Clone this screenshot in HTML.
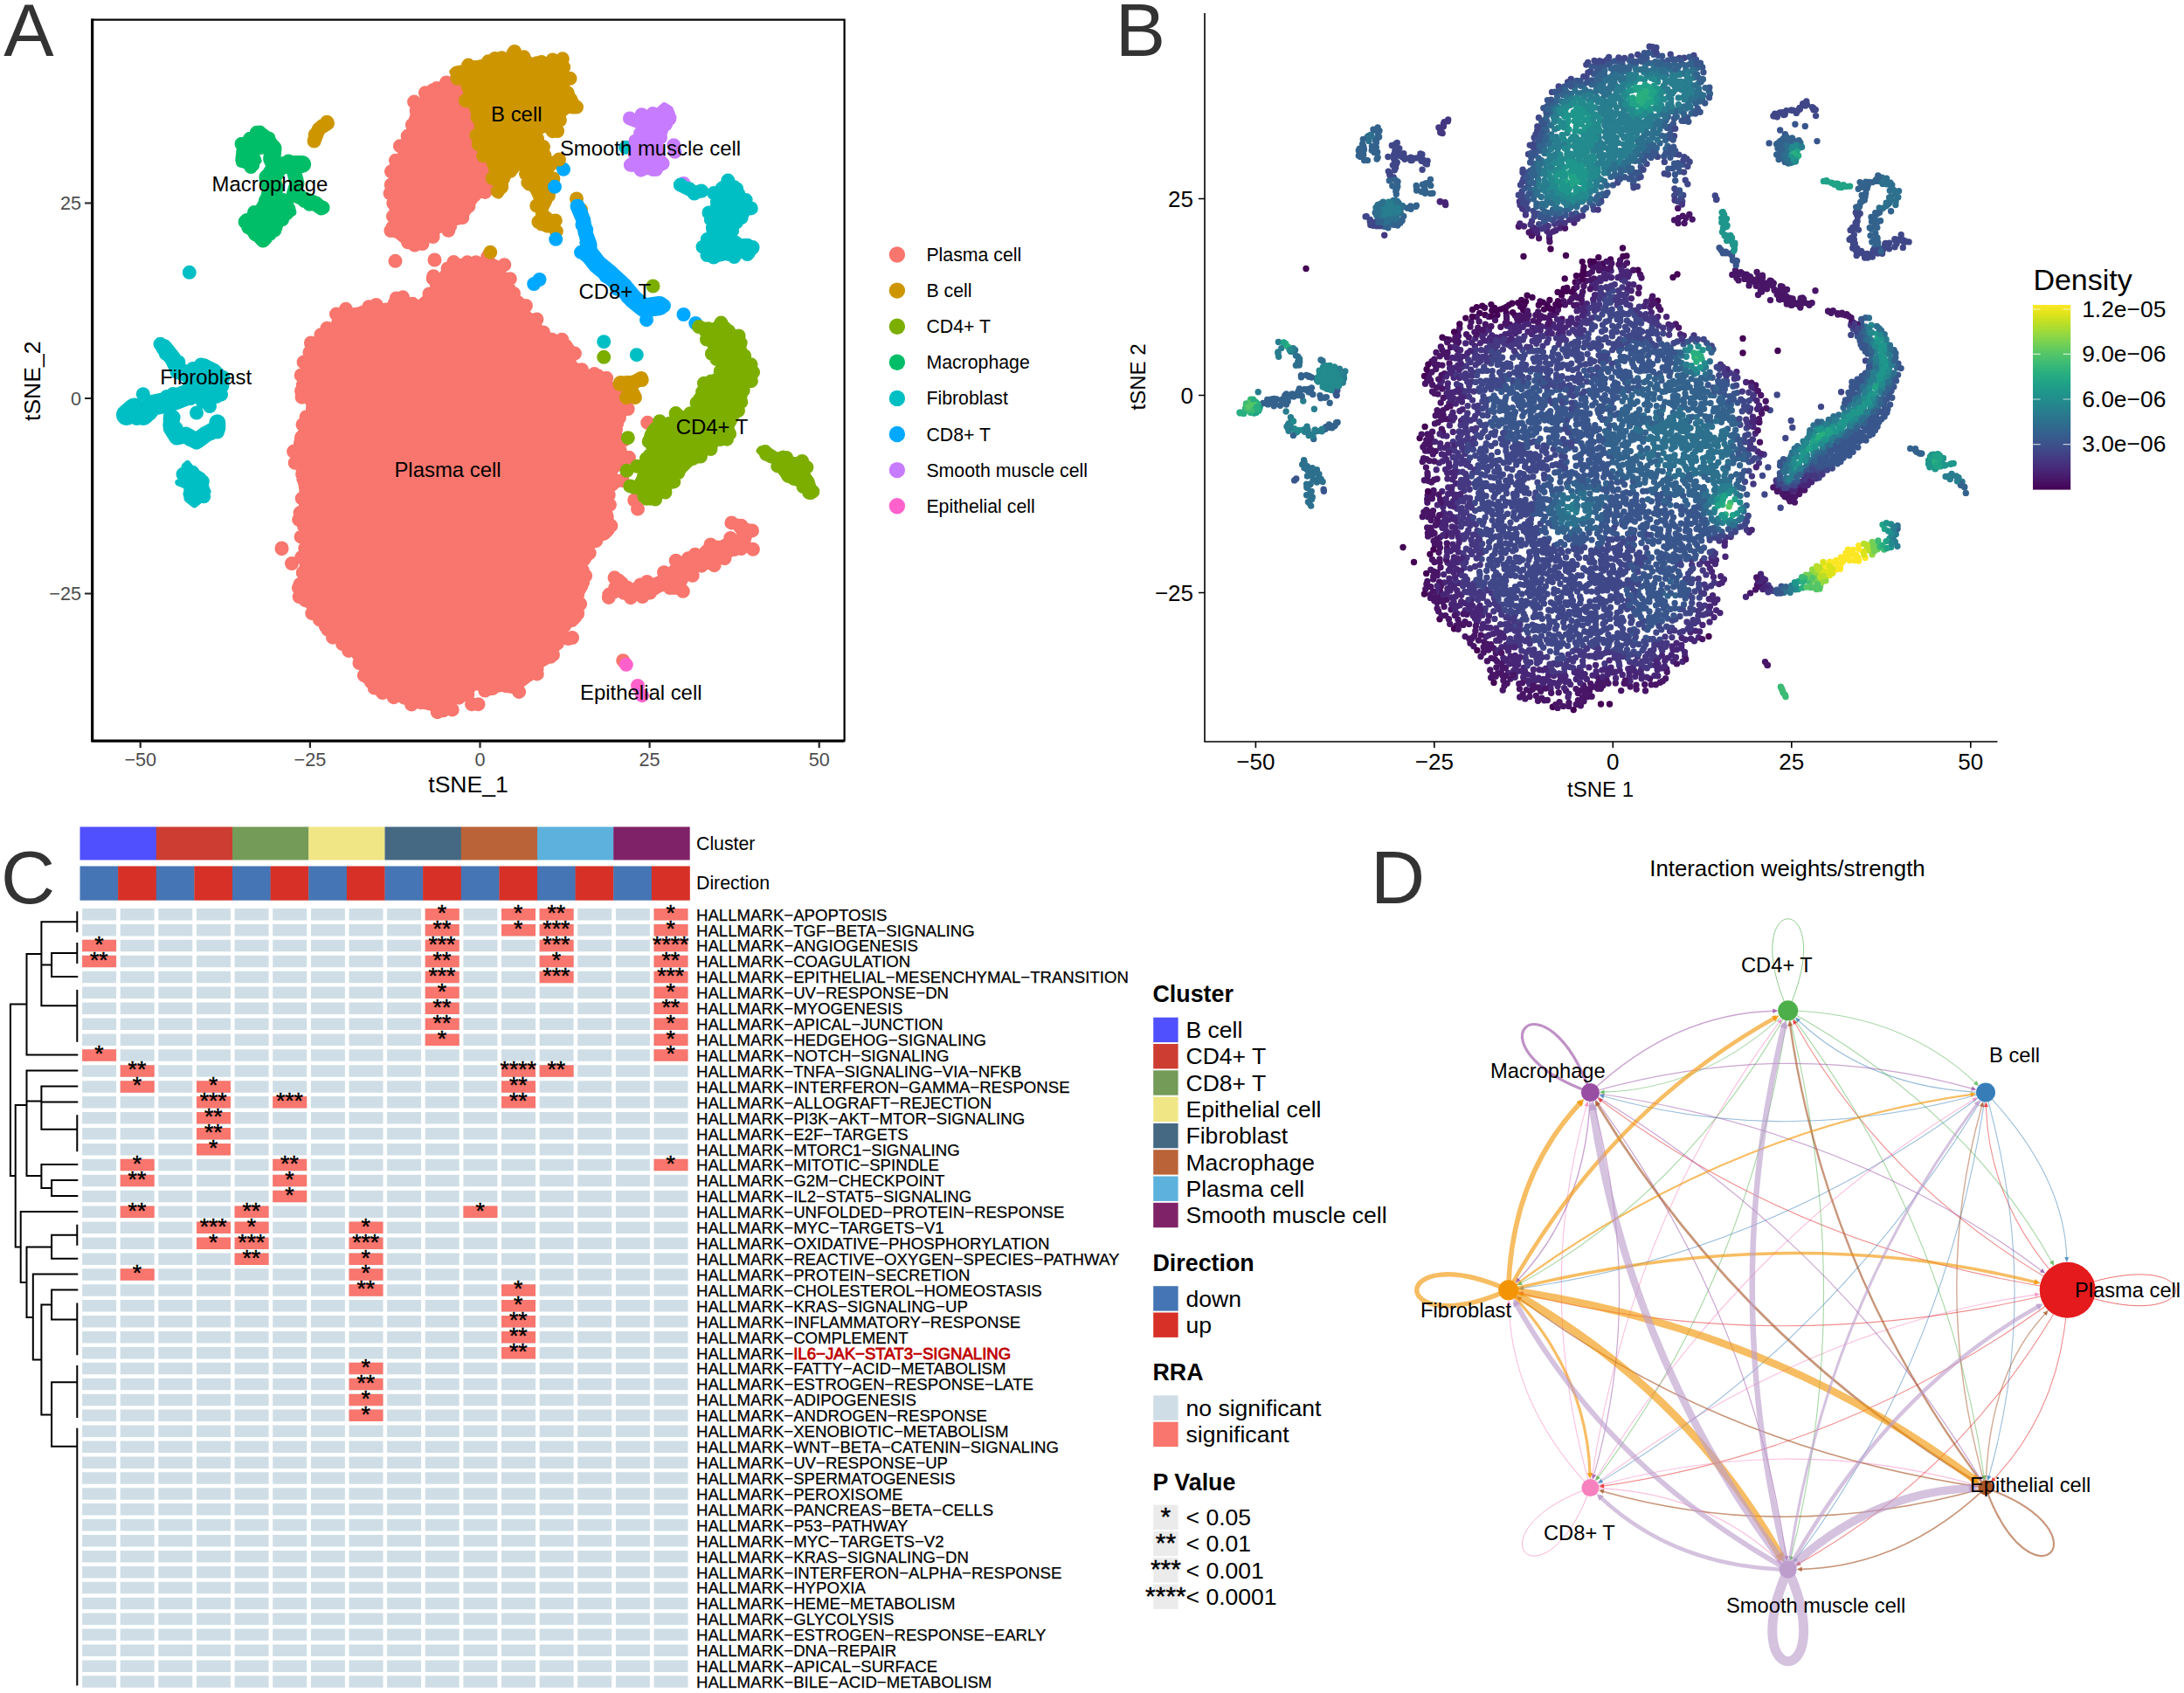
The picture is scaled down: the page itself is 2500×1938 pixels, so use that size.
<!DOCTYPE html><html><head><meta charset="utf-8"><title>Figure</title><style>html,body{margin:0;padding:0;background:#fff}svg{display:block}</style></head><body><svg width="2500" height="1938" viewBox="0 0 2500 1938"><rect width="2500" height="1938" fill="#fff"/><g id="pA">
<g stroke-linecap="round" stroke-linejoin="round">
<path d="M505.1 99.1L493.9 105.8L484.9 112.6L476.2 123.4L471.7 137L466.8 156.7L466.5 157.6L456.7 182.2L447.1 220.4L449.4 239L451.9 253.8L452 254.6L452 255.3L451.9 256L451.8 256.7L451.6 257.3L451.3 258L451 258.6L450.6 259.2L447.3 263.6L451.7 266.9L451.9 267L462.9 275.9L476.2 278.1L476.9 278.3L477.5 278.5L478.2 278.8L478.8 279.1L479.4 279.6L479.9 280.1L481.1 281.2L484 276.4L484.3 275.9L484.7 275.4L485.2 275L485.6 274.5L486.1 274.2L501.1 264.2L501.9 263.7L521.6 253.9L532.3 247.4L541.4 231.5L541.7 231.1L551.7 216.1L552.1 215.6L552.6 215L553.1 214.6L553.7 214.1L554.3 213.8L554.9 213.5L555.6 213.3L568 209.7L568 172.1L544.2 136.4L543.8 135.8L543.5 135.1L529.2 99.3L522.1 93.7L518.9 95.8L518.3 96.2L517.7 96.5L517 96.7L516.4 96.9Z" fill="#F8766D" stroke="#F8766D" stroke-width="8"/>
<path d="M499.9 101.1h0M495.6 103.2h0M486.8 106.3h0M474.1 116.6h0M476.6 126.4h0M471.9 142.9h0M466.6 155.8h0M468.9 156.5h0M457.9 167.2h0M453 183.7h0M452.5 192.7h0M447.9 196.3h0M447.7 211.5h0M446.5 221.3h0M450.3 232.7h0M450 247.7h0M449.5 260.2h0M447.4 264h0M453.1 264.5h0M467 277.3h0M474.7 280.5h0M483.5 279.1h0M495.6 271h0M495.4 267.8h0M513.3 263.8h0M515.2 258.7h0M523.8 249.8h0M529.3 249.1h0M536.4 236.2h0M543.1 223.7h0M555.3 219.9h0M560.9 210.9h0M572 212.6h0M565.5 196.6h0M568.4 188.7h0M563.9 176.2h0M565.6 170.8h0M558 157.1h0M547.9 150.9h0M549.1 140.5h0M541.2 126.7h0M533.6 115h0M531.5 110.1h0M526.4 99.3h0M522.7 90.1h0M510.9 94.4h0" fill="none" stroke="#F8766D" stroke-width="16"/>
<path d="M387.4 359.9L381.4 372.9L381.1 373.5L380.7 374L380.4 374.5L379.9 374.9L367.7 387.2L356.3 400.8L351.7 416.9L351.6 417.2L346.6 432.2L346.3 433.1L342.8 440L356.3 466.9L356.5 467.5L356.8 468.2L356.9 468.8L357 469.5L357 470.2L356.9 470.9L356.8 471.6L356.6 472.3L356.4 472.9L350.1 486.6L349.7 487.5L341.6 500.2L338.4 515.1L341.9 533.7L341.9 533.8L346.9 563.8L347 564.7L347 565.5L345.7 583L345.7 583.7L343.5 596.9L349.1 612.6L349.1 612.8L354.1 627.8L354.3 628.4L354.4 629.1L354.5 629.8L354.5 630.5L354.4 631.2L354.3 631.8L354 632.5L353.8 633.1L346.8 647.1L344.5 665.2L345.6 684.6L355.2 695.3L355.6 695.8L356 696.3L356.3 696.9L362.9 710.1L381.2 721.6L381.8 722L382.3 722.4L382.8 722.9L412.8 757.9L413.2 758.5L413.6 759L413.9 759.6L414.1 760.2L414.3 760.8L418.7 778.6L431.2 789L452.4 798.4L476.9 805.7L500.6 811.7L511.4 810.8L519.5 800.6L520.1 800.1L520.6 799.5L533.1 789.5L533.6 789.2L541.1 784.2L541.7 783.8L542.3 783.5L542.9 783.3L543.6 783.1L544.2 783L544.9 783L545.6 783L546.2 783.1L546.9 783.3L547.5 783.5L548.1 783.7L561.1 790.2L573.8 788.1L574.5 788L575.1 788L575.7 788L576.4 788.1L586.2 790.1L596 784.2L606.9 775.5L611.2 766.9L611.6 766.3L611.9 765.7L612.4 765.2L612.8 764.8L613.3 764.4L613.9 764L626.1 756.7L631.5 752.6L628.5 745.1L628.3 744.5L628.1 743.8L628 743.1L628 742.5L628 741.8L628.1 741.1L628.3 740.5L628.5 739.9L628.8 739.3L629.1 738.7L629.5 738.1L630 737.6L630.5 737.2L631 736.8L631.6 736.4L632.2 736.1L632.8 735.9L646.7 731.2L648.3 730L645.8 728.1L645.3 727.7L644.8 727.2L644.4 726.6L644 726.1L643.7 725.5L643.4 724.8L643.2 724.2L643.1 723.5L643 722.8L643 722.1L643.1 721.5L643.2 720.8L643.4 720.1L643.7 719.5L644 718.9L644.4 718.3L644.8 717.8L645.3 717.3L645.8 716.9L646.4 716.5L647 716.2L647.6 715.9L648.3 715.7L656.4 713.7L661.5 708.6L664.8 700.3L661.2 693.1L661 692.5L660.7 691.8L660.6 691.1L660.5 690.4L660.5 689.6L660.6 688.9L660.7 688.2L661 687.5L661.2 686.9L671.1 667.1L669.2 661.9L660.8 655.6L660.3 655.2L659.8 654.7L659.4 654.2L659 653.6L658.7 653L658.4 652.4L658.2 651.7L658.1 651.1L658 650.4L658 649.7L658.1 649L658.2 648.4L658.4 647.7L658.6 647.1L658.9 646.5L659.3 645.9L659.7 645.4L660.2 644.9L660.7 644.5L661.3 644.1L661.9 643.7L670.9 639.2L672.6 637.5L670.1 634.9L669.6 634.4L669.2 633.9L668.8 633.3L668.5 632.7L668.3 632L668.1 631.4L668 630.7L668 630L668 629.3L668.1 628.6L668.3 628L668.5 627.3L668.8 626.7L669.2 626.1L669.6 625.6L670.1 625L670.6 624.6L671.1 624.2L678.6 619.2L679.1 618.9L679.7 618.6L680.3 618.4L693.7 613.9L699 608.6L696.2 603.1L696 602.5L695.8 601.9L695.6 601.3L695.5 600.6L695.5 599.9L695.5 599.3L695.6 598.6L697.7 588.2L693.5 577.6L693.3 577L693.1 576.3L693 575.7L693 575L693 574.4L693.1 573.7L693.3 573.1L693.5 572.5L693.7 571.9L698.7 561.9L699.1 561.2L699.6 560.6L700.1 560L700.6 559.5L704.6 556.4L704.4 556.3L703.8 555.9L703.2 555.5L702.7 555.1L702.2 554.6L701.8 554.1L701.5 553.5L701.1 552.9L700.9 552.3L700.7 551.6L700.6 551L700.5 550.3L700.5 549.6L700.6 549L700.7 548.3L703.2 538.3L703.4 537.6L703.7 537L704 536.4L704.4 535.8L704.8 535.3L705.3 534.8L705.8 534.4L714.8 527.6L716.3 525.4L709.5 516.9L709.1 516.3L708.8 515.8L708.5 515.1L708.3 514.5L708.1 513.9L708 513.2L708 512.5L708 511.9L708.1 511.2L708.3 510.5L708.5 509.9L711.8 501.7L707.6 497.4L707.1 496.9L706.7 496.4L706.3 495.8L706 495.2L705.8 494.6L705.6 493.9L705.5 493.2L705.5 492.6L705.5 491.9L705.6 491.2L705.8 490.5L706 489.9L711 477.4L711.3 476.8L711.6 476.2L712 475.7L712.5 475.1L712.9 474.7L718.2 470.1L716 462.6L709.4 449.5L686.6 431.2L672.8 426.6L672.1 426.4L671.4 426L658.9 418.5L658.3 418.1L657.8 417.7L657.3 417.2L656.9 416.7L656.5 416.1L656.2 415.5L655.9 414.9L655.7 414.2L655.6 413.5L655.5 412.8L655.5 412.2L655.6 411.5L655.7 410.8L657.5 403.8L650.2 392.9L638.3 387L627.5 387L626.8 387L626.2 386.9L625.5 386.7L624.9 386.5L624.3 386.2L623.7 385.9L623.2 385.5L622.7 385.1L622.2 384.6L621.8 384.1L621.5 383.5L621.2 382.9L620.9 382.3L620.7 381.7L619.5 376.9L615.1 372.4L614.6 372L602.1 357L601.6 356.3L601.2 355.6L594.8 342.7L586.9 338.8L586.2 338.4L585.6 338L585.1 337.5L584.6 337L584.2 336.4L583.8 335.8L583.5 335.1L583.3 334.4L578.5 317.7L569.9 302.6L559.1 296.4L542.1 301.7L541.5 301.8L540.8 302L540.2 302L539.5 302L538.8 301.9L525.8 299.7L517.6 303L511.3 315.6L510.9 316.2L510.5 316.8L510 317.4L509.5 317.8L509 318.3L508.4 318.6L507.7 318.9L507.1 319.2L506.4 319.4L498.6 320.9L496.9 331.2L496.8 331.8L496.5 332.5L496.2 333.2L495.9 333.8L495.5 334.4L495 334.9L494.5 335.4L479.5 347.9L478.9 348.3L478.3 348.7L477.7 349L477 349.2L476.3 349.4L475.6 349.5L474.9 349.5L474.2 349.5L473.5 349.3L472.8 349.2L472.2 348.9L471.5 348.6L459.4 341.6L455.6 346.7L455.2 347.2L454.7 347.7L454.1 348.2L453.5 348.6L452.9 348.9L452.2 349.1L451.6 349.3L450.9 349.4L431 351.9L401.3 356.9Z" fill="#F8766D" stroke="#F8766D" stroke-width="8"/>
<path d="M385 359.6h0M385.5 374.2h0M374.5 375.7h0M367.4 383.2h0M355.9 392.4h0M354.4 403.5h0M347.6 414.6h0M351.2 428.8h0M344.7 429.5h0M345 447.5h0M345.6 454.7h0M358 467.7h0M357.6 471.3h0M350.5 477.3h0M346.5 486.1h0M345.1 500.3h0M342.9 516.7h0M336.1 516.8h0M337.7 529.8h0M346.1 543.1h0M347.2 548.3h0M350 565.2h0M345.7 570.6h0M343.5 587.1h0M342.2 594.9h0M348.1 602.6h0M344.6 614.4h0M349.3 627.7h0M353.4 634.2h0M345.1 638.1h0M346.7 655.4h0M343.4 668.8h0M341.9 672.9h0M342.6 683.1h0M349.6 687.2h0M357.2 702.1h0M366 709.4h0M372.9 717.2h0M375.2 720.6h0M381 729.7h0M392.1 737h0M399.2 744.9h0M410.3 749h0M411.5 759h0M416.8 773.1h0M425.1 780.9h0M428.7 787.6h0M437.9 793h0M450.7 798.2h0M462.9 798.7h0M471.1 806.4h0M471 805h0M481.9 804.2h0M500.7 815.2h0M507.3 813.3h0M517.7 812.4h0M525.4 798.7h0M535.3 795.1h0M537 787.3h0M545.3 782.6h0M555.3 790.6h0M563.7 788h0M579.8 785.3h0M594.1 791.9h0M593.5 780.8h0M605.2 772.4h0M614.8 771.4h0M614.6 766.1h0M630.2 751.8h0M632.9 749.7h0M632.9 741.6h0M637.8 736.7h0M650.5 731.1h0M644 726.5h0M646.3 716.1h0M655.3 708.8h0M661.1 702.5h0M664.2 691.3h0M661.1 680.9h0M665.1 671.2h0M670.2 659.1h0M666.8 652.9h0M659.4 645.8h0M668.2 640.7h0M674.7 633h0M673.4 625.8h0M676.6 616.1h0M682.2 619.2h0M693 608.4h0M699.4 601.8h0M694.8 591.5h0M692.8 581.8h0M697.9 577.8h0M696.7 566.7h0M704.2 551.7h0M701.2 547.3h0M703.8 533.7h0M707.7 529.9h0M711.8 522.6h0M709.8 515.4h0M713.6 504.1h0M705 491.6h0M706.2 484.7h0M708.9 478.3h0M718.7 468.1h0M710.3 457h0M712.8 451.9h0M700.7 444.9h0M694.2 432.8h0M684.1 430h0M680.3 428.1h0M666 423.2h0M652.5 418.8h0M657.9 404.6h0M648.8 398.1h0M643.2 388.7h0M631.9 388.7h0M623 383.6h0M622 380.4h0M614.4 365.5h0M606 365.8h0M601.9 350h0M595.1 348.1h0M588 336h0M582.1 329.3h0M583.8 319.2h0M577.3 303.2h0M572.3 306.1h0M558.2 293.8h0M544.8 300.2h0M542.5 305.3h0M534.9 300.3h0M519.3 300.1h0M512.5 307.5h0M510.3 315.7h0M495.7 318.9h0M499.7 325.5h0M491.4 336.4h0M481.3 351h0M472.2 347.8h0M461.1 340.3h0M453.7 341.5h0M451.6 347.3h0M430.6 349h0M422.3 351.2h0M415.6 357.4h0M407.5 360h0M395.9 353.8h0" fill="none" stroke="#F8766D" stroke-width="16"/>
<path d="M695.5 682.1L695.6 682L696.2 681.6L696.9 681.2L706.9 676.2L707.5 676L708.2 675.7L708.9 675.6L709.6 675.5L710.4 675.5L711.1 675.6L711.8 675.7L712.5 676L713.1 676.2L722.8 681.1L730.1 683.8L745 678.5L757.4 673.5L758 673.3L758.6 673.1L759.3 673L759.9 673L760.6 673L761.2 673.1L761.8 673.2L762.5 673.4L771.3 676.8L778 676.8L781.1 669.7L781.2 669.4L786.2 659.4L786.6 658.8L786.9 658.2L787.4 657.7L787.8 657.3L788.3 656.9L788.9 656.5L801.4 649L802.1 648.6L802.8 648.4L817.3 643.5L846.9 628.7L847.5 628.5L848.1 628.3L848.7 628.1L849.4 628L850 628L859.6 628L860.1 627.5L857.6 624.9L857.1 624.4L856.7 623.9L856.3 623.3L856 622.6L855.8 621.9L855.6 621.3L855.5 620.6L855.5 619.9L855.6 619.2L855.7 618.5L855.9 617.8L858.4 610.3L858.6 609.6L858.9 609L859.3 608.4L861.5 605.4L859.5 604L850.8 601.8L850.2 601.6L849.6 601.4L849.1 601.1L848.5 600.8L848 600.4L844.8 597.7L841.3 600.5L841.6 602.2L848.1 610.8L848.5 611.4L848.8 612L849.1 612.6L849.3 613.2L849.4 613.9L849.5 614.5L849.5 615.2L849.4 615.9L849.3 616.6L849.1 617.2L848.9 617.8L848.6 618.4L848.2 619L847.8 619.5L847.4 620L846.9 620.5L846.3 620.9L845.7 621.2L845.1 621.5L844.5 621.7L843.8 621.9L843.1 622L842.5 622L841.8 622L841.1 621.9L831 619.8L818.1 626.3L817.2 626.6L803.8 631.1L794.9 639.9L794.4 640.4L793.8 640.9L793.2 641.2L792.5 641.5L791.9 641.7L791.2 641.9L777.9 644.1L754.4 663L753.9 663.3L753.3 663.6L752.8 663.9L752.2 664.1L738.3 668.8L729.2 675.6L728.6 676L728 676.3L727.4 676.6L726.8 676.8L726.1 676.9L725.4 677L724.7 677L724.1 676.9L723.4 676.8L722.7 676.6L722.1 676.4L721.5 676.1L720.9 675.7L720.4 675.3L719.9 674.8L719.5 674.3L719.1 673.7L718.7 673.1L714.6 664.8L710.6 662.2L703.1 662.8L705.4 665.5L705.8 666.1L706.1 666.6L706.4 667.2L706.7 667.8L706.8 668.5L706.9 669.1L707 669.8L707 670.5L706.9 671.1L706.8 671.8L706.6 672.4L706.3 673L706 673.6L705.6 674.2L705.2 674.7L704.7 675.2L704.2 675.6L695.5 682.1Z" fill="#F8766D" stroke="#F8766D" stroke-width="8"/>
<path d="M696.8 683.9h0M704.2 673h0M714.3 678.8h0M722 684.2h0M735.4 683.1h0M744 678.6h0M749.4 673.3h0M767 673.1h0M781.8 676.8h0M777.4 669.2h0M781.6 659.9h0M792.7 658.8h0M803.1 647.7h0M811.4 644.1h0M817.6 647.2h0M829.5 639.2h0M840.5 629.1h0M848.3 628.1h0M861.9 628.8h0M851.9 623.4h0M861 607.4h0M858.5 607.4h0M848.5 601.7h0M837.4 598.4h0M849.7 615.6h0M845.8 623.6h0M836.2 616h0M821.6 626.6h0M813.4 623.4h0M808.8 631.2h0M795.7 634.7h0M787.7 639.3h0M773.7 641.7h0M774.8 650.7h0M760 655.2h0M759.4 663.6h0M740.7 666h0M733 669.4h0M728.6 674h0M717.9 672.5h0M708.1 664.5h0M703.5 661.3h0M702.8 677.6h0M697.3 680.6h0" fill="none" stroke="#F8766D" stroke-width="16"/>
<path d="M452.5 298.8h0M497.5 297.5h0M496.2 316.2h0M322.5 628.2h0M540 806.2h0M741.2 483.8h0M720 523.8h0M712.5 550h0M730 582.5h0M726.2 572.5h0M713.2 756.2h0M547.5 806.2h0M322.5 627.5h0M334 645h0M670 637.5h0M655 730h0" fill="none" stroke="#F8766D" stroke-width="16"/>
<path d="M561.2 288.8h0" fill="none" stroke="#CD9600" stroke-width="16"/>
<path d="M518.4 82.3L528.7 92.6L529.1 93L529.5 93.5L529.8 94L530.1 94.6L530.3 95.1L536.6 112.6L544.1 132.5L544.3 133.3L549.2 153.1L555.4 172.7L562.8 192.5L562.9 192.9L569.2 212.9L569.4 213.8L571.1 223.6L576.1 216.9L578.2 208.3L578.4 207.6L578.7 206.9L583.7 196.9L584.1 196.2L584.6 195.5L590.9 188L591.3 187.5L591.9 187L592.4 186.6L593 186.3L593.7 186L594.3 185.8L595 185.6L595.7 185.5L596.4 185.5L597.1 185.5L597.8 185.7L598.4 185.8L599.1 186.1L599.7 186.4L600.3 186.8L600.8 187.2L601.3 187.7L601.8 188.2L602.2 188.8L602.5 189.4L602.8 190L606.6 200L606.7 200.6L606.9 201.3L607 201.9L607 202.5L607 212.9L610.8 218.6L611.3 219.4L616.3 229.4L616.6 230.3L621.6 245.3L621.8 245.9L621.9 246.6L622 247.3L622 248L621.9 248.7L621.8 249.3L621.5 250L621.3 250.6L617.5 258.2L618 260.1L621.2 260.6L621.4 260.6L631.5 262.7L636.5 260.2L637.2 257.1L633 252.9L626.1 248.3L625.6 247.9L625.1 247.5L624.6 247L624.2 246.4L623.9 245.9L623.6 245.3L623.3 244.6L623.2 244L623 243.3L623 242.6L623 242L623.1 241.3L623.3 240.6L623.5 240L623.7 239.4L628.1 230.6L629.2 217.5L628 200.5L628 199.8L628 199.2L628.2 198.5L628.3 197.9L628.6 197.3L628.8 196.7L629.2 196.1L633.7 189.4L633.3 189.5L632.6 189.5L632 189.5L631.3 189.4L630.6 189.2L630 189L629.4 188.8L624.4 186.3L623.8 185.9L623.2 185.5L622.6 185L622.2 184.5L621.7 184L621.4 183.4L621.1 182.7L620.8 182.1L620.6 181.4L615.6 156.4L615.5 155.7L615.5 155L615.5 154.4L615.6 153.7L615.8 153L616 152.4L616.3 151.8L616.6 151.2L617 150.6L617.5 150.1L618 149.7L618.5 149.3L619.1 148.9L619.7 148.6L620.3 148.4L621 148.2L621.6 148.1L622.3 148L623 148L623.7 148.1L630.1 149.2L636.2 148.4L641.1 141.9L643.2 133.3L643.4 132.6L643.7 132L644 131.4L644.4 130.8L644.8 130.3L645.3 129.8L645.8 129.4L654.6 122.8L658.5 115.9L656.6 111.5L650.1 104.9L649.6 104.4L649.2 103.9L648.8 103.3L648.5 102.7L648.3 102L648.1 101.4L648 100.7L648 100L648 90.7L645.9 80.2L640.2 71.7L635.4 69.3L628.7 73.4L628.1 73.8L627.5 74L626.9 74.2L626.3 74.4L625.6 74.5L624.9 74.5L624.3 74.5L623.6 74.4L623 74.2L610.5 70.5L609.9 70.3L609.4 70L589.2 59.9L583.9 61.2L577.8 68.3L577.3 68.8L576.8 69.3L576.2 69.7L575.6 70L575 70.3L574.3 70.5L573.6 70.7L572.9 70.7L551.2 71.9L534.4 76.7L534.2 76.8L520.8 80.1Z" fill="#CD9600" stroke="#CD9600" stroke-width="8"/>
<path d="M523.2 83.5h0M523.5 89.8h0M536.5 99.2h0M532.8 115.2h0M534.4 115.2h0M546.5 134.3h0M550.8 147.1h0M545.3 154.9h0M547.7 165.2h0M553.3 170h0M553.1 178.3h0M566 187.9h0M563.6 203.9h0M572 213.9h0M569.7 219h0M574.2 214h0M575.8 204.5h0M587.1 192.1h0M584.3 195.8h0M600.2 189.9h0M602 199.1h0M604.3 208.9h0M605.9 210.6h0M618.3 228.2h0M614.3 235.5h0M625.3 249.4h0M616.4 254h0M626.4 258.5h0M636.8 264.7h0M635.8 252.4h0M627.4 252h0M620.7 244.8h0M624.1 227.5h0M628 223.8h0M633.4 204.5h0M624.9 201.1h0M634.1 186.2h0M627.5 188.3h0M623.4 178h0M622 168.1h0M615.1 158.9h0M616.7 147.2h0M632.6 150.2h0M638.1 150h0M640.9 137.5h0M655.3 122.6h0M660 122.6h0M649.8 106.3h0M647.2 108.6h0M652.5 89.8h0M645.2 76.8h0M643.9 67.3h0M632.6 68.5h0M619.8 71h0M614.5 72.3h0M599.7 65.3h0M589 59h0M587.5 60.9h0M574.4 66.3h0M566.6 66.9h0M558.9 70.3h0M544.2 77.1h0M536.1 74.6h0M527.9 83.3h0" fill="none" stroke="#CD9600" stroke-width="16"/>
<path d="M645 193.8h0M635 213.8h0" fill="none" stroke="#00A9FF" stroke-width="16"/>
<path d="M640 182.5h0M660 227.5h0M665 240h0" fill="none" stroke="#CD9600" stroke-width="16"/>
<path d="M375 141.2L365 147.5L360 160" fill="none" stroke="#CD9600" stroke-width="16"/>
<path d="M374.3 139.7h0M369 144.2h0M360.7 154.2h0M359.6 161.6h0" fill="none" stroke="#CD9600" stroke-width="16"/>
<path d="M710 438L722 440L734 433" fill="none" stroke="#CD9600" stroke-width="16"/>
<path d="M709.5 439.9h0M718.4 437.7h0M724.1 437.6h0M734.7 435h0" fill="none" stroke="#CD9600" stroke-width="16"/>
<path d="M720 442L727 455" fill="none" stroke="#CD9600" stroke-width="16"/>
<path d="M717.9 442.6h0M722.9 448.5h0M725.2 453.9h0" fill="none" stroke="#CD9600" stroke-width="16"/>
<path d="M717 455h0" fill="none" stroke="#CD9600" stroke-width="16"/>
<path d="M273.3 183L274.3 187.3L280.6 189.2L291.2 188.4L295.7 184L293 177.3L292.9 176.9L292.8 176.5L292.7 176.2L292.7 175.8L292.7 175.4L292.8 175L292.9 174.6L293 174.3L293.2 173.9L293.4 173.6L293.6 173.3L293.9 173L299.4 167.5L299.6 167.2L299.9 167L300.1 166.9L306.9 162.8L305.8 157.5L298.8 149.1L293.2 150.2L283.2 160.2L274.8 170.2Z" fill="#00BE67" stroke="#00BE67" stroke-width="8"/>
<path d="M278.9 182.7h0M287.2 191.1h0M289.2 188.9h0M292.2 168.8h0M298.3 169h0M307.6 158.4h0M297.2 151.4h0M293.8 151.8h0M286 158.8h0M276.6 164.7h0M278.6 173.7h0" fill="none" stroke="#00BE67" stroke-width="16"/>
<path d="M300 156.2L312.5 170L311.2 182.5L317.5 190L337.5 188L346.2 188" fill="none" stroke="#00BE67" stroke-width="20"/>
<path d="M300.6 158.6h0M301.1 165h0M307 168.6h0M312.5 175.8h0M309.5 181.6h0M316.9 187.7h0M324.5 189h0M330.2 184.4h0M339.6 187.9h0M343.9 190.4h0" fill="none" stroke="#00BE67" stroke-width="16"/>
<path d="M315 195L308.8 205L312.5 215L310 227.5" fill="none" stroke="#00BE67" stroke-width="24"/>
<path d="M318.6 194.5h0M307.1 200.6h0M304.4 202.3h0M311.1 208.4h0M310.6 220.7h0M304 229.3h0" fill="none" stroke="#00BE67" stroke-width="16"/>
<path d="M300.2 230.8L293.4 242.1L293.2 242.4L293 242.7L292.7 243L292.4 243.2L292.1 243.4L282.1 249.4L283.6 255.5L300 271.8L304.7 267.2L304.9 266.9L305.2 266.7L305.6 266.5L305.9 266.3L306.2 266.2L319.2 261.9L321.1 254L321.2 253.7L321.4 253.3L321.5 253L321.7 252.7L322 252.4L322.2 252.1L322.5 251.9L322.8 251.7L335.4 243.2L334 237.3L316.9 224.5Z" fill="#00BE67" stroke="#00BE67" stroke-width="8"/>
<path d="M302.8 234.6h0M291 243.1h0M290.7 245.3h0M291.9 259.6h0M292.4 268.4h0M304.1 272.6h0M309 267.9h0M314.3 263.6h0M323 251.3h0M327.8 244.7h0M328.5 235h0M323.4 228.7h0M315.7 231.1h0M309.9 227.3h0" fill="none" stroke="#00BE67" stroke-width="16"/>
<path d="M336.2 195L340 210L336.2 222.5L347.5 227.5L360 232.5L368 238" fill="none" stroke="#00BE67" stroke-width="17"/>
<path d="M338 192.7h0M338.2 202.7h0M338.9 211h0M338.6 216.1h0M338.6 220.1h0M345.6 226.1h0M348.6 230h0M354.4 233.8h0M362.6 233.1h0M369.6 237.7h0" fill="none" stroke="#00BE67" stroke-width="16"/>
<path d="M282.5 252.5L290 262.5L301.2 275" fill="none" stroke="#00BE67" stroke-width="17"/>
<path d="M280.6 254h0M284.2 260.3h0M290 264.9h0M299.3 270.1h0M302.2 273.9h0" fill="none" stroke="#00BE67" stroke-width="16"/>
<path d="M216.8 311.8h0M691.2 391.2h0M728.8 406.2h0M716.2 168.8h0" fill="none" stroke="#00BFC4" stroke-width="16"/>
<path d="M187.5 397.5L197.5 410L205 425L220 430" fill="none" stroke="#00BFC4" stroke-width="19"/>
<path d="M183.5 393.8h0M189.8 404.8h0M197 410.3h0M204.4 414.5h0M202.6 425.9h0M208.5 423.5h0M218.8 426.9h0" fill="none" stroke="#00BFC4" stroke-width="16"/>
<path d="M222.8 418.3L216.6 430.7L218.8 448.4L227.2 458.8L239.4 460.8L252 454.5L258.3 441.9L256.3 429.4L247.6 420.8L234.7 414.3Z" fill="#00BFC4" stroke="#00BFC4" stroke-width="8"/>
<path d="M220.8 422h0M215.9 432.4h0M216.4 444h0M218.2 445.4h0M231.9 459.8h0M235.3 455.1h0M248 453.9h0M253.1 451.5h0M254.2 441.7h0M255.6 432.1h0M245.5 426.5h0M242.4 423.2h0M230 417.5h0" fill="none" stroke="#00BFC4" stroke-width="16"/>
<path d="M145 475L153.8 467.5L163.8 475L175 463.8L187.5 461.2L200 457.5L212.5 452.5L230 447.5" fill="none" stroke="#00BFC4" stroke-width="24"/>
<path d="M145.1 476.8h0M154.8 465.9h0M154 467h0M156.6 479.1h0M171.6 473.6h0M166.8 470h0M183.1 462.3h0M190.4 460.7h0M190.9 454h0M198.1 450.9h0M206.4 457.3h0M218.1 456.1h0M225.5 446.5h0M230.7 446.7h0" fill="none" stroke="#00BFC4" stroke-width="16"/>
<path d="M163.8 451.2h0" fill="none" stroke="#00BFC4" stroke-width="16"/>
<path d="M196.2 477.5L196.2 490L202.5 500L212.5 498L225 505L235 497.5L248.8 490L248.8 483.8" fill="none" stroke="#00BFC4" stroke-width="19"/>
<path d="M198.6 477.7h0M194.4 486.2h0M201.4 490h0M204.7 494.8h0M206.4 496.7h0M217.4 503.2h0M224 501.9h0M231.4 501.1h0M232.3 501.2h0M242 495.8h0M248.9 494.5h0M248.5 486.5h0" fill="none" stroke="#00BFC4" stroke-width="16"/>
<path d="M225 472.5h0M240 465h0" fill="none" stroke="#00BFC4" stroke-width="16"/>
<path d="M204.3 552.4L214 556.3L214.3 556.5L214.7 556.7L215 556.9L215.3 557.1L215.6 557.4L215.8 557.8L216 558.1L216.2 558.5L216.3 558.8L216.4 559.2L216.5 559.6L216.5 560L216.5 560.4L216.4 560.8L214.4 570.9L222.5 577.4L232.1 569.7L237.6 562.4L234.2 557.2L234 556.9L233.8 556.5L233.7 556.2L233.6 555.8L231.4 545L220.4 538.4L220.1 538.2L219.8 538L219.5 537.7L219.3 537.4L214.6 531.1L211.5 534.2L211.5 547.5L211.5 547.9L211.4 548.3L211.3 548.6L211.2 549L211.1 549.3L210.9 549.7L210.7 550L210.4 550.2L210.1 550.5L209.8 550.7L209.5 551L209.2 551.1L208.8 551.3L208.5 551.4Z" fill="#00BFC4" stroke="#00BFC4" stroke-width="8"/>
<path d="M215.9 553.8h0M218.3 560.4h0M217.4 565.3h0M223 569h0M233.3 568.3h0M231.6 558h0M231.9 551.1h0M220.9 543.3h0M220.6 540.8h0M209.5 542.8h0M216 546.7h0" fill="none" stroke="#00BFC4" stroke-width="16"/>
<path d="M771.2 166.2h0M772.5 173.8h0M782.5 210h0" fill="none" stroke="#C77CFF" stroke-width="16"/>
<path d="M721.5 137.6L721.5 139.8L731.5 143.8L731.8 144L732.2 144.1L732.5 144.4L732.8 144.6L733.1 144.9L733.3 145.2L733.5 145.6L733.7 145.9L733.8 146.3L733.9 146.7L734 147.1L734 147.5L734 147.9L733.9 148.3L733.8 148.7L733.7 149L733.5 149.4L733.3 149.7L729 156.2L729 170L729 170.5L728.9 171L726.4 181L726.3 181.4L726.1 181.8L725.9 182.1L720.9 190L722.4 192.4L735.3 193.5L735.7 193.6L736.1 193.7L736.5 193.8L747.1 198L757.7 191.7L761.2 188.9L758.9 184.3L758.8 184L758.7 183.6L758.6 183.3L756.1 170.9L753.6 161L753.5 160.6L753.5 160.2L753.5 159.7L753.6 159.3L753.6 158.9L753.8 158.5L753.9 158.2L754.2 157.8L754.4 157.5L754.7 157.2L760.4 151.4L758.7 146.3L758.6 145.9L758.5 145.5L758.5 145.1L758.5 144.7L758.6 144.3L758.6 143.9L758.8 143.6L758.9 143.2L759.1 142.9L759.3 142.5L759.6 142.2L759.9 142L760.2 141.7L760.5 141.5L760.9 141.3L761.2 141.2L767.4 139.1L770.5 134.5L766.8 125.2L760.4 121.2L752.6 128L752.3 128.2L752 128.4L751.7 128.6L751.4 128.8L751 128.9L750.7 128.9L736.1 131.4Z" fill="#C77CFF" stroke="#C77CFF" stroke-width="8"/>
<path d="M720.9 135.4h0M737.7 146.8h0M733.1 152.6h0M727.3 161.4h0M729.1 169.1h0M726.7 176.3h0M721.8 188.8h0M733.6 194.7h0M737.1 193.2h0M750.9 194.1h0M758.6 187.1h0M753.1 182.4h0M751.2 171.9h0M756 157.5h0M755.2 156.8h0M757.7 146.9h0M762.1 142.3h0M766.3 136.2h0M760.9 126.3h0M760.4 126.8h0M747.2 130.1h0M738 135.6h0M734.6 131.2h0" fill="none" stroke="#C77CFF" stroke-width="16"/>
<path d="M780 212.5L795 220L803.8 218.8" fill="none" stroke="#00BFC4" stroke-width="15"/>
<path d="M778.8 211.6h0M789.2 216.3h0M794.8 221.5h0M802.7 218.6h0" fill="none" stroke="#00BFC4" stroke-width="16"/>
<path d="M826.6 211.1L819.3 220.3L818.2 230.7L818 231.7L814.4 246.2L813.2 258.1L812 273.1L811.9 273.8L811.7 274.4L811.5 275.1L807.7 284.7L810.8 290.9L817.1 297.2L828.3 294.5L829.1 294.3L829.8 294.3L830.6 294.3L842.9 295.3L850.8 289.4L851.3 289L851.9 288.7L852.5 288.5L853.1 288.3L853.7 288.1L854.3 288L863.6 287.1L864.8 285.4L860.6 280.6L853.3 277L842.5 277L841.8 277L841.1 276.9L840.5 276.7L839.8 276.5L839.2 276.2L838.6 275.8L838.1 275.4L837.6 274.9L837.1 274.4L836.7 273.9L836.3 273.3L836 272.7L835.8 272L835.6 271.4L835.5 270.7L835.5 270L835.5 260L835.5 259.3L835.6 258.6L835.8 258L836 257.3L836.3 256.7L836.7 256.1L837.1 255.6L837.6 255L838.1 254.6L838.6 254.2L846.1 249.2L846.9 248.7L854.5 244.9L857.3 237.8L854 231.2L846.9 221.7L846.6 221.2L846.3 220.7L846 220.1L842.3 210.7L835 208.6Z" fill="#00BFC4" stroke="#00BFC4" stroke-width="8"/>
<path d="M826.5 215.6h0M817.1 221.1h0M820.9 231.6h0M811.4 243.4h0M813.8 251.2h0M815.8 260.8h0M809.7 274h0M804.5 282.7h0M809.4 292h0M816.9 294.6h0M836 291.4h0M840.4 294h0M855.5 291h0M857.1 289.3h0M861.6 283.1h0M855.5 280.7h0M842.1 277.7h0M832.7 271.6h0M838.2 264.2h0M842.8 254.7h0M848.7 249.2h0M859.8 238.4h0M853.7 229h0M845.5 222.4h0M843.2 216.2h0M833.3 206.6h0" fill="none" stroke="#00BFC4" stroke-width="16"/>
<path d="M661.2 236.2L667.5 251.2L670 266.2L675 280L675 291.2" fill="none" stroke="#00A9FF" stroke-width="17"/>
<path d="M660.8 236h0M664.7 242.3h0M667.8 252.1h0M666.5 257.4h0M671.2 262.8h0M671.4 273.2h0M671.2 277.4h0M673 285.8h0M677.6 291.4h0" fill="none" stroke="#00A9FF" stroke-width="16"/>
<path d="M675 291.2L683.8 302.5L697.5 313.8L712.5 327.5L725 342.5L737.5 352.5L755 350" fill="none" stroke="#00A9FF" stroke-width="22"/>
<path d="M670.6 292.1h0M679.8 299.2h0M683.8 303.9h0M692.7 307.1h0M693.5 316.2h0M696.7 317.9h0M703.8 323.5h0M706.1 330.7h0M713.4 325.7h0M717 334.8h0M718.7 340.4h0M728.4 348.1h0M733.2 347.8h0M738 354.6h0M752.9 351.3h0M751.9 353.3h0" fill="none" stroke="#00A9FF" stroke-width="16"/>
<path d="M636.2 273.8h0M617.5 320h0M611.2 325h0M782.5 360h0M796.2 370h0M740 366.2h0M665 288.8h0M760 350h0" fill="none" stroke="#00A9FF" stroke-width="16"/>
<path d="M747.5 327.5h0M691.2 408.8h0M718.8 501.2h0M717.5 538.8h0" fill="none" stroke="#7CAE00" stroke-width="16"/>
<path d="M722.7 558.6L722.9 558.6L723.5 558.9L732.2 563.9L732.8 564.3L733.3 564.7L733.8 565.2L734.3 565.7L734.7 566.3L735 566.9L737.6 572L744.2 574.6L755.2 567.3L764.5 555.6L765.1 555.1L790.1 530.1L790.7 529.5L791.4 529L803.4 521.8L817.8 509.8L829.6 498L838.9 484L846.1 469.6L850.7 458.1L853.1 443.8L853.3 443.1L853.5 442.3L859.8 427.3L859.8 427.3L858.3 419.5L853.5 407.6L853.4 407.2L848.7 393.3L842.2 384.6L831.1 373.5L822.8 370.2L815.6 373.8L815 374L814.4 374.2L813.8 374.4L813.1 374.5L812.5 374.5L811.8 374.5L811.2 374.4L810.5 374.2L809.9 374L802.1 370.9L805.7 375.9L806.1 376.6L806.4 377.2L806.7 377.9L806.9 378.6L809.1 389.6L815.6 398.3L816 398.9L823.5 411.4L823.8 412L824.1 412.6L824.3 413.3L824.4 414L824.5 414.7L824.5 415.3L824.4 416L824.3 416.7L821.8 426.7L821.6 427.4L821.3 428L821 428.6L820.6 429.2L820.2 429.7L819.7 430.2L819.2 430.6L809.2 438.1L808.6 438.5L808.1 438.8L807.4 439.1L807.4 439.1L806.3 440.6L804.1 447.2L803.9 447.8L803.6 448.4L803.3 449L802.9 449.5L802.4 449.9L797.6 454.8L799.4 463.6L799.5 464.3L799.5 465L799.5 465.7L799.4 466.4L799.2 467.1L798.9 467.8L798.6 468.4L798.3 469L797.8 469.5L797.3 470.1L796.8 470.5L796.2 470.9L795.6 471.3L785.6 476.3L785 476.5L784.4 476.7L783.7 476.9L783.1 477L782.4 477L781.7 477L781 476.8L780.4 476.7L779.8 476.4L779.2 476.2L778.6 475.8L778 475.4L777.6 474.9L775.3 472.7L768 481.9L767.5 482.4L767 482.9L766.4 483.3L765.8 483.7L765.1 484L752.6 489L751.7 489.3L744.8 491L741.6 497.4L740.3 502.9L744.9 507.6L745.4 508L745.8 508.6L746.1 509.1L746.4 509.7L746.7 510.4L746.8 511L747 511.7L747 512.3L747 513L746.9 513.7L746.8 514.3L746.6 515L746.3 515.6L746 516.1L745.6 516.7L738.1 526.7L737.4 527.4L732.6 532.3L734.4 541.1L734.5 541.8L734.5 542.5L734.5 543.2L734.4 543.9L734.2 544.5L734 545.2L733.7 545.8L733.3 546.4L728.3 553.9L727.8 554.5L727.3 555.1L726.7 555.6Z" fill="#7CAE00" stroke="#7CAE00" stroke-width="8"/>
<path d="M721.3 556.4h0M737.4 568.3h0M740.2 570.8h0M750.1 571.6h0M761.4 563.6h0M763.5 554.8h0M771.3 551.4h0M776.4 541h0M782.9 530.5h0M793.3 524.9h0M801.9 522.5h0M813.5 514h0M824.5 503h0M832 502.7h0M835.1 496.4h0M833 491.2h0M842.1 470.5h0M845 470.1h0M848.3 460.2h0M850.7 446.9h0M859.9 436.2h0M862.1 426.1h0M859.6 417.3h0M852.2 407.5h0M847.7 392.6h0M845.6 384.4h0M834 378.9h0M829.6 375.5h0M825.4 369.6h0M810.8 376.3h0M800 374.1h0M807 378.2h0M809 388.6h0M814.9 405h0M820.3 411h0M825.9 415.2h0M824.7 424.9h0M813.9 436.6h0M806 438.7h0M804.1 448.7h0M797.5 461.2h0M798.3 472.4h0M790.1 473.2h0M777.7 476.6h0M773.6 473.1h0M766.3 484.8h0M755.1 482.2h0M749.9 491.2h0M742.7 505.3h0M746.8 510.5h0M743.9 521h0M740 524.9h0M729.3 533.8h0M736.5 546.4h0M725.6 557.8h0" fill="none" stroke="#7CAE00" stroke-width="16"/>
<path d="M869.6 516L874.9 520.5L884.6 526.6L885 526.9L885.3 527.1L885.6 527.4L885.8 527.8L890.8 535.2L897.9 544.6L906.8 551.3L916 553.6L916.3 553.7L916.7 553.9L917 554L917.3 554.2L917.6 554.5L917.9 554.7L918.1 555L918.3 555.3L926.9 568.1L929.7 567.7L932 562.3L928.8 551.7L922.9 542.1L922.6 541.7L922.5 541.3L922.4 540.9L922.3 540.5L921.2 532.1L915.9 527.6L904.6 526.5L904.2 526.4L903.8 526.3L903.5 526.2L903.1 526L902.8 525.8L902.5 525.6L902.2 525.3L896.4 519.6L891.3 521.3L890.9 521.4L890.5 521.5L890.1 521.5L889.7 521.5L889.3 521.4L889 521.4L888.6 521.2L888.2 521.1L887.9 520.9L878.6 515.1L871.4 514.2Z" fill="#7CAE00" stroke="#7CAE00" stroke-width="8"/>
<path d="M875.9 517.1h0M880.7 521.3h0M890.2 533.4h0M894 532.6h0M902.3 544.9h0M912.1 547.3h0M919.5 557h0M926.2 563.9h0M930.3 562.7h0M924.5 551.4h0M919.2 547.6h0M923.4 534.9h0M918.1 527.9h0M900.1 523.9h0M896.7 524.5h0M882.5 522.4h0M877.1 519.9h0" fill="none" stroke="#7CAE00" stroke-width="16"/>
<path d="M716.8 760.8h0M730 785h0M735 796.2h0" fill="none" stroke="#FF61CC" stroke-width="16"/>
</g>
<rect x="105.3" y="22.6" width="861.3" height="825.2" fill="none" stroke="#000" stroke-width="2.2"/>
<path d="M105.8 21.5V849.6M104.4 848.2H966.6" stroke="#000" stroke-width="2.9" fill="none"/>
<path d="M160.7 849v7M354.9 849v7M549.5 849v7M743.6 849v7M937.7 849v7M104 232.5h-7M104 456h-7M104 679.5h-7" stroke="#222" stroke-width="2.2" fill="none"/>
<g font-family='"Liberation Sans", sans-serif' font-size="21.6" fill="#4D4D4D">
<text x="160.7" y="876.5" text-anchor="middle">−50</text>
<text x="354.9" y="876.5" text-anchor="middle">−25</text>
<text x="549.5" y="876.5" text-anchor="middle">0</text>
<text x="743.6" y="876.5" text-anchor="middle">25</text>
<text x="937.7" y="876.5" text-anchor="middle">50</text>
<text x="93" y="240.0" text-anchor="end">25</text>
<text x="93" y="463.5" text-anchor="end">0</text>
<text x="93" y="687.0" text-anchor="end">−25</text>
</g>
<g font-family='"Liberation Sans", sans-serif' font-size="26.5" fill="#000">
<text x="536" y="907" text-anchor="middle">tSNE_1</text>
<text transform="translate(45.8 436.3) rotate(-90)" text-anchor="middle">tSNE_2</text>
</g>
<g font-family='"Liberation Sans", sans-serif' font-size="23.9" fill="#000" text-anchor="middle">
<text x="591.3" y="138.8">B cell</text>
<text x="744.5" y="177.5">Smooth muscle cell</text>
<text x="309" y="218.8">Macrophage</text>
<text x="703.8" y="342">CD8+ T</text>
<text x="235.6" y="439.6">Fibroblast</text>
<text x="815" y="497">CD4+ T</text>
<text x="512.5" y="545.5">Plasma cell</text>
<text x="733.8" y="801.3">Epithelial cell</text>
</g>
<g font-family='"Liberation Sans", sans-serif' font-size="21.3" fill="#000">
<circle cx="1026.9" cy="291.5" r="9.2" fill="#F8766D"/>
<text x="1060.4" y="299">Plasma cell</text>
<circle cx="1026.9" cy="332.6" r="9.2" fill="#CD9600"/>
<text x="1060.4" y="340.1">B cell</text>
<circle cx="1026.9" cy="373.7" r="9.2" fill="#7CAE00"/>
<text x="1060.4" y="381.2">CD4+ T</text>
<circle cx="1026.9" cy="414.8" r="9.2" fill="#00BE67"/>
<text x="1060.4" y="422.3">Macrophage</text>
<circle cx="1026.9" cy="455.9" r="9.2" fill="#00BFC4"/>
<text x="1060.4" y="463.4">Fibroblast</text>
<circle cx="1026.9" cy="497" r="9.2" fill="#00A9FF"/>
<text x="1060.4" y="504.5">CD8+ T</text>
<circle cx="1026.9" cy="538.1" r="9.2" fill="#C77CFF"/>
<text x="1060.4" y="545.6">Smooth muscle cell</text>
<circle cx="1026.9" cy="579.2" r="9.2" fill="#FF61CC"/>
<text x="1060.4" y="586.7">Epithelial cell</text>
</g>
</g>
<g id="pB">
<g fill="none" stroke-linecap="round" stroke-width="7.4">
<path stroke="#440154" d="M1832.5 806h0M1780.8 348.6h0M1995 404h0M1821.2 303.6h0M1713.9 360.4h0"/>
<path stroke="#481567" d="M1702.8 737.5h0M1667.6 399.4h0M1631.5 439.2h0M1648.7 571.8h0M1757.9 360.7h0M2011.4 669.8h0M1855.7 790.6h0M2103.8 360h0M1644.5 617.3h0M1810.1 790.2h0M2050.2 349.2h0M1877.6 314.5h0M1738.4 259.2h0M1992.7 311.6h0M1633.9 665.4h0M2038.4 327.8h0M1640.8 663h0M1820.7 320.7h0M1879 318h0M1806.4 801.8h0M1681.3 386.1h0M1648.7 677.1h0M1706.7 737.7h0M1659.1 388.9h0"/>
<path stroke="#482677" d="M1801.9 255.1h0M1774.2 785h0M2014.1 661.2h0M1890.4 357.6h0M1865.1 769.9h0M1935.6 731.2h0M1925.1 730.3h0M1844.1 310.1h0M1673.2 446.5h0M1971.1 667.1h0M1909.2 753.1h0M1684.6 701h0M1998.7 437.5h0M1725 741.5h0M1924.7 742h0M1965.8 686.3h0M1795.8 371.9h0M2059.5 557.1h0M1787.2 778.2h0M1667.9 702.3h0M1764.7 373.8h0M1831.9 318.1h0M1660.2 649.9h0M2008.1 444.6h0M1725 373.1h0M1659.9 646h0"/>
<path stroke="#453781" d="M1714 395.5h0M1865.9 349.7h0M1857.1 328.9h0M1675.6 617h0M1870 355.7h0M1657.7 136.9h0M1676.9 519.6h0M1673.4 420.3h0M1691 607.4h0M1665.4 542.3h0M1674 570.8h0M1800.5 377.6h0M1707.5 679.1h0M1677.5 598.9h0M1796.3 251.6h0M1893.6 751.8h0M1856.2 337.4h0M1684.9 491.4h0M1825.6 740.5h0M1682.8 673.8h0M1676.1 649.9h0M1755.8 743.6h0M1744.9 384.9h0M1691.8 686.6h0M1685.4 685.1h0M1689.2 417.7h0M1648.8 149.5h0"/>
<path stroke="#404788" d="M1742.5 641h0M1836.2 670.3h0M1755.2 241.4h0M1720.5 608.3h0M1752 506.8h0M1738.9 712h0M1860.8 647h0M1738.9 638.8h0M1601 174.7h0M1791.8 672.7h0M1840.2 629.5h0M1768.9 256.8h0M1848.7 375h0M2120.7 284h0M1891.1 393.4h0M1725.3 419.8h0M1725.8 505.8h0M1778.3 691.3h0M1916.9 216h0M1721.2 556.9h0M1727.2 528.9h0M1839 704h0M1992.8 457.2h0M1801.7 444.1h0M1719.6 692.1h0M1690 550.9h0M1892.2 731.5h0M2086.7 538.2h0M1773.7 715.2h0M1963.3 224h0M1826 667.2h0M1867.2 64.6h0M1872.4 680.4h0M1767 676.4h0M1744.3 607.7h0M1846.7 394h0M1696.9 459.5h0M1691.4 468.1h0M1598 188.5h0M2124.9 257.3h0M1807.8 668.7h0M2122.3 268.8h0M1840.4 698.1h0M1832.5 689.9h0M1778.3 728h0M1883.7 388.1h0M1750.1 564.7h0M1828.7 674.6h0M1846.5 664h0M1701.3 436h0M1888.1 731.7h0M1826.4 686.9h0M1739.7 573.5h0M1767 433.5h0M1700.1 523.1h0M1749.8 619h0M1720.3 543.1h0M1707.9 527.5h0M1838.5 348.4h0M1960.5 631.1h0M2124.2 286.6h0M1826.8 662.8h0M1776.4 408.3h0M1734.2 516.9h0M1839.9 743.1h0"/>
<path stroke="#39568C" d="M1794.4 478.9h0M1800.8 624.3h0M1985.7 605.4h0M1845.9 522.7h0M1925.6 625h0M1867.2 389.7h0M2066.3 144.5h0M1857.2 616.4h0M1889.1 419.5h0M2097.5 526h0M1871.1 732.7h0M1983.5 298h0M1872.3 569.9h0M1751.7 195.4h0M1886.9 619.6h0M1735.1 485.4h0M1967 440.5h0M1902.6 64.3h0M1818.1 507.6h0M1744.1 463.7h0M1885.3 562.1h0M1846.4 211.9h0M1946.4 72.3h0M1832.6 73.1h0M1822.6 523.4h0M2136 504.1h0M1824.2 551.4h0M1840.3 458.4h0M1908.4 146.4h0M1892.3 706.6h0M1826.3 460.8h0M1832.4 227.2h0M1891.7 711.6h0M1875 203.7h0M1915.3 600.2h0M1879.8 713.9h0M2136.2 488.1h0M1838 479.9h0M1747.4 508.3h0"/>
<path stroke="#33638D" d="M1936.1 433.6h0M2038.4 181h0M1576.7 174.2h0M1940.9 447.5h0M1765.7 163.8h0M1577.7 155.4h0M1914.5 463.3h0M1863.6 508.2h0M1620.5 236.4h0M1798.9 562.3h0M2033.7 176.9h0M1879.9 445.6h0M1933.6 481.7h0M1925 466.2h0M1906.7 156h0M2146.7 243.8h0M1894.6 559.7h0M1467.4 460h0M1865.4 487.7h0M1929.7 429.1h0M2142 248.4h0M1894.9 546h0M2199.8 519.1h0M1767.2 167.5h0M2107.3 501.9h0M1570.2 172.1h0M1459.7 462.6h0M1817.1 572.4h0M1965.7 477.9h0M1917.7 190.8h0M1941.4 451.3h0M1903.4 678.6h0M2134.9 214.8h0M1978.3 471.2h0M1606.7 247.5h0M1777.6 239.9h0M2245.2 555.2h0M1621.6 218h0M1952 476.8h0M1584.3 259.2h0M1458.5 456.5h0M1561.3 171.8h0"/>
<path stroke="#2D708E" d="M1953.3 500.2h0M1923.1 528.3h0M1777.2 232.6h0M1952.7 562.2h0M2065.9 535.5h0M1952 542.4h0M1849 97.4h0M1974.4 517.3h0M1487.2 418h0M1875.3 165.7h0M1939.5 428.1h0M2044.5 531.9h0M1843.9 93.7h0M1798.6 107.4h0M1938.6 88.9h0M2169.6 229.8h0M1587.6 249.5h0M2140.1 395.2h0M1976.6 512.4h0M1848 93.1h0M1500.5 563.9h0M2139.4 364h0M1815 584.2h0M1970.6 498.3h0"/>
<path stroke="#287D8E" d="M1836.7 177.6h0M1839.6 191.6h0M1797.2 230.1h0M1513.2 493.7h0M1783 122.4h0M1867.2 154.7h0M1592.5 241.5h0M1833.6 187h0M1921.7 96.8h0M2232.3 548.6h0M1532.6 438h0M1493.7 493.1h0M1885.3 87.3h0M1829.7 203.1h0M1857.8 148.1h0M2135.9 444.4h0M1971.7 598.5h0M1475.1 493.2h0M1850.3 157.7h0M1966.2 563.2h0"/>
<path stroke="#238A8D" d="M1823.4 140.7h0M1527 433.1h0M2133.8 452.6h0M1897.6 93.7h0M1825.1 189.5h0M1526.5 429.3h0M2149.9 447h0M1808.8 164.5h0M1487 492.4h0M1807.3 168.8h0M2139.9 445.9h0M1822.4 131.3h0M1824.2 162.4h0"/>
<path stroke="#1F968B" d="M1802.7 185.4h0M1817.5 201.6h0M1814.2 126.6h0M1789.3 219h0M1972.9 253.5h0M1813.8 213h0M1972.2 242.8h0"/>
<path stroke="#20A387" d="M1475.5 397.9h0M2074.8 507.3h0M1891.9 111.5h0M2104.8 214.2h0"/>
<path stroke="#29AF7F" d="M1939.8 409.3h0M2216.8 528.7h0"/>
<path stroke="#3CBB75" d="M2038.4 786.3h0"/>
<path stroke="#73D055" d="M2072.3 657.7h0"/>
<path stroke="#440154" d="M1801.2 812.6h0M1727.4 349.1h0M1655.8 388.4h0M1693.7 358.4h0"/>
<path stroke="#481567" d="M1784.2 792.8h0M2038.9 337.5h0M1862.4 300.9h0M1810.3 343.1h0M1633.7 571.4h0M1642.5 623.8h0M1751.4 791.1h0M2009.7 441h0M1677 711.8h0M2023 761.1h0M2056 347.2h0M1659.1 415.9h0M1649.2 461h0M1679 703.2h0M2015.6 468.7h0M1898.6 350.9h0M1705.8 767h0M1764.8 799.3h0M1656 686.2h0M1714.4 770.6h0"/>
<path stroke="#482677" d="M1961.5 660.5h0M1683.6 688.7h0M2018 667.8h0M1651.8 498.5h0M1669.5 614.9h0M1709.3 725.4h0M1704.4 377.9h0M1664.1 432.3h0M1656.1 450.5h0M1718.5 385.4h0M1771.1 381.6h0M2020.6 663.6h0M1662.8 668.8h0M1652.5 575.7h0M1677.2 698.7h0M1744.3 764.5h0M1944.3 729.8h0M1672.5 653.2h0M1648.2 230.7h0M1925.9 757.4h0M1744.5 259h0M1673.5 460h0"/>
<path stroke="#453781" d="M1796.7 763.6h0M1677.6 542.5h0M1836.4 338.3h0M1947.4 696h0M2033.8 554.2h0M1677.7 490.1h0M1877.2 359.8h0M1666.9 529.1h0M1939.6 713.5h0M1761.4 389.4h0M1805.5 382.8h0M1976.1 430.4h0M1682.7 591.3h0M1733.4 390.1h0M1958.6 670.7h0M1959 638.7h0M1739.9 720.9h0M1936.3 640.4h0M1751.5 397.5h0"/>
<path stroke="#404788" d="M1731.7 409.3h0M1725.3 536h0M1933 662h0M1856.6 707.1h0M1608 180.3h0M1767.5 721.6h0M2029.5 676.5h0M1860.4 654.4h0M1707.1 510.5h0M1866.6 706.1h0M1820 423.7h0M1740.4 653.8h0M1742.5 421.5h0M1745.6 705.7h0M1766.4 403.1h0M1849.2 632.1h0M1852.4 359.2h0M1799.7 405h0M1860.5 374.2h0M1760.2 610.1h0M1762.3 733.8h0M1749.5 596.8h0M1857.4 381.3h0M2117.1 274.2h0M1824.8 643.8h0M2121.3 376.4h0M1595.6 176.9h0M1875.9 737.5h0M1792.4 653.2h0M2120.9 262.8h0M1815.4 653h0M1706.7 643.3h0M1964.9 227.9h0M1731.3 519.4h0M1813.8 722.7h0M1784.6 439.2h0M1819.6 655.2h0M2125.2 292.5h0M1878.6 370.1h0M1938.9 63.4h0M1851.8 729.9h0M1890.9 376.3h0M1730.8 523.1h0M1718.7 596.5h0M1847.2 340.3h0M2180.9 275.9h0M1828.9 694.8h0M1832.7 651.1h0M1625.9 175.9h0M1720.9 591.7h0M1796.3 703.8h0M1810.5 433.4h0M1770.7 525.8h0M1735.3 405.5h0M1738.3 223.3h0M1597.6 192.1h0M1944.7 673.3h0"/>
<path stroke="#39568C" d="M1804.5 479.9h0M1907 601h0M1975.5 288.2h0M1763.2 457.6h0M1997.5 515.5h0M1776.3 449.1h0M1907.3 693.6h0M1743 459.6h0M1744.7 472.1h0M1803.9 244.1h0M1893.6 587.7h0M1851.5 576h0M2143.4 496.7h0M1926.6 567.5h0M1797.1 546h0M2132.6 488.1h0M1875.1 677.2h0M1988.6 449.6h0M1908.7 672.9h0M1913.9 147.4h0M2105.4 509.7h0M1803.2 541.9h0M1872.7 391h0M1871.7 555.5h0M1918.9 578.8h0M1834.1 530.7h0M1730.6 489.1h0M1759 587.5h0M1752.2 490.9h0M1881.6 657.1h0M1788.1 507.3h0M1855.4 412.3h0M1898.3 652.1h0M1732.2 438.8h0M1856.2 398.8h0M1890.3 573.7h0M1895.5 661.6h0M1905.4 397.8h0M1882 607.3h0M2091.3 521.4h0M1793.9 506.8h0M1853.6 579.6h0M1781.9 487.1h0M1768.6 452.6h0M2159.9 472.3h0M1810.9 440.9h0M1771.4 114.6h0M1718.2 445.2h0M1947.3 630.4h0M1918.8 628.7h0M1882.3 670.1h0M2167.8 442.8h0M1891.7 416.7h0M1864.9 204.7h0M1716.7 470.3h0M1779.5 438.2h0"/>
<path stroke="#33638D" d="M1755.9 187.2h0M1776.5 594.9h0M1893.3 451h0M2143.3 420.5h0M2086.2 516.5h0M1896.3 464.8h0M1828.5 560.6h0M1928.5 466.1h0M1571 169.4h0M1919.3 403.6h0M2129.7 446.2h0M2052.5 552.2h0M1774.3 587.6h0M1886.5 571.6h0M1847 509.9h0M1865.7 478.5h0M1901.6 553.4h0M1816.6 557.8h0M1784.4 562.6h0M1615 239.3h0M1834.8 221.9h0M2090.6 515.1h0M1951.9 461.2h0M2135.7 221h0M1917.1 465.7h0M1861.7 194.2h0M2040.9 159.4h0M2039.4 166.4h0M1621.2 212.4h0M1941.2 551.2h0M1933.9 565.7h0M1877.2 497.4h0M1517.1 491.3h0M1883.9 544.1h0M2035.2 164h0"/>
<path stroke="#2D708E" d="M1963.6 517.1h0M1899.2 491.2h0M2076 487h0M1579.9 234.1h0M1907.1 85.8h0M1964 557.9h0M2045.1 185.8h0M1887.1 487.2h0M1499 576.1h0M1804 574.9h0M1794.8 570.5h0M1589.5 256h0M1930.7 124h0M1790 584.8h0M1800.7 592.7h0M1483.4 418.2h0M1931.6 492.6h0M1924.5 508.8h0M1590.9 251.9h0M1896.5 486.1h0M1599 230.2h0M2145.1 468.2h0M1787.3 115.9h0M1863 183h0M1575 237.6h0M1959.1 593.4h0M1961.9 553.1h0"/>
<path stroke="#287D8E" d="M2080.7 489.3h0M1477.4 477.6h0M2146.7 402.5h0M1867.8 143.5h0M2089.2 507.6h0M2170.3 611.4h0M1874.1 140.4h0M1920.7 101.6h0M2246.1 551.4h0M1928.2 100.9h0M1595.5 236h0M1841.3 137.4h0M2049 166.1h0M1599.6 242.2h0M1590.7 244.8h0M1921.3 111.9h0M1764.9 198.7h0M1962.3 568.1h0"/>
<path stroke="#238A8D" d="M1526.6 423.4h0M1519.2 445.3h0M1804.8 223.2h0M2160.5 398.9h0M1515.3 440.7h0M1507.3 432.6h0M1783.9 184.5h0M1522.5 445.7h0M1816.5 180.7h0M1794 152.2h0"/>
<path stroke="#1F968B" d="M2053 170.3h0M2115 483.4h0M2209.5 522.6h0M1985.7 280.7h0M2148.6 382h0M1971.6 250h0M1804.6 120.6h0M2137.1 457.6h0M2153.8 418h0M2211.2 520.8h0M2134 465.6h0M1819.2 141.4h0"/>
<path stroke="#20A387" d="M1796.4 209.7h0M1442.6 464.8h0M1438.1 472.3h0M1440.7 470.3h0M2220.7 529.8h0M1804.9 204.7h0M2088.6 499.9h0"/>
<path stroke="#29AF7F" d="M1887 114.5h0M1877.5 113.6h0M2055.8 177.5h0"/>
<path stroke="#3CBB75" d="M1426.5 461.9h0"/>
<path stroke="#55C667" d="M2072 667.9h0"/>
<path stroke="#73D055" d="M2149.2 628.8h0"/>
<path stroke="#95D840" d="M2082.1 664.2h0"/>
<path stroke="#B8DE29" d="M2139.5 629.8h0"/>
<path stroke="#DCE319" d="M2083.3 655.4h0M2088.2 654.4h0M2087.2 650.7h0"/>
<path stroke="#FDE725" d="M2109.4 643h0M2098.5 643.8h0"/>
<path stroke="#440154" d="M1632.7 656.4h0M1875 309.2h0M1761.3 349.2h0M1803.2 323h0M1724.2 358.3h0M1495 307.5h0M1773.9 343.5h0M1625.1 501.6h0M1771.1 348.8h0"/>
<path stroke="#481567" d="M2054.4 575.1h0M1781.5 358.1h0M1801.8 349.5h0M1646.2 483.5h0M2061 343.9h0M2006.9 320.1h0M1746 361.3h0M2045.6 331.5h0M1633.9 575.2h0M1829 782.3h0M2029.9 557.9h0M1778.5 360.4h0M1792.6 790.8h0M2036.2 339.3h0M2061.2 341.5h0M1933.8 245.5h0M2060.3 349.8h0M2016.9 667.6h0M1809.4 807.7h0M2021.2 459.2h0M1918.2 371h0M2113.9 359.8h0M1712.9 764h0M1772.7 364.5h0M2017.2 324.9h0M2026.1 321.3h0M2069.9 347.8h0"/>
<path stroke="#482677" d="M1700.9 375.9h0M1655.3 607.6h0M1652.6 586.9h0M2056 561.5h0M1867.4 341.6h0M1663.8 641.6h0M1775 788.4h0M1918.4 752.4h0M1653.9 592.7h0M1662.5 548.7h0M1755.1 776.6h0M2002.2 609.2h0M1696.9 704.3h0M1696.1 719.3h0M2016.7 671.2h0M1688.8 387.3h0M1764.1 786.7h0M1654.2 231.6h0M1960.2 642.3h0M1672.6 481.7h0M1704.6 727h0M1653.3 667h0"/>
<path stroke="#453781" d="M1753.5 253.2h0M1701.5 402.2h0M2082.7 544.5h0M1953.1 672.9h0M1758.7 393.2h0M1684.5 436.9h0M1674.2 540.2h0M1668.7 540.3h0M1841.6 331.4h0M2013.4 530.1h0M2006.2 455.9h0M1702.5 689h0M1711.3 400.4h0M1725.7 394.2h0M1668.9 518.6h0M1697.2 684.2h0M1679 638.5h0M1683.8 506.4h0M1809.5 749.4h0M1790.5 770.1h0M1683.4 481.2h0M1682.8 650.7h0M1740.1 234.7h0"/>
<path stroke="#404788" d="M1786 668.3h0M2124.9 257.9h0M1700.1 592.3h0M1831 731.7h0M1714.3 417.5h0M1797 678.4h0M2118 274h0M1688.6 507.6h0M1702.7 585.8h0M1706.1 546.1h0M1757.3 696.8h0M1755.2 619.6h0M1820.3 416.1h0M1757.7 716.8h0M1775.3 689.6h0M1873.6 635.1h0M1818.2 382.2h0M1842.7 357.9h0M1867.4 400.2h0M1755 680.3h0M1927.9 179.6h0M1805.1 725.6h0M1873.3 644.9h0M2080.7 536.9h0M1599.1 185.9h0M1712.9 641.8h0M1714.4 410.1h0M1750.3 587.3h0M1708.1 430.8h0M1812.7 87.8h0M1963.1 615.2h0M1774.7 633.8h0M1784.2 99h0M1744.3 576.2h0M1741.3 618.2h0M1716.7 555.9h0M1715.7 414h0M1862.6 733.1h0M2137.8 295.1h0M1751.6 519.2h0M1776.5 629h0M1721.3 680.1h0M2083.4 539.8h0M1836.5 697.2h0M1817.2 394.3h0M1763.4 599.5h0M1854.9 682.5h0M1774.4 640.4h0M1769.9 518.4h0M1710.8 497.9h0M1701.7 653.3h0M1759.6 408.6h0M1697.1 576.6h0M1705.5 557h0M1769.4 623.9h0M1860.3 748.1h0M1568.8 257.6h0M1812.2 739.1h0M1787.6 644.8h0M1696.5 439.9h0M1595.9 179.4h0M1746.6 417.7h0M1800.4 423.6h0M2079.3 540.4h0M1711.6 507.3h0M1850.8 665.2h0M1796.4 689.4h0M1807.5 386.1h0M1878.8 642.3h0M1885 187.6h0M1770.7 421.8h0M1595.2 203h0M1695.4 628.8h0M1835 732.4h0M1687.8 553.6h0"/>
<path stroke="#39568C" d="M1770.5 571.8h0M1765.2 467.2h0M1898.3 576.6h0M1880.7 601.1h0M1749.5 463.3h0M2097.8 529.8h0M1810.1 507.4h0M1844.4 421.4h0M1759.7 166h0M1917.3 696.3h0M1883.8 659.6h0M1869.6 610.9h0M1932.8 139.3h0M1752.2 475.7h0M1750.4 498.9h0M1816.5 533.8h0M1851.3 454.9h0M1831.3 607h0M1875.7 692.2h0M1942.4 624.1h0M1769.4 475.7h0M1725.2 477h0M1760.4 244.4h0M1897.5 412.2h0M1841 606.3h0M1869.5 444.3h0M1917.4 199.7h0M1797.6 476.1h0M1886.8 643h0M1832.6 77h0M1858 565h0M1844.6 461.1h0M1831.1 465.1h0M1850.5 611.7h0M1913.1 402h0M1933.8 607.7h0M1829.6 424.2h0M2037.4 541.6h0M1922.6 671.9h0M1732.2 502.4h0M1848.5 577.7h0M1834.2 480.4h0M1861 570.9h0M1831.2 511.9h0M1721.2 469.5h0M1774.6 556.4h0M1530 452.5h0M1905.5 576.8h0M1861.1 432.1h0M1852.5 473.3h0"/>
<path stroke="#33638D" d="M1906.4 448h0M1928.7 546.8h0M1777.6 566h0M2131.2 223.4h0M1860.2 454.6h0M1597.9 216h0M1781.4 241.7h0M1977.2 478.3h0M1516.5 455.3h0M2041.6 161.3h0M1948.7 113.4h0M1956.1 104.1h0M2038.9 172.4h0M1465.5 464.3h0M1859.5 77h0M2127.2 216.2h0M1858.2 496.8h0M1451.7 462.4h0M1886.2 445.4h0M1572 148.2h0M1958.6 482.8h0M1796.9 613.2h0M2135.5 363.7h0M1605.8 235.9h0M1527.3 487.8h0M1896.9 482.8h0M1876.4 501.5h0M1861 493.4h0M1489.6 431.1h0M1911.8 565.8h0M1895.7 542.7h0M1822.3 596.6h0M1868.8 476h0M2146.8 266.9h0"/>
<path stroke="#2D708E" d="M1975.2 541.1h0M1842.5 109.4h0M1922.9 469.4h0M2043.5 183.5h0M1907.1 505.2h0M1808.6 596.2h0M1845.2 89.5h0M1777.9 129.2h0M2137.3 439.4h0M1896.2 80.9h0M1784 575h0M2104.8 474.9h0M2049.9 163.7h0M1950.5 534.2h0M1598.8 248.8h0M1768 175.4h0M1854.2 191.2h0M1855.8 187.7h0M1920.3 81.1h0"/>
<path stroke="#287D8E" d="M2076.1 520h0M2050.1 528.1h0M1846.8 152.3h0M2157.9 440.4h0M1827 169.8h0M1472.1 471h0M1533 427.2h0M1538.5 433.1h0M1776.8 225.1h0M1585.6 240.3h0M2058.9 164.9h0M1872.5 85.5h0M1913.6 95.6h0M1839.2 148.2h0"/>
<path stroke="#238A8D" d="M1820.9 168.9h0M1904.8 104.2h0M1517.9 438.4h0M2160.8 415.7h0M1529.9 439.9h0M2164.6 599.9h0M1981.1 595.5h0M1783.6 146.2h0M2151 443.1h0M1858.7 116.4h0M1516.5 442.8h0M2133.4 456.1h0"/>
<path stroke="#1F968B" d="M2151.8 398.7h0M1883.8 124.5h0M1798.9 223.6h0M2118.1 480.8h0M2112.6 479.2h0M1973.4 251.2h0M1806.9 131h0M2122.6 476.3h0M1781 199.7h0"/>
<path stroke="#20A387" d="M1796.6 197.5h0M2148.4 439.2h0M1435.5 473.1h0"/>
<path stroke="#3CBB75" d="M1980.7 575.8h0M1943.5 409.3h0"/>
<path stroke="#FDE725" d="M2116.4 632.4h0M2106.8 646.7h0"/>
<path stroke="#440154" d="M1792.5 292.5h0M1814.7 313.8h0M1778.8 354.7h0"/>
<path stroke="#481567" d="M1646 451.1h0M2063.3 340.9h0M1811.8 347.7h0M2014.7 671.4h0M1656.6 408.9h0M2038.1 340.1h0M2042 334h0M1802.5 337.8h0M1724.6 365.7h0M2065.7 561.1h0M1649.3 671.2h0M1648.1 643.4h0M1650.9 400.6h0M1693.1 368h0M1789.5 808.4h0M1647.7 589.7h0M1858.7 303.9h0M1883.5 790.7h0M1647.7 666.3h0M1876.2 329.2h0M1999.8 318.8h0M1638.3 506h0M1649.3 396.9h0M1641.1 654.2h0M2003.6 678.9h0M2050.4 568h0M2037.2 341.2h0M1643.2 516.4h0M1678.6 382.7h0M2071.1 349.2h0M1783.4 354.5h0"/>
<path stroke="#482677" d="M1763.2 378.3h0M1716.3 733.3h0M1675.9 453.7h0M1788.5 257.3h0M1666.9 566.4h0M1659.5 666.5h0M1690.6 711.9h0M1785.4 372h0M1766.1 767.1h0M1864.6 325.6h0M1923.6 382.7h0M1826.6 761.4h0M1693.7 379.6h0M1688.3 396.1h0M2012.1 516.9h0M1740.4 768.1h0M2021.3 672.4h0M1644.5 677.3h0M1761 775.9h0M1668.7 406.4h0M1685.7 693.4h0M2069.4 555.2h0M1773.8 377.2h0M1748.8 779.4h0M1860.3 315.5h0"/>
<path stroke="#453781" d="M1936.7 646.8h0M1906 728.9h0M1729.1 390.7h0M1883.9 364.8h0M1713.4 693.3h0M1803.4 380h0M1950.6 679.5h0M1884.9 756.5h0M1831.8 751.4h0M1679.6 512.6h0M1770.9 392h0M1784.8 254.6h0"/>
<path stroke="#404788" d="M1743.1 527.1h0M1756.3 625.9h0M1723.9 559.5h0M1771.3 537.3h0M1712.1 614.3h0M1805 646.4h0M1732.1 682.2h0M2155.5 285.9h0M1614.9 183.5h0M2149.5 290h0M1798.3 90.5h0M2058.1 126.5h0M1841.3 392.1h0M1766.5 441.5h0M1802.5 662.3h0M1784.8 689.2h0M1734.6 659.2h0M1737.2 581.2h0M1805.5 421.9h0M1731.7 435.5h0M1625.9 181.2h0M1863.3 631.7h0M2002.2 458.6h0M1730.9 653.5h0M1891.4 372.5h0M1712.7 655.7h0M1816.7 436.9h0M1792 403.7h0M1831.9 671.8h0M1976.5 436.3h0M1756.1 157.4h0M1923 642.4h0M1868.7 371.7h0M1716.9 621h0M1596.6 177.3h0M1723.5 574.4h0M1870.3 685.9h0M1799.6 432.5h0M1756 505.5h0M2043.8 501.5h0M1802.7 465.3h0M1847.6 669.1h0M1808.1 699.2h0M1770.1 425.1h0M1701.1 486.3h0M1793.7 407.4h0M1826.2 701.1h0M1784.2 726.1h0M1735.3 638.3h0M1900 732.3h0M1595.6 188.3h0M1761.8 655h0M1822.7 430.4h0M1796.7 440.9h0M2063.6 120.7h0M1846.7 627.6h0M1737 420.9h0M1748.5 717.2h0"/>
<path stroke="#39568C" d="M1760.3 576.4h0M1729.9 474.4h0M1917.1 690.5h0M1848 591.6h0M1940.3 621.1h0M1808.8 499.8h0M1719 484.6h0M2119.9 437.3h0M1741.9 445.6h0M1827.5 544.3h0M1829.6 438.4h0M1902.8 565.3h0M1728.1 495.4h0M1741.4 467.7h0M1884.1 730.1h0M1748.3 494.4h0M1861.7 576.8h0M1909 708.1h0M2161.6 449.3h0M1804.7 630.7h0M1876.4 697.6h0M1755.8 459.4h0M1849.1 572.6h0M1915.3 642.8h0M1928.7 634.3h0M1776.9 602h0M1947.7 618.9h0M1722.1 501.7h0M1888.1 659.7h0M1769.8 439.2h0M1861.6 563.7h0M2102.8 525.4h0M1860.9 425.4h0M1822 514h0M1837.2 452.4h0M1787.3 516.9h0M1915.5 592.1h0M1822.1 437.8h0M1844.3 569.4h0M1867 584h0M1806.2 544.6h0M1813.5 544.2h0M1930.7 666.4h0M1871.9 397.6h0M1816.1 492.4h0M1933.7 618.3h0M1811.7 612h0"/>
<path stroke="#33638D" d="M2135.2 435.8h0M1470.6 455h0M1860.7 506.5h0M2141.9 405.5h0M2135.1 225h0M1984.9 503.2h0M1450.7 457.4h0M1825.2 560.1h0M1881.6 451.8h0M1528.2 486.9h0M1929.9 443.5h0M1597.8 219.3h0M2042.8 674.7h0M1957.4 107.2h0M1458.2 464.7h0M1901.5 474.2h0M2135 224.9h0M1598.3 222.3h0M2136 481.5h0M1939.3 76.3h0M1795.4 239.7h0M1489.5 431.8h0M2127.4 238h0M1853.9 495.1h0M1847.4 500.5h0M1893.3 170.7h0M1846.8 518h0M1865.2 466.5h0M1952.7 433.8h0M1915.7 456.8h0M1882.7 173h0M1586.3 259.1h0M1819.9 231.7h0M1938.1 466.7h0M1884.8 436h0M1883.2 548.6h0M1982.9 478h0"/>
<path stroke="#2D708E" d="M1914.9 508.4h0M1924.1 127.3h0M1906.5 532.4h0M1924.6 483h0M1565 157.2h0M1966.3 544.5h0M1578.1 244.4h0M1863.7 186.7h0M1918.8 126h0M1577.9 246.2h0M2164.8 431.8h0M1600.5 241.7h0M1495.6 566.8h0M1576.9 235.9h0M1954.6 573.9h0M1916 532.4h0M1951.5 538h0M1596.4 231.8h0M2163.3 218.3h0M1504.4 541.4h0M1929.1 506h0M1927.5 520.3h0M2151.1 375.9h0M1888.8 490.1h0M1912.6 504.1h0M1948.7 499.4h0M1843.7 97.6h0M2135.4 374h0M1906.2 511h0M1955.3 568.3h0M2059.2 162.9h0M1937.5 503.7h0M1578 238.4h0M1848 194h0M1943.5 512.5h0"/>
<path stroke="#287D8E" d="M1766.9 195.1h0M1931.7 96.7h0M1986.4 597.5h0M1845.6 139.1h0M1855.8 118.7h0M1781.3 136.1h0M1916.1 104.6h0M1952.5 420.2h0M1881.8 82.7h0M1539.8 424.9h0M1835.5 169.1h0M1833.5 131h0M1591.7 240.7h0M1987.8 565.2h0M1583.8 237.2h0M1827.2 211.7h0M2071.3 526.2h0M2059.8 164.5h0M1779.9 176.9h0M1849.4 108.6h0"/>
<path stroke="#238A8D" d="M2075.4 515.8h0M1829.7 153.1h0M1825.6 198.3h0M1784.4 218.6h0M1527.1 443.9h0M2127.1 464h0M1787.6 227.6h0M1522.3 432.4h0M2142.1 372.3h0"/>
<path stroke="#1F968B" d="M1810.3 201.1h0M1801.2 128.5h0M1795.8 132.4h0M1818.8 134.1h0M1816.4 129.1h0M2095.5 498.7h0M1810.2 142.3h0M1975.2 269.1h0M1862.3 110.8h0"/>
<path stroke="#20A387" d="M2155 600.6h0M2074.9 503.5h0M2091.6 207.7h0M2096.5 209.2h0M2087.4 207.4h0M2213.1 533.9h0M1801.2 198.2h0"/>
<path stroke="#29AF7F" d="M2211.5 527.8h0"/>
<path stroke="#3CBB75" d="M2040.2 790.3h0"/>
<path stroke="#55C667" d="M1433.1 462.4h0"/>
<path stroke="#73D055" d="M2083.7 670.5h0"/>
<path stroke="#95D840" d="M2074.6 651.9h0"/>
<path stroke="#DCE319" d="M2091 659.3h0"/>
<path stroke="#FDE725" d="M2124.8 635.5h0"/>
<path stroke="#440154" d="M1696.7 350.3h0M2035 401.5h0M1699.9 360.5h0"/>
<path stroke="#481567" d="M2013.5 479.7h0M1641.1 619.3h0M2119 363.7h0M2022 327.5h0M1688.9 722.2h0M2004.8 438.3h0M2026.5 343.6h0M1698.2 740.8h0M2103.6 358.8h0M1807.3 322.3h0M1650.9 418.1h0M1760.5 802.2h0M1650.3 491.3h0M2046.3 345.3h0M1916.6 251.9h0M1704.2 362.4h0"/>
<path stroke="#482677" d="M1648.8 512.4h0M1667.9 676h0M1987.9 425.8h0M1924.8 738.4h0M1668.4 626.3h0M1954.6 645.3h0M1659.6 421.5h0M1648.8 440h0M1948.9 642.3h0M1766.6 777.4h0M1720.8 753.1h0M1663.5 427.4h0M2011 458.7h0M1660.2 671.2h0M1870.4 767.5h0M1763.5 778.8h0M1671.1 411.4h0M1969.7 659.8h0M1650.4 436.1h0M1654.2 512.6h0M1731.8 759.4h0M1654.6 601.8h0M1929.3 732.2h0M1863.5 316.8h0M1851.9 317.8h0M1682.8 696.6h0"/>
<path stroke="#453781" d="M2024.1 669.9h0M1685.1 430h0M1943.5 711.2h0M1766 396.2h0M1710.9 708.4h0M1981.2 614.6h0M1692.5 415h0M1852.8 332.7h0M1671.6 504h0M1684.7 634.3h0M1810.8 368.9h0M1826.6 752.6h0M1803.4 752.7h0M1728.3 708.1h0M2124.2 374.2h0M1663.3 505.6h0M1813.9 365.5h0M1677 527.8h0M1679.7 436.9h0M1890.7 754.2h0M1853.7 762.1h0"/>
<path stroke="#404788" d="M1837.5 351.7h0M1725.6 588.2h0M1755.1 694h0M1856.4 686.5h0M2149.7 284.6h0M1769.7 534h0M1605.4 179.7h0M2082.1 546.9h0M1739.1 515.4h0M1758.6 635.3h0M1815.5 731.5h0M1709.4 650.8h0M1742.2 219.2h0M2043.2 131.1h0M1790.9 531.5h0M1857.6 720h0M1723.7 659.2h0M1689.3 437.4h0M1805.9 412.2h0M1690.8 670.1h0M1754.7 655.9h0M1718.8 670.4h0M1828.1 628.1h0M1799.9 642.5h0M1796.4 732.1h0M1757.4 422.8h0M1711 633.7h0M1793.1 482.1h0M1708.2 424.8h0M1847.4 744.6h0M1805.7 432.3h0M2013.9 523.2h0M1812.6 650.5h0M2125.4 245.3h0M1794.5 739.3h0M1737.7 619.6h0M1712.7 527.4h0M1830.3 364.5h0M1725.7 524.1h0M1760.4 434.2h0M1871.2 374.3h0M1855.4 395.1h0M1731.5 512.3h0M2122.4 274.1h0M1777.8 659.6h0M1789.6 712.5h0M1787.3 528.9h0M1811.6 385.3h0M1777.7 402.9h0M1710.6 546.9h0M1968.2 422.3h0M1845.8 647.6h0M1715.2 574.7h0M1799.2 393.6h0M1732.4 565.5h0M1749.7 432.4h0M1708.2 595.6h0M1694.8 500.3h0M1708.2 636.5h0M2118.8 383.4h0M1760 552.2h0M1768.1 617.5h0"/>
<path stroke="#39568C" d="M1850.8 568.4h0M1823.1 542h0M1852.4 542.1h0M1895.1 174.8h0M1768 604.7h0M1843.4 588.1h0M2120.1 507.4h0M1776.9 478.7h0M1530 452.6h0M1737.9 499.7h0M1785 457.9h0M2039.2 671.3h0M1974.1 452.2h0M1837.1 541.6h0M1889 403.2h0M1922.8 697.3h0M1780.9 248.3h0M1962.1 604.5h0M1996.7 594.2h0M1865 426.6h0M1828.5 610.7h0M1844.3 577.8h0M1752.2 480.1h0M1999.2 578.6h0M1901.3 633.6h0M1879.8 696.5h0M1757.8 485.3h0M1860.6 437.7h0M1754.6 588.8h0M1881.4 424h0M2117.3 453.7h0M1851.2 589.5h0M1763.1 248.4h0M1833.6 456.3h0M2084.1 530.6h0M1995.1 559h0M2101.5 508.4h0M1883.9 640.8h0M1787.9 537.3h0M1749.5 211.7h0M1815.5 237.9h0M1762 447.1h0M1927 393.9h0M1755 444.7h0M1850.4 414.6h0M1764.8 245.5h0M1724.7 495.7h0M2165.8 455.3h0M1515.4 562.3h0M1894 680.8h0M1868.6 588.2h0M1714.1 444.3h0"/>
<path stroke="#33638D" d="M1472.4 463h0M1487.4 445h0M1765.7 238.1h0M2172.1 605.3h0M1575.5 148.2h0M1981.7 545.8h0M1867.3 538.5h0M1762.6 172.6h0M1909.3 78.7h0M1821.5 604.8h0M2145.8 274.1h0M2092.9 511.9h0M1932.1 556.4h0M2134.3 229h0M1857.3 509.3h0M1784.8 605.5h0M1480.4 451.4h0M1445.8 461.5h0M1911.6 537.2h0M1854.8 539h0M1925.1 562h0M2041 536.6h0M1961.4 470.9h0M1911 438.2h0M1917.9 681.6h0M1833.4 569.2h0M1920.2 453.4h0M1989.3 603.5h0M1902 155.3h0M1845.9 539.8h0M1970.8 473.4h0M1574.6 160.2h0M1885.8 533.2h0M2145.5 284.1h0M2134.6 213h0"/>
<path stroke="#2D708E" d="M1935.1 490h0M1773.8 165.6h0M2110.1 497.3h0M1497.2 555.2h0M1779.6 120h0M2134.9 380h0M2159 235.8h0M1977.6 536h0M2153.5 378.5h0M1958.8 503.1h0M1482.6 400.7h0M1973.3 501.8h0M2054.9 162.7h0M1760.5 195.1h0M1965.6 599.1h0M1594.2 251.5h0M2164.2 225.5h0M1783.8 581.9h0M2164 226h0M1969.6 502.2h0M2160.1 210.9h0M1586.5 255.7h0M1889.3 163.5h0M1514.1 551.5h0M1932 488.3h0M1487.7 414.1h0"/>
<path stroke="#287D8E" d="M1864.1 136.4h0M1800.2 577.9h0M1583.9 239.4h0M2153.6 449.4h0M2053.6 521.7h0M1861.3 171.1h0M1854.9 103.5h0M1836.3 192.4h0M1786.1 167h0M1843.8 164.8h0M1504.4 468.2h0M1595.8 242.9h0M1838.6 122.6h0M1794.3 580.5h0M2131 476.3h0M1833.4 116.8h0M1482.8 495.1h0M1886.7 140.1h0M1493.4 494.3h0M1589.2 234.9h0M1777.7 161.1h0"/>
<path stroke="#238A8D" d="M1778.5 208.3h0M1817.1 216.9h0M1817.3 187.8h0M1792.8 227.3h0M1831.4 137.8h0M2094.4 503.2h0M2051.3 183h0M1515.2 433.1h0M2149.3 407.4h0M1508.9 437h0M2150.6 420.7h0M1519.4 427.7h0M1803.8 169.6h0M1801.4 160.3h0M1509.3 435.4h0"/>
<path stroke="#1F968B" d="M2215.3 536.4h0M1803 150.3h0M1790.8 133.3h0M1793.3 211.3h0M1893.1 98.5h0M1982.5 272.2h0M2153.6 406.6h0M2151.6 426.6h0M1896.2 119.9h0M1865.3 120.3h0M2218 519.8h0"/>
<path stroke="#20A387" d="M2090.7 206.6h0M2098.3 210.1h0M2085.1 502.1h0M1799.8 208h0M1877.2 120.8h0M1469.8 392.5h0M1801.7 212.8h0M1886 99h0"/>
<path stroke="#29AF7F" d="M1882.9 110.3h0M2058.6 178.3h0M1431.4 472.3h0"/>
<path stroke="#73D055" d="M2146.5 623.2h0"/>
<path stroke="#481567" d="M1668.8 379.9h0M1651.2 685.3h0M2034.1 336.9h0M1681.8 731.2h0M1654.9 613.3h0M1700.3 371.2h0M1642 450.3h0M1690.2 362.7h0M1637.3 604.2h0M1836.6 307.1h0M1712.1 774.3h0M1638.6 552h0M2027.5 322.1h0M1677.1 728.6h0M1684 368.5h0M2006.5 321.4h0M1895.4 783.8h0M1734.3 361h0M1900.7 354.6h0M1638.2 595.6h0M1717.9 374.2h0M2011.1 311.4h0M1747.4 789.6h0M1654.7 704.6h0"/>
<path stroke="#482677" d="M1662.4 409.4h0M1964.6 698.6h0M1664.1 689.1h0M2017.7 674.5h0M1816.4 347.8h0M1845.2 769.8h0M2009.3 482.5h0M1664.5 638h0M1692.1 696.2h0M1663 472.3h0M1733.9 378h0M1919.5 743.6h0M1703.2 710.8h0M1827.8 773.9h0M1668 597.2h0M1651.3 527.9h0M1855.3 306.4h0M1655.4 525.7h0M2043.6 562.8h0M1962.1 706.6h0M1897.2 767.1h0M1729.2 751.2h0M1662.9 565.1h0M1974.3 620.5h0M1783.1 785.4h0M1720.5 725.4h0M1867.3 332.8h0"/>
<path stroke="#453781" d="M1926.3 722.8h0M1817.2 358.7h0M1671.6 441.8h0M1739.4 230.7h0M1695.2 412.8h0M1829.3 338h0M1931 711.9h0M1751.9 758.2h0M1891.5 368.3h0M1759.5 759.2h0M1679.4 663.5h0M1738.3 727.2h0M1669.4 501h0M1678.3 628.1h0M1842.1 746.6h0M1852.2 339.8h0M1776.4 766.4h0M1675.8 561.8h0M1704.1 390.7h0M1975.7 615.1h0M1678.3 419h0M1688.4 493.6h0"/>
<path stroke="#404788" d="M1929.5 662.8h0M1725.9 555.8h0M1936.7 690.3h0M1784.8 648.7h0M1857.8 725.8h0M1715.3 669h0M1740.5 603.2h0M2123.3 278.8h0M1824.7 413.6h0M1797 648.9h0M1863.5 650.1h0M1693.5 448h0M1704.8 436.3h0M1628.6 182.4h0M1742.2 552.8h0M1875.9 714.8h0M1858.7 669.3h0M1846.5 332.8h0M1820 736.6h0M1926.7 223.4h0M1857.5 657.1h0M1723.8 550.3h0M1862.4 743.7h0M1685.6 541.8h0M1807.6 247.3h0M1740.5 590.7h0M1771.1 656.8h0M1764.4 727.9h0M1789 705.9h0M1745.3 564h0M1755.2 410.4h0M1710.7 660h0M1878.1 202.5h0M1742.6 224.3h0M2075.8 123.8h0M1743 400.7h0M1776.5 105.4h0M1843.4 662.3h0M1710.8 411.5h0M1765.3 708.2h0M1835.3 388.6h0M1823.4 724.2h0M1749.8 641.1h0M1714.4 582.7h0M1838.9 664.2h0M1760 666.6h0M1826.4 711h0M1822.5 665.4h0M2125.9 287.4h0M1897.4 179.4h0M1752 599.3h0M1824.5 694.5h0M1699.3 666.9h0M1754.9 545.8h0M1780.1 732.1h0M1626 179.5h0M1793.9 692.4h0M1916.5 155.8h0M1854.8 363.1h0M1808.6 727.1h0M1830.6 664.5h0M1828.6 678h0"/>
<path stroke="#39568C" d="M1795.7 489.9h0M1736.7 494.7h0M1933.3 625.3h0M1725.9 467.5h0M1780.2 480.4h0M1858.2 574.6h0M1757.1 581.3h0M1902.5 668.9h0M1822 618.1h0M1813.7 463.8h0M1901 571.1h0M1761.2 483h0M1828 452.1h0M1841.4 411h0M2130.6 369.7h0M1815 460.5h0M1813.6 424.2h0M1767 148.4h0M1949.9 82.7h0M1771.9 554.4h0M1828.7 82.2h0M1898.6 63.9h0M1804.6 451.3h0M1856.9 71.6h0M1907.5 402.6h0M1743.3 493.3h0M2172.9 416.3h0M1865.8 431.2h0M2128.8 439.2h0M1755.2 469.7h0M1765.1 560.9h0M1891.4 677.7h0M1923.4 629.7h0M1809 495.4h0M2043.4 153.6h0M1888 700h0M1819.6 473.5h0M1841.4 491.9h0M1817.9 498.1h0M1946.2 590.5h0M1887.3 396.8h0M1896.1 581.8h0M1929.3 676.3h0M1910.8 603h0M1918.2 610.9h0M1897.5 679.5h0M1822.7 463.9h0M1812.8 516.8h0M1909.6 657.6h0M1768 137.4h0M1920.7 186.7h0M1894.1 399h0M1783.8 104.5h0M1773.6 481.5h0M1832.4 441.6h0M1745.6 215.6h0M1852.2 560.3h0M1842.1 521.9h0M1910.7 571.5h0M1757.6 177.4h0M1914.1 660.2h0"/>
<path stroke="#33638D" d="M1890.4 545.3h0M2169.3 431h0M1847.5 513.8h0M1868.8 557.3h0M1942.6 566.2h0M1949.1 445.2h0M2198.7 519.2h0M1988.2 499.3h0M2149.5 467.8h0M1839.8 503.8h0M1926.8 457.4h0M1574.2 243.4h0M1805.5 551.7h0M1511 452.8h0M1972.8 468.9h0M1951 573.1h0M1872.9 447.3h0M1906.5 160.6h0M2142.5 253.7h0M1929 450.1h0M1524.7 489.7h0M1885.7 460.6h0M1862.7 522.6h0M2039.1 165.1h0M1896.3 169.6h0M2038.8 675.6h0M1926.3 421.7h0M1751.8 216.8h0M1936.2 129.9h0M1915.3 472.5h0M2149 273.1h0M1931.5 437.9h0M1497.9 448.7h0M2036.1 169.2h0"/>
<path stroke="#2D708E" d="M1889.4 500.1h0M1495.8 558h0M1956.1 577h0M1566.9 158.6h0M1781.5 579h0M1924.8 415.4h0M1820.6 227.4h0M1877.1 79.6h0M2149.8 204h0M1812.9 564.3h0M1936.7 543.6h0M1891.5 153.4h0M1575.4 239.9h0M1510.3 547.2h0M1806.6 107h0M1916.8 475.5h0M1972 551.8h0M1855.8 91.9h0M2149.6 205.1h0M1915.7 500.6h0M1502.4 542h0M1498.9 541.4h0"/>
<path stroke="#287D8E" d="M1846.3 171.8h0M1860.2 132.3h0M1852.7 163.6h0M2139.9 383.5h0M1824 173.5h0M2229.9 545.1h0M1796.5 234.1h0M1934.7 90.6h0M1484.3 494.8h0M1496.3 493.2h0M1866.4 176.2h0M1832.7 205.4h0M1844.5 187.8h0M1865.9 171.8h0M1498.1 498.6h0M1769.3 200.1h0M1844.2 118.3h0M2101 499.8h0M1868.5 138.8h0M1594.6 244.3h0M1836.9 116.4h0"/>
<path stroke="#238A8D" d="M1789.7 223.8h0M1519.5 428.8h0M1890.1 89.3h0M1863 125.2h0M1930.3 408.3h0M2052.3 533.4h0M1962.9 583h0M1889.4 130.2h0M1871.4 93.4h0M1513.8 433.6h0M1902.4 101.5h0M1527.3 441.4h0M1800.4 156.7h0"/>
<path stroke="#1F968B" d="M1971.1 243.1h0M1796.1 216.5h0M2088.9 491.9h0"/>
<path stroke="#20A387" d="M1879.9 123.1h0M2058.5 674.5h0M2080.2 507.9h0"/>
<path stroke="#29AF7F" d="M1882.1 115.2h0M1432.3 471.6h0M1440.3 463.7h0"/>
<path stroke="#3CBB75" d="M2156.8 629.1h0M1434.9 458.7h0"/>
<path stroke="#73D055" d="M2077.1 664.6h0"/>
<path stroke="#DCE319" d="M2094.4 658.6h0"/>
<path stroke="#FDE725" d="M2113 633.3h0M2127.6 624.7h0"/>
<path stroke="#440154" d="M1746.6 345.2h0M1897.5 344.2h0M1777.3 809.3h0M1707.8 355.5h0"/>
<path stroke="#481567" d="M1760.6 369.2h0M2119.4 369.4h0M1628.3 591.5h0M1653.6 427.7h0M1804.2 806.4h0M2010.7 321.9h0M1628.9 511.8h0M1627.3 497.1h0M1788 365.1h0M1634 541.4h0M1687.7 727.6h0M1639.1 608.1h0M1986.5 309.5h0M1843.3 305.9h0M1990.1 320.9h0M1849.3 782h0"/>
<path stroke="#482677" d="M1962.8 690h0M1770.8 264.4h0M1750.8 783.1h0M1669.8 457.1h0M1840.7 316.2h0M1788.8 380.5h0M1669.2 667.5h0M1940.8 722.1h0M1974.2 624.5h0M1738.4 372.9h0M1813.8 352.1h0M1837.5 764.6h0M1665 448.8h0M1674.1 468.6h0M1872.9 770h0M1928.7 751.3h0M1651.8 580.4h0M1856.4 309.9h0M1688.5 708h0M1753.7 264.1h0"/>
<path stroke="#453781" d="M1739.5 396.8h0M1652.4 144.7h0M1687.3 501.9h0M2118.7 372.3h0M1779.6 256.3h0M1949.2 653h0M1683.6 423.1h0M1667 429.1h0M2007.5 452h0M1688.2 404.3h0M1687.1 674.2h0M1707.5 408h0M1883.7 751.9h0M1672.7 549.5h0M1692.2 613.2h0M1677.5 427.7h0M1819.2 751h0M1808.8 371.9h0M1733.3 401.6h0"/>
<path stroke="#404788" d="M1805.7 711.6h0M1750.6 632h0M1843.5 346.3h0M1717.7 625h0M1781.4 736.4h0M1745.8 692.9h0M1873.2 365.5h0M1798.6 674.5h0M1999.2 490.1h0M1762.2 415.2h0M1715.3 403.4h0M1710.9 530.5h0M1755.9 649.3h0M1777.2 666.3h0M1735.4 684.3h0M1718 502.3h0M1794.4 433.4h0M1800.3 745.5h0M1737.8 556.8h0M1817.1 405.2h0M1728.9 545.8h0M1803.1 391.4h0M1747.8 666.1h0M1742.8 696h0M2063.7 118.8h0M1861.8 736.5h0M1876.7 377.5h0M1713.8 646.2h0M1725.5 649.8h0M1771.3 626.6h0M1927.9 66.2h0M1744.8 669.5h0M1810.6 410.2h0M1816.5 670.3h0M1798.8 659.8h0M1811.5 715.9h0M1753.8 661.2h0M1829.7 399.5h0M1596.3 194.8h0M1793.8 442.5h0M1888.1 53.2h0M1746.1 572.3h0M1716.5 426.3h0M1835.7 692.8h0M1741.8 586.4h0M1693.2 549h0M1933.9 681.4h0M1822.1 376.9h0M1706.2 668.2h0M1837.8 413.6h0M2051 126.3h0M1796.4 668.2h0M1725.8 656.2h0M1843.2 342.8h0M1837.4 377.6h0M2139.1 293.2h0M1806.7 391.9h0M1821 81.7h0M1865.9 734.8h0M1804.8 635.2h0M1785.7 739.9h0"/>
<path stroke="#39568C" d="M1831.8 625.1h0M1822.5 517.3h0M1831.2 614.9h0M1811.5 537.5h0M1892.4 425.5h0M1761.6 438.6h0M1910.2 607.2h0M1803.3 523.6h0M1961 399.7h0M1781.9 492.6h0M2156.6 460h0M2080.6 529.3h0M1710.9 478.7h0M2107 514.5h0M1790.7 544.1h0M2130.4 495.5h0M1804.8 92.5h0M1877.7 65h0M1871.3 597h0M1923.8 676.9h0M1882 615.8h0M1775.2 549.3h0M1790.7 623.4h0M1809.6 615h0M1948.7 76.9h0M1771.1 447.3h0M1999.7 566.1h0M1992.1 508.8h0M1779.8 540.9h0M1919.1 662.2h0M1890.2 715.8h0M1877.4 611.6h0M1876.5 412.8h0M1880 414.7h0M1778.7 496.8h0M1902 435.6h0M1747.5 225.9h0M1848.3 70h0M1804.2 486.3h0M1892.4 604.2h0M2050.6 555.7h0M1921.2 654.2h0M1712.2 456.4h0M1746.1 206.9h0M1790.5 99.2h0M1916.6 187.1h0M1759.8 476.2h0"/>
<path stroke="#33638D" d="M1637.4 205.5h0M1870.8 483.9h0M1866.1 197.1h0M1853.2 533.6h0M1555.3 172.4h0M1891.2 72.6h0M1862.9 530.7h0M1820.1 557.3h0M1474.2 459.5h0M1906.9 75.8h0M1897.3 555.8h0M1888.4 463.9h0M1917.1 447.1h0M1869.6 525.2h0M2042.7 551.2h0M1896.9 440.3h0M2045.6 554h0M1882.7 71.2h0M1841.8 495.9h0M1605 252.6h0M1593.8 212.8h0M1857.3 459.2h0M1577.2 251.7h0M1874.1 459.7h0M1772 243.8h0M1967 472.6h0M2135.7 208.3h0M1493 445.8h0M2149.7 277.6h0M1936.7 69.8h0M1864 437.9h0M1455.3 456.9h0M2039.4 171.7h0M1579 149.8h0M1776.8 577.8h0"/>
<path stroke="#2D708E" d="M1501.6 571.4h0M1956.8 510.6h0M2138.6 433.9h0M2141.1 473.9h0M2151.2 237.9h0M2042.2 678.2h0M1842 89h0M1512.1 549.7h0M2098.9 476.7h0M1886.7 81.2h0M1897.8 138h0M1495.6 554.1h0M2172.8 225.7h0M1917.3 511.2h0M1578.2 239.3h0M1935.3 425.6h0M1956.4 535.9h0M1804.8 595.6h0M1583.6 254.4h0M2153.6 239.2h0M1777.4 125.3h0M1598.3 232.2h0M1897.2 501.7h0M1883.2 76.8h0M1940.6 541.9h0M2148.4 373.4h0M1929.8 79.7h0M1757 217.5h0M1941.4 527.3h0M1783.6 585.6h0M1507.5 540.7h0M1913.1 483.8h0"/>
<path stroke="#287D8E" d="M1842.5 168.2h0M2146.5 459.3h0M1847.8 184.9h0M1462.9 403h0M1865.7 132.3h0M1852.5 186h0M1819.4 114.8h0M1832.2 127.5h0M1876.6 144.5h0M1933.5 100.1h0M1855.3 114.8h0M1891.9 140.7h0M1836.9 140.1h0M2050.8 545.4h0M1942.7 426.6h0M1848.3 147.4h0M2069.1 501.6h0M1533.4 422.2h0M1820.2 220.3h0M1830.1 178.3h0M2234.1 542.5h0M1870.5 146.9h0M1931.3 87.4h0M1858.8 126.2h0M1538.2 429.9h0M1935.7 107.9h0M1850.4 104.5h0"/>
<path stroke="#238A8D" d="M1813.4 163.4h0M1829.2 196.4h0M2123.5 466.7h0M1520.9 441h0M2057.7 522.8h0M1510.4 431.3h0M1944 396.4h0M2150.3 417.1h0M2141.2 441.3h0M1900.9 104.4h0M1808.8 184.7h0M1510.2 430.9h0M1970 563.2h0M1481.4 491.2h0M2101.2 484.3h0"/>
<path stroke="#1F968B" d="M2056.3 533.1h0M1897.2 101.8h0M1981.5 275.9h0M1970.8 254.7h0M2149.7 394.4h0M1976.6 275.6h0M1968.9 570.3h0M1809.6 208.5h0M2215.2 536.7h0"/>
<path stroke="#20A387" d="M2113.2 213.5h0M2146.6 443.5h0M2211.1 524.7h0M2067.9 516.3h0M1792.2 206.6h0"/>
<path stroke="#29AF7F" d="M1438.9 461.8h0M1873.2 114.5h0"/>
<path stroke="#3CBB75" d="M1433.6 468.4h0M1432.4 469h0M1434 459h0M1431.6 457.1h0"/>
<path stroke="#55C667" d="M2082.9 674h0M2076.4 672.4h0"/>
<path stroke="#FDE725" d="M2094.5 652.5h0M2094.5 643.3h0"/>
<path stroke="#440154" d="M1664.6 379.9h0M1717.4 354.1h0M1787.6 338.1h0M1744 293.5h0M1710.7 352.5h0"/>
<path stroke="#481567" d="M1890.2 783.8h0M2059 348.9h0M1769.2 788.1h0M2048.9 342.4h0M1906.6 776.8h0M2007.8 321.1h0M1639.5 448.2h0M2045.3 348.1h0M2035.6 334.4h0M1739.5 788.6h0M1768 363.4h0M2009.6 675h0M1652.1 475.1h0M1862.8 782.3h0M1780.8 806.7h0M2009.8 324.1h0M1633.7 435.9h0M1640.3 519.9h0M1652.3 455.4h0M1873 784.3h0"/>
<path stroke="#482677" d="M1809.4 768.3h0M1777.8 265.1h0M2006.5 477.2h0M1862.9 331.3h0M1898 760.2h0M1657.3 438.9h0M1734.8 770.5h0M1998.5 683.2h0M1669.6 631.9h0M1664.8 510.2h0M1666.2 410h0M1854.2 767.6h0M1879.1 776.8h0M1862.7 310.9h0M1642.6 505.6h0M1665.7 538.8h0"/>
<path stroke="#453781" d="M1674.7 666.5h0M1913.9 729.6h0M1734.4 393.4h0M1910.6 383.2h0M2003.6 509.4h0M1758.2 748.8h0M1803.5 743.9h0M1675.6 515.6h0M1809 381.8h0M1808.3 764.4h0M1711.2 690.7h0M1824.2 346.4h0M1680.5 528.1h0M1889.3 745.3h0M1792.4 389.5h0M1896 368.3h0M1688.7 624.1h0M1682.2 575.9h0M1699.5 700h0M1994.3 448.1h0M1681.8 441.5h0M1819.1 367.5h0M1671.7 596.3h0M1721.8 393.2h0M1856.6 320h0"/>
<path stroke="#404788" d="M1712.9 625.2h0M1698.6 534.6h0M1822 371.4h0M1738.7 693.9h0M1718.8 638.9h0M1959.2 395.9h0M1798.7 416.3h0M1755.4 609.7h0M2141.8 293.3h0M1599.2 174.7h0M1934.1 185.3h0M1714.6 534.8h0M1720.2 569.9h0M1845.7 373.1h0M1789.5 502.6h0M2154.6 290.3h0M1726.9 611.1h0M1754 623.2h0M1696.8 611.2h0M2001.2 497.4h0M1703.6 441.8h0M1858 730.3h0M1699.5 582.3h0M1747.6 610.3h0M1710.8 540h0M2060 123.5h0M1893.8 734.6h0M1755.5 605.8h0M1752.4 594.5h0M1697.1 424.5h0M1828.3 430.3h0M1895.9 54.5h0M1803.9 625.8h0M1857.2 600.5h0M1735.7 520.5h0M1788.6 698.5h0M1772.4 736.1h0M1811.1 708.5h0M2074 541.4h0M1784.8 736.5h0M1832.5 667.7h0M1719.6 409.3h0M1796.3 723.4h0M1833 645.6h0M1787.5 750.4h0M1765.5 535.8h0M1722.2 602.6h0M1843.1 686.8h0M1746.7 589h0M1764.6 687.3h0M1935 696.4h0M1730.9 537.5h0M1759.8 651.8h0M1834 360h0M1757.4 519.9h0M1693.9 582.6h0M1770.3 732.2h0M2078.3 125.6h0M1991.9 486.3h0M1813.5 448.3h0M1715.7 605.9h0M1706.8 416h0M1695.2 513.9h0M1903.7 381.8h0M1735.9 610.7h0M1571.9 258.2h0M1692.3 536.4h0M1851.1 365.4h0"/>
<path stroke="#39568C" d="M2140.8 480.2h0M1824.2 454.6h0M1764.9 158.4h0M1880.7 562.2h0M1922.5 218h0M1728.9 484.9h0M1930.3 603.3h0M1768.2 481h0M1815.5 616.3h0M1813 484.2h0M1979.9 466.1h0M1756.7 172.8h0M1876.6 593.1h0M1853.3 430h0M1922.5 613.7h0M1911 430.2h0M1795 446.7h0M1872.5 689.6h0M1726.4 482.2h0M1834.2 502.5h0M1828.9 469.3h0M1827.3 492.8h0M1878.2 190.9h0M1890.9 682.1h0M1902.3 711.1h0M1853.2 70.9h0M2130.9 375.7h0M1939.4 581.2h0M1851.7 443.7h0M1819.1 519.1h0M1909.7 611.4h0M1838 534.1h0M1914 407.5h0M1786.9 103.3h0M1897.2 685.8h0M2037.8 529.4h0M1722.4 430.5h0M1529.1 450.8h0M1996.7 539.1h0M1904.8 625.6h0M2165 447.6h0M1876.9 424.9h0M1910.2 650.7h0M1762.9 582.6h0M1788 480.4h0M1982.6 292.7h0M1887.1 678.7h0M1879 621.5h0M1903 70.8h0M1836.6 439.3h0M1828.2 513.7h0M1909.1 568.5h0M2037.7 149h0M1783.6 540.4h0"/>
<path stroke="#33638D" d="M1859.9 518h0M1565.4 183.6h0M1843.6 474.2h0M1977.7 490.9h0M1905.8 460.2h0M1872.2 497.1h0M2134.4 386.3h0M1926.6 549.6h0M1866.5 526.9h0M2151.4 284.5h0M1819.8 565h0M1954.6 448.7h0M1531.1 483.4h0M1987.6 543h0M1793.1 605.1h0M1774.1 130.1h0M1922 558.8h0M1849.5 546.8h0M1918 416.1h0M1574.8 160.1h0M1962.2 467.6h0M1866.1 75.1h0M1980.4 481.1h0M1887.7 479.2h0M1868 452.4h0M1981.9 518.3h0M1852.3 503.3h0M1630.7 215h0M1961.9 452.6h0M1932.8 469h0M1881.4 536.1h0M2118.1 461h0"/>
<path stroke="#2D708E" d="M2143.4 398.4h0M1566.3 155.7h0M1928.8 481.8h0M1845 100.9h0M1896 472.2h0M1897.5 152.5h0M1878.8 167.7h0M1933.3 477.8h0M1891.7 157.2h0M1917.2 545.2h0M1799.9 234.9h0M2042.1 173h0M1603.3 243.8h0M1936.5 536h0M1959.2 515.6h0M1957.3 413.8h0M1810.9 106.2h0M2158.3 210.4h0M1929.8 421.1h0M1966.3 510.8h0M1862 82.1h0M1913.7 80.7h0M1910.1 542.7h0"/>
<path stroke="#287D8E" d="M1929.2 400.9h0M1779.7 227.1h0M2055.8 165.4h0M1496.1 488.2h0M1930.5 417.5h0M1910.3 105.3h0M1463 404.8h0M1537.2 438.1h0M1855.2 181.9h0M1781.3 156.7h0M1882.5 139.7h0M1463.7 408.2h0M1866.5 159h0M1916.3 92.9h0M1837.3 127.5h0M1930.5 92.5h0M1903 126.1h0M2049.2 678.3h0M1491.8 459h0M1927.4 110.5h0M2111.8 472.3h0M2096.8 481.4h0M1835 113h0M1831.1 168.3h0"/>
<path stroke="#238A8D" d="M1804.3 172.9h0M1808.7 119.2h0M2049.3 171.4h0M1528.5 424.4h0M2158.8 402.5h0M1816.5 162.2h0M1795.1 224.4h0M1527.5 441.3h0M1795.2 180.8h0M1514.1 442.8h0M1799.6 181h0M1507.4 435.1h0M2162.5 421.7h0M1780.9 212h0M1804.7 227.2h0M1900.8 114.6h0M1825.9 205.6h0M1826.4 202.1h0"/>
<path stroke="#1F968B" d="M2140.2 452.4h0M1976.5 250.5h0M1985.3 285.3h0M2224.2 524.7h0M1787.1 215.5h0M1802.4 138.7h0"/>
<path stroke="#20A387" d="M2081.7 504.7h0M1802.4 201.2h0M2073.3 512.5h0M2059.2 665.3h0M2157.3 605.6h0"/>
<path stroke="#29AF7F" d="M1470.2 394.2h0M1877.5 105h0M1880.6 105.9h0"/>
<path stroke="#3CBB75" d="M1431.3 458.7h0M2041.1 793h0"/>
<path stroke="#440154" d="M1798.9 334.1h0M1731.6 357.8h0M1707.5 362.1h0M1834.4 301.9h0M1812.9 305.8h0M1743.7 355h0"/>
<path stroke="#481567" d="M2061 348.7h0M1711.5 366.5h0M1754.4 789h0M1741.4 366.6h0M1634.2 591.6h0M1650.1 429.5h0M1648.9 476h0M1648.4 615.1h0M2035.2 335.3h0M2016.6 473.2h0M1656.4 627.8h0M1670.5 713.7h0M1888.6 776.9h0M1708.6 772.5h0M2010.3 327.3h0M1647 632.3h0M2027.4 321.6h0M2037.4 332.4h0M1712.3 747.8h0M2061.4 561.6h0M2012.5 337.5h0M2040.7 341.8h0M1648 640h0M1670.8 375.6h0M1651.5 494.4h0"/>
<path stroke="#482677" d="M1658.5 530h0M1707.8 384h0M1737.7 760.7h0M2015.5 657.3h0M1939.4 733.7h0M1782.5 365.6h0M1902.4 764.9h0M1664.7 477.9h0M1828.3 320.1h0M1670.9 656.9h0M1888.7 351.8h0M1648.9 230.9h0M1656.9 673.9h0M1659.8 427h0M2013 665h0M1739.8 255.9h0M1712.6 719.3h0M1804.6 371.5h0M1816.4 777.5h0M1667.9 639.1h0M1663.3 494.5h0M1802.2 769.4h0"/>
<path stroke="#453781" d="M2072.8 544.7h0M1980.3 427h0M2062.2 551.4h0M1999.5 606.5h0M1676.9 448h0M1892.9 743.4h0M1679.3 495.4h0M1675 633.4h0M1718.8 703.4h0M1693.2 635.5h0M1673.7 512.5h0M1684.1 617.9h0M1728.5 720h0M2035.9 557.4h0M2002.5 471h0M1749.8 730.6h0M1665.6 533.9h0M1750.4 744.3h0M1672.9 509.3h0M1885.4 764.7h0M1851.7 747.4h0M1774 760.3h0M1659.7 514.3h0M1861.5 336.6h0M1670.3 493.9h0M1939 384h0M1663 523.4h0M1728.7 731.1h0M1951.1 669.1h0"/>
<path stroke="#404788" d="M1806.2 404.6h0M1851.2 701.4h0M1841.5 336.3h0M1922.3 66.4h0M1828.9 632.3h0M1727.9 639.7h0M1923 705.5h0M1803.3 735.5h0M1854.2 388.2h0M1798.4 682.5h0M1859.4 693.5h0M1854.4 629.2h0M1864.3 728.8h0M1760.2 678.3h0M1747.1 688.2h0M2124.3 243.3h0M1696.3 572h0M1746.4 720.5h0M1848.7 684.6h0M1820.4 661.2h0M1760.8 525.5h0M1848.9 360.1h0M1838.1 368.3h0M1800.8 651.6h0M1865.4 384.1h0M1841.2 739.3h0M1743.3 410.5h0M1760.2 510.8h0M1825.1 69.5h0M1718.7 579.8h0M1737.2 544.9h0M1693.7 517h0M1771.3 633.9h0M1596.8 172.6h0M1841.7 65.4h0M1996.6 465.1h0M1834 686.8h0M1850.6 679.3h0M1932.6 656.6h0M1634.1 184.3h0M1841 726.5h0M2017.5 544.5h0M1774.7 424.7h0M1743.9 204.4h0M1837.5 711.7h0M1874.9 381.5h0M1688.6 584.6h0M1914.4 710.2h0M1752 651.7h0M1874.9 640.1h0M2037.3 128.9h0M1708.6 589h0"/>
<path stroke="#39568C" d="M1847.1 561.9h0M1873.6 423.8h0M1897 631.9h0M1743.3 500.8h0M1924.4 69.5h0M1830.5 526.5h0M1870.8 607.3h0M1710 464.9h0M1857.7 433.3h0M1838.2 609.1h0M1885.2 599.1h0M1870.3 624.2h0M1800.6 494.2h0M1870.5 720.4h0M2096 516.7h0M1909.2 69.1h0M1887.7 413.9h0M1909.1 574.7h0M2079.2 533.2h0M1902.8 691.7h0M1889.9 612.4h0M1873.3 589.8h0M1903 649.4h0M1904.7 179h0M1928.3 138.4h0M1824.1 493.8h0M2002.2 528.7h0M1710.7 460.8h0M1815.8 466.7h0M1980.4 290.2h0M1947.8 596.6h0M1915.9 634.6h0M1763.8 607.6h0M2121.1 517.3h0M1895.6 692.9h0M1887.5 670.1h0M1803 514.4h0M2126.4 493h0M1782.6 476.3h0M1975.8 289.7h0M1905.6 688.6h0M1930.1 599.7h0M1837.3 579.3h0M1812.5 240.4h0M1792.4 486.7h0M1821.5 509.6h0"/>
<path stroke="#33638D" d="M1637.4 221.5h0M1557.3 179.4h0M1908.9 167.1h0M1597.9 256.3h0M1592.2 205.1h0M2145.2 250.3h0M1511.8 455.8h0M1987.9 514.6h0M1945.7 568.4h0M1637.8 212.4h0M1502.8 451.5h0M1862.6 470.9h0M2038.9 164.4h0M1477.4 453.8h0M1872.2 73.9h0M1857.7 523.8h0M1861.5 511.5h0M2085.1 520h0M1873.4 552.3h0M1934 562.2h0M1981.4 463h0M2139.4 208.5h0M1775.5 118.9h0M1915.2 436.2h0M1865 541.6h0M1882.7 463.1h0M1555.3 178.3h0M1826.9 604.3h0M1449.9 462h0M1577.4 151.4h0M1803 98.2h0M1866.2 458.1h0M1871.6 184.2h0M1598.8 216.2h0M1842.6 479.8h0M1837.4 493.6h0M1575.3 168.7h0M1789.9 608.6h0M1621.4 235.2h0M1753.1 202.8h0"/>
<path stroke="#2D708E" d="M2073.1 529.2h0M1875.2 176.6h0M1885.1 483.6h0M1834.9 89.9h0M1771.1 228.9h0M1584.1 247.3h0M1946.6 535.1h0M1496.7 558.5h0M2076.9 523.5h0M1841.7 104.9h0M2151.5 207.5h0M1949.9 109.1h0M1775.6 143.5h0M1485.9 414.8h0M2165.8 211.8h0M2114.7 493.6h0M1950.5 487.9h0M1596.6 229.3h0M1765.1 233.1h0M1885.6 519h0M1768.2 171.1h0M1507.4 552.1h0M1918.6 486.5h0"/>
<path stroke="#287D8E" d="M1537.6 434.5h0M2045.3 175.8h0M2079.2 515.5h0M1587.8 235h0M2050.6 670.4h0M1510.6 493.4h0M1830.3 157.6h0M1831.6 163h0M2086.3 511.9h0M1889.6 133.5h0M1856.1 153.7h0M1909.7 111.3h0M1864.5 139.7h0M1826.2 113.9h0M1894.4 133.4h0M1868 165.7h0M1837.6 136.9h0M1813.4 228.3h0M1789.8 118.7h0"/>
<path stroke="#238A8D" d="M1864 97.9h0M1518.2 422.1h0M2049.1 169.2h0M1815.8 151.3h0M1821.6 127.9h0M1975.7 562.6h0M1522.3 427.1h0M1801.4 167.1h0M1773.8 208.6h0M2054.1 185h0M1519.5 437.6h0"/>
<path stroke="#1F968B" d="M1783.6 193.7h0M1897.1 108h0M2153.5 423.4h0M2064 522.2h0M2094.5 488.9h0M2225.8 533.1h0M1973.6 245.8h0M1811.8 124.4h0M1784.6 208.3h0M2126.1 473.3h0M2055.6 670.6h0M1787.6 194.1h0M2164.5 626.4h0M1983.7 280.2h0"/>
<path stroke="#20A387" d="M2212.3 532.1h0M1974.6 567.4h0"/>
<path stroke="#29AF7F" d="M2063.5 672.8h0M1941.9 414.1h0M2216.7 532.1h0M1886.9 111.1h0"/>
<path stroke="#3CBB75" d="M1436.8 462.8h0M2069.3 664.5h0"/>
<path stroke="#55C667" d="M1430.5 463.7h0"/>
<path stroke="#73D055" d="M2079.1 660.4h0M2067.2 658.1h0"/>
<path stroke="#FDE725" d="M2103.4 645.3h0M2122.8 641.6h0"/>
<path stroke="#440154" d="M1783.1 334.4h0M1812.3 309.9h0"/>
<path stroke="#481567" d="M1636.2 510.1h0M1725.2 782.2h0M1666 386.1h0M2015.7 452.5h0M2051.1 349.3h0M1822.3 311.1h0M1640.5 584.6h0M1920.7 238.4h0M2020.3 324h0M1635.5 586.2h0M1996.9 319.4h0M1737.4 367.8h0M1648.4 627h0M1719.9 765.2h0M1631.8 674.4h0M1890.7 348.7h0"/>
<path stroke="#482677" d="M2013.5 464.2h0M1935 723.8h0M1660 676.1h0M1805.1 355.9h0M1673.7 639.5h0M2014.1 662.1h0M1658.9 662.1h0M2038.9 560.5h0M1745.1 771.5h0M1681 692.7h0M2069.4 550.8h0M1913.4 749.7h0M1658.7 454.2h0M1734.9 764h0M1650.8 562.4h0M1670.6 432.5h0"/>
<path stroke="#453781" d="M1938.1 709.7h0M1666.4 524.1h0M1800.7 764.6h0M1947.4 678.8h0M1860.8 345h0M1793.6 756.2h0M1784.1 394.3h0M1682.4 629.9h0M1770.8 752.1h0M1710.3 684.8h0M1678.6 477.5h0M1852.2 755.2h0M2003.7 467.7h0M1860 322h0M1828.7 353.8h0M1953.1 702.7h0M2019.2 520.3h0"/>
<path stroke="#404788" d="M1800.4 687.8h0M1809.2 417.6h0M1823.4 706.8h0M1905.2 198.8h0M1972 612.7h0M1794.6 93.9h0M1614.7 180.2h0M1737.8 551.8h0M1777.7 252.4h0M1745.6 534.3h0M1750.6 526h0M1795.1 645.9h0M1859.8 359.2h0M2044.8 126.8h0M1792.3 707.8h0M1774.6 653.1h0M1703.7 582.2h0M1774.7 524.1h0M1788.7 438.8h0M1747 709.1h0M1748.4 678.3h0M1757.8 663.4h0M1809.5 686.3h0M1703.5 500.4h0M1808 627.1h0M1816 87.9h0M1842.6 668.2h0M1813 397.6h0M2051.8 489.5h0M1709.9 569.2h0M1826.4 732.7h0M1787.7 521.9h0M2132.2 289.9h0M1820.6 398.3h0M1743.1 194.3h0M1783.3 661.9h0M1719.7 508.5h0M1776.4 637.6h0M1688.2 575.7h0M1854.4 635.3h0M1779.6 398.6h0M1701.1 553.1h0M1739.9 541.4h0M2097.3 536h0M1788.8 462h0M2026.3 469.6h0M2121.2 271.2h0M1859.5 635.9h0M1834.2 636.6h0M1734.5 671.7h0M1714.4 588.8h0M2127.4 263.1h0M1808.8 690.4h0M2122.8 260.8h0M1869.1 696.6h0M1787 249.5h0M2125.8 284.2h0M1766.3 628.9h0M1715.5 659h0M1706.8 445.6h0M2056.3 129.4h0M1853.8 666.7h0M1802.8 720.8h0M1800.8 693h0M1874.7 62.5h0M1767.9 547.7h0"/>
<path stroke="#39568C" d="M1884.7 424.1h0M1530.8 446.9h0M1902.9 615h0M1908.5 417.5h0M1922.1 617.1h0M1911.8 153.1h0M1801.8 617.6h0M1756.7 435.8h0M1765.6 577.8h0M1917.9 617.1h0M1960.1 432.3h0M1934.8 629.6h0M2119 513h0M1872.2 586.4h0M1917.7 176.4h0M1824.3 506h0M1922.9 196.2h0M1916.5 135.7h0M1868.8 724.8h0M1932.7 675.7h0M1763 145.6h0M1903.2 420.8h0M2125.2 443.5h0M1882.3 60.7h0M2156.3 463.8h0M2113.5 520.1h0M1994.1 513.6h0M1838.1 223.4h0M1747 197.5h0M1826.3 555h0M1749.1 229.5h0M1885.3 177.7h0M1815.6 473.4h0M1907.9 627.5h0M1875.5 665.3h0M1772.3 454.2h0M1935.9 599.6h0M1832.1 427.6h0M1930.4 640h0M2122.4 510.7h0M1890.2 173.6h0M1941.1 635.6h0M1710 471.5h0M1864.7 589.7h0M2135.4 492.8h0M1886.6 673.9h0M1870.6 652.3h0M1907.3 701.3h0M1844.2 448.2h0M1832 80.4h0M1863.6 409.6h0M1921.3 191.8h0M1911.3 411.2h0"/>
<path stroke="#33638D" d="M1991.2 558h0M1858.5 194.8h0M2040.3 180.6h0M2036.1 165.7h0M1921.1 437.7h0M1843.2 508.2h0M1843.4 502.5h0M1863.5 481.3h0M1943.2 77.6h0M1802.2 606.6h0M1458.8 460.2h0M1957.9 452.3h0M2148.9 254.6h0M2122.9 493h0M2076.7 528h0M2146 259.4h0M1899.7 471.4h0M1917 566.4h0M1480.8 453.8h0M1938.2 127.3h0M1897.8 445.2h0M1456.7 460.1h0M2113.2 500.4h0M1905.7 573.4h0M1928.6 74.6h0M1518.4 454.6h0M2169.9 404.5h0M1839 499.1h0M1794 106.3h0M1573.1 174.4h0M1870.8 538.1h0M2038.1 162.5h0M1986.1 480.7h0M1828.9 576.2h0M1488.3 447.2h0M2132.8 438.5h0"/>
<path stroke="#2D708E" d="M1911.2 486.8h0M1883.8 149.8h0M1953.7 493.6h0M1934.8 122.2h0M1604.1 235.9h0M1944 95.8h0M1881.6 475.8h0M1827.4 101.7h0M1938.9 115.5h0M1845.9 86.1h0M1897.2 495.4h0M2149.8 207.3h0M1912.2 523.3h0M1498.3 541.1h0M1924.6 122.5h0M1797.9 237.5h0M1895 142.2h0M1901.9 139.4h0M1595.1 250.7h0M1771 174.2h0M1892.7 507.4h0M1995.6 581.1h0M1882.3 155.2h0M2043.7 179.3h0M1493.1 529.1h0M2162.7 232.2h0M1774.6 159.7h0M1805.5 570.6h0M2148.9 463.2h0M2062.5 539.8h0M2060.9 163.4h0"/>
<path stroke="#287D8E" d="M1864 168.4h0M1885.8 135.3h0M1869 150.3h0M1939 108.2h0M1782.9 175.1h0M1889.6 137.8h0M1850.5 129h0M1842.5 147.7h0M2048.4 534.6h0M1854.6 130.8h0M1830.2 172.6h0M1893.8 83h0M1591.9 241.5h0M2123.5 483.2h0M2058.7 538.6h0M2139.7 376.1h0M2144.5 462.5h0M1844.6 184.5h0M2083.5 486.5h0"/>
<path stroke="#238A8D" d="M2130.4 462.9h0M1821.4 204h0M1824.9 145.3h0M1531.6 429.8h0M1526.3 430.3h0M2052.4 539.6h0M2086.9 488h0M2068.6 521h0M1880.6 131.8h0M1784.5 222.7h0M2144.7 391.5h0M1794.8 164.2h0M1819.6 207.7h0M1826.7 158.4h0M1821.8 184.4h0M1785.6 191h0M1519 438.4h0M1816.5 169.4h0"/>
<path stroke="#1F968B" d="M1807.7 198.7h0M2162.9 616.4h0M2079.5 492.9h0M1879.1 126.6h0M2056.1 169.8h0M2155.9 399.2h0M1809.1 150.6h0M1802 132.2h0M1807.6 216.7h0M2149.8 430.8h0M1974.1 260.3h0"/>
<path stroke="#20A387" d="M1972.4 571.7h0M1441.9 467.4h0M2102 210.1h0M2210.7 524.1h0M1871.1 120.5h0M1889.9 107.2h0"/>
<path stroke="#29AF7F" d="M2080.2 500.2h0M1944.1 404.8h0M1437.2 460h0"/>
<path stroke="#55C667" d="M1979.2 579.9h0M1431.4 461.3h0"/>
<path stroke="#DCE319" d="M2097.8 656.1h0"/>
<path stroke="#FDE725" d="M2107.4 638h0M2127.6 642.1h0M2135.1 638.5h0"/>
<path stroke="#440154" d="M1706.9 348.6h0M1790.2 330.4h0M1915 317.5h0M1995 387.5h0M1862 292.9h0M1740.6 351.1h0"/>
<path stroke="#481567" d="M2016.9 318.1h0M1644 403.5h0M1823.9 306.2h0M1720.9 778.9h0M1799.2 341.7h0M1745.8 799.9h0M1649 649.5h0M1645.3 594.1h0M1805.8 340.8h0M1824.5 319h0M1948.7 731.6h0M1698.8 734.6h0M1645 689.8h0M2052.3 571h0M1988 318.2h0M1813 802.7h0M1637.5 684.4h0M1648.2 407.7h0M1854.6 297.9h0M2031.3 331.6h0M1822.1 797.2h0M1771.3 801.5h0M2002.7 323h0M2015.4 320.8h0"/>
<path stroke="#482677" d="M1724.8 755h0M1919.1 736.2h0M1759.8 374.9h0M1805.6 768.6h0M1657.4 576.2h0M1754.9 260.5h0M1666.3 462.1h0M1728.5 740.4h0M1692.9 703.5h0M1791.7 780.6h0M1791.9 774h0M1832.2 321.6h0M1665.7 604h0M1657 644h0M1660.1 610.2h0M1707.7 390.1h0M1658.8 461.8h0M1777.9 371.4h0"/>
<path stroke="#453781" d="M1694.6 677h0M1680.7 430h0M1673.7 658.8h0M1867.9 749h0M1816.1 369.8h0M1819.3 352.4h0M1795.3 749.1h0M1681.2 594.7h0M1886.3 748.5h0M1865.5 757.6h0M1680.8 607h0M1754 749.4h0M1739.6 739.1h0M1824 350.8h0M1681.5 454.1h0M1764.5 261.7h0M1860.3 341.3h0M1848.2 748.8h0M1674.3 495.2h0M1848.3 325.6h0M1681.7 447h0M1672 498.1h0"/>
<path stroke="#404788" d="M1709.7 669.7h0M2148.7 289h0M1770.1 511.8h0M1909.4 199.7h0M1840.5 623.8h0M1795.2 422h0M2119 272.5h0M1799.5 721.6h0M2175.9 274.1h0M1926.7 390.6h0M1756 164.8h0M1726.8 704.2h0M1862.1 385.1h0M1924 227.1h0M1734.6 605.6h0M2129.2 244.4h0M1825.6 373.4h0M1778.1 514.1h0M1599 178.3h0M1732 700.9h0M1819.1 706.8h0M1850.6 742h0M1811 451.1h0M1563.1 247.9h0M1835.3 70.6h0M1743.2 709h0M1627.9 176.7h0M1700.7 516h0M1865.9 721.6h0M1705.7 412h0M1905.3 185.4h0M1870.2 380.5h0M1870.7 676.8h0M1832.6 641.5h0M1828.6 725.8h0M2065.5 545.4h0M1768.9 646.4h0M1696.7 565.5h0M1590.9 200.6h0M1804.5 694.2h0M1755.4 721.6h0M1804.2 407.5h0M1749.5 176.4h0M1931.8 210.7h0M1694.2 525.2h0M1866.7 356.8h0M1761 683.3h0M1837.2 343.2h0M1778.7 679.1h0M1820.6 411.7h0M1754.3 715.3h0M1938.2 697.9h0M1742.1 509.7h0M1717.1 593.1h0M1879.5 647.2h0M2060.3 125.1h0M1723.7 621.9h0M1729 598.1h0M1737 675.9h0M1899.1 388.4h0"/>
<path stroke="#39568C" d="M1855.1 408.5h0M1770.9 121.7h0M1915.2 160.1h0M1774 572.4h0M1718.8 448.6h0M1989 461.1h0M1955.4 610h0M1873 402.9h0M2129.4 382.9h0M2128.2 505.2h0M1754.4 455.1h0M1952.3 604.8h0M2129.1 390h0M1898.9 638.7h0M1870.3 436.3h0M1859.5 554.8h0M1859.8 202.8h0M1785.8 492h0M1877.2 404h0M1851.1 447.9h0M2126.1 434.2h0M1751.6 186h0M1828.2 521.6h0M1909.6 420.8h0M1867.8 688.2h0M1855.1 590.1h0M1846.8 610h0M1805.6 445.5h0M2094 533.3h0M1906.4 705.3h0M2126.4 385.1h0M1916.7 620.7h0M1895.8 605.2h0M2144.1 488.4h0M1832.5 404.4h0M1781.4 446.3h0M1929.8 680.9h0M1759.3 465.9h0M1838.9 557.5h0M1889.8 180.4h0M1900.1 610.3h0M2096.5 512.9h0M1835.9 77.3h0M1804.2 533.3h0M1968.4 448.5h0M1868.3 574.5h0M1904.3 587.2h0M1818.8 527h0M1872.1 703.3h0M2138 404.9h0M1845 559.3h0M1887.9 684.7h0M1820.8 491h0M1851.6 439.4h0"/>
<path stroke="#33638D" d="M1989.7 482.7h0M1880.8 505.6h0M1934.2 443.3h0M1479 451h0M1912 665.6h0M1792.3 240.8h0M1770.9 138.9h0M2128.6 236.3h0M1893.4 551.6h0M1858 547.8h0M1981.4 498.8h0M1577.1 145.9h0M1900 163.9h0M1578.6 156.7h0M1826.4 95.8h0M2134.1 484.8h0M1920.9 458.8h0M2132 230h0M1775.6 243.7h0M2137.9 398.1h0M1751.8 207.1h0M1983 522.6h0M2126.8 450.7h0M1827.4 571.5h0M1942.3 441.4h0M2046.9 160.8h0M1770.2 133.6h0M1899.6 71.5h0M1876.8 184.5h0M1819.9 599.1h0M1911.5 446.4h0M1952.2 583.1h0M1927.6 460.8h0M1887.4 72.1h0M1521.4 485.9h0M1953.9 598.6h0M2040.3 171.8h0M1582.7 258.3h0M1891.9 563.6h0"/>
<path stroke="#2D708E" d="M1784.2 592h0M1972.8 536.2h0M1932.7 117.7h0M2167.7 218.2h0M2163.4 229.5h0M1508.2 548.5h0M1926.7 530.3h0M1939 82.8h0M1859.8 186.5h0M1962.2 501.1h0M1593.5 231h0M2162.6 226.3h0M1947.5 494.4h0M1952 510.5h0M1868.1 183.7h0M1492.6 526.8h0M1918 527.5h0M2163.4 395.3h0M2040.9 177h0M1575.8 246.4h0M1993.2 592.5h0M2050 522.4h0M1764.3 225.4h0M1587.1 250.3h0M2044.5 182.8h0M1926 84.3h0M2046.6 676h0M1577.6 234.8h0M2044.5 171.2h0"/>
<path stroke="#287D8E" d="M2051.1 185.5h0M2050.5 186.2h0M1957.4 527.7h0M1899.6 131.1h0M1600 242.4h0M1784.2 160.6h0M1927.9 113.8h0M1962.1 586.4h0M1904.5 98.3h0M1921.3 119.7h0M1843.6 133.1h0M1850.5 123.4h0M1849.3 164.1h0M1535 435h0M1912.8 113.6h0M1596.6 236.9h0M1475.8 485.5h0M1836.8 143.5h0M2134.6 449h0M1473 488.3h0M1914.1 107.2h0"/>
<path stroke="#238A8D" d="M1814.9 177h0M1527.2 420.2h0M2060.5 168.9h0M1815.9 158.7h0M1526.8 440.3h0M1809.7 220.9h0M1522.3 418.5h0M1868.4 130.2h0M1794.6 168.3h0M1819.9 189.9h0M1527.6 420h0"/>
<path stroke="#1F968B" d="M1980.8 269.5h0M1804.1 215.4h0M1795.2 138.8h0M2128.8 467.3h0M1814.2 148.3h0M1811 132.6h0M1979.4 564.4h0M2062.6 526.2h0M1816.4 145.7h0M1788.5 210.3h0M1976.3 259.4h0"/>
<path stroke="#20A387" d="M2091.5 497.1h0M1986.1 571.4h0"/>
<path stroke="#29AF7F" d="M1432.5 470.9h0M1425.6 467.5h0M1971.8 577.8h0"/>
<path stroke="#55C667" d="M2150 623.2h0"/>
<path stroke="#440154" d="M1804.4 315.8h0M1636.9 634.4h0M1685.6 354.4h0M1801.9 330.7h0"/>
<path stroke="#481567" d="M1639.3 570.8h0M1760.2 787h0M1668.9 709.3h0M1641.9 416.5h0M2044.6 339h0M1639.6 494.3h0M1866.2 786h0M2019.6 328.2h0M1773.5 272.4h0M1706.9 373.5h0M2061.7 348.1h0M1629.6 524.8h0M2126 371.3h0M1641 561.4h0M1762.5 364.9h0M1785.1 803.7h0M2048.8 341.2h0M1738.8 782.7h0M1709.6 741.9h0M1702.4 756.7h0M1841 782.2h0M1991.3 313.3h0M1637.1 680.8h0M1853.1 302.7h0"/>
<path stroke="#482677" d="M2012.5 665.4h0M1759.6 267.1h0M1734.6 381.8h0M1667.4 394.5h0M1672.8 455.1h0M1749 379.7h0M1670.5 448.8h0M1718.9 740.7h0M1795.8 794.2h0M1677.6 690.5h0M1664.4 421.2h0M1660.4 578.9h0M1785.6 261.1h0M1778.7 781.8h0M2009.3 496.3h0M1956.3 685.7h0M1734.3 750.5h0M1645.2 670.6h0"/>
<path stroke="#453781" d="M1686 598.5h0M1762.9 748.1h0M1666.1 664.3h0M1903.7 375.3h0M1649.9 150.7h0M1669.8 569.1h0M1729.7 396.8h0M1874.5 751.8h0M1682.2 560.2h0M1897.8 753.4h0M1726.4 714.1h0M1805.7 250.4h0M1672.3 530.5h0M1754.1 390.4h0M1678.2 614h0M1700.5 408.5h0M1673.1 430.1h0M1664.9 516h0"/>
<path stroke="#404788" d="M1937 684.3h0M1731 579.7h0M1700.8 464.9h0M1601.8 169.9h0M1736.9 561.7h0M1689.3 557.5h0M2023.9 534.9h0M1826.7 719.9h0M1718.1 585.2h0M1912.2 62.2h0M1891.6 53.7h0M1797.3 717.1h0M1863.6 388h0M1820.2 727.1h0M1748.9 724.3h0M1705.6 612.4h0M1603.3 176.4h0M1880.1 744.6h0M1834.5 629h0M1838.2 386.5h0M1754.8 528.4h0M1728.5 604.8h0M1757.4 729.6h0M1588.9 179.5h0M1804.6 715.7h0M2171 279h0M2042.9 558.8h0M1916.7 224h0M1895.6 379.2h0M1845.4 617.8h0M1801.8 504.4h0M2177 275.2h0M1716 541.9h0M1981.8 611.1h0M1766.3 717h0M1748.4 657.4h0M1893.5 57.8h0M1721.4 646.5h0M1741.3 561.2h0M1807.4 638.8h0M1828.3 706.6h0M1812.6 697.6h0M1821.7 634.8h0M1725 687.4h0M1754.8 665.1h0M1746.2 623h0M1937.5 663.2h0M1849.9 707.3h0M1725.8 692h0M2126.1 253.2h0M1717.1 612.9h0M1633.4 187.9h0M1863.5 687.5h0M1773 726.1h0M1700.8 576.8h0M1796.6 663.5h0M1791.6 535.7h0M1696.1 640.1h0M1791.8 663.6h0M1843.6 639.2h0M1715.1 682.4h0M2121.4 279.1h0M1782.9 412.9h0M1873.8 723h0M1740.1 426.2h0M1789.6 677.9h0M1714.3 517.4h0"/>
<path stroke="#39568C" d="M1885.2 711.1h0M1855.2 68.3h0M1970.9 608.6h0M1868.7 416.2h0M1926.2 188.3h0M1867.6 595.1h0M1820.3 543.8h0M1807.9 484.9h0M1940.5 597.5h0M1769.5 247.2h0M1852.3 418.9h0M1956.5 111.7h0M1867.9 681.8h0M1881.2 579.1h0M2122.9 451.1h0M1768.1 463.4h0M2130.9 435.3h0M1839.1 563.1h0M1905 644.9h0M1908.3 395h0M1869.3 550.8h0M1884 418.1h0M1866.4 579.6h0M1766.8 123.7h0M2140.2 492.2h0M1995.7 503.4h0M2123.2 439.4h0M1838.4 537.4h0M1856.7 596.8h0M1772.8 616.6h0M1799.4 471.4h0M1804.2 493.4h0M1786.2 434.6h0M1728.9 478.1h0M1837 615.8h0M1878.6 671.6h0M1761.1 162.9h0M1905.8 583.7h0M1868.1 619.9h0M1776.7 561.6h0M1909.8 193.1h0M1744.8 488.6h0M1758.6 572.5h0M1913.9 597.1h0M1900.1 681.6h0M1898.1 699.2h0M2067.4 539.6h0M1898.1 589.3h0M1834.2 597.4h0M1928.3 134.5h0M1793.1 528.7h0M1751.2 458.4h0M1998.5 525.7h0M1761.5 558h0M1859.2 408.6h0"/>
<path stroke="#33638D" d="M1947.7 581.9h0M1901.4 479.6h0M1982.3 469.7h0M1481.2 453.8h0M1911.3 75h0M1988 554.8h0M1561.2 170.1h0M1951.2 448.4h0M1852.7 500h0M1938.1 566.6h0M1913.7 440.5h0M2171.4 420.7h0M1849.6 490.1h0M1900.1 455.5h0M1480.4 498.4h0M1941.2 118.5h0M2142.2 411.8h0M1970.4 483.3h0M1490.3 453.5h0M1991.8 522.1h0M1977.1 463.4h0M1888.1 450.7h0M1889.9 560.6h0M2035 169.8h0M2152.5 252.8h0M1946.5 454.9h0M1951.2 455.5h0M2147.3 280.4h0M1947.1 93.8h0M1866.5 462.3h0M1581 255.5h0M1830 581.6h0M1865 484.3h0M2192.6 515.4h0M2248.4 557.1h0M1833.9 589.8h0"/>
<path stroke="#2D708E" d="M1769.2 234.9h0M1900.5 85.1h0M1581.4 249.2h0M1926.6 502h0M1940.7 538.6h0M1586 250.8h0M1966 505.5h0M2080.9 518.8h0M2116.2 464h0M1772 161.9h0M1936.5 530.4h0M1877.4 492.8h0M2161 234h0M1901.1 143h0M2085 483h0M1888 524.7h0M1892.9 145.9h0M1580.1 233.5h0M1921.6 538.9h0M1900.8 527h0M1761.3 185.6h0M1913.4 514h0M1507.4 540.1h0M1600.6 251.7h0M1496.3 533.7h0M2135.1 476.4h0M2127.3 483.9h0M1507.4 537.7h0M2172.1 601.8h0"/>
<path stroke="#287D8E" d="M1860.5 93.7h0M2117.4 469.5h0M1805.6 111h0M2161.3 430.2h0M1583.3 237.5h0M1840.5 161.6h0M1872.8 168.8h0M1775.5 170.4h0M1834.4 122.8h0M2047.7 182.1h0M1848.5 169.1h0M1971.8 556.2h0M1870.7 159.4h0M1909.8 119.6h0M1861.1 148.4h0M1858.3 172.5h0M1934.9 96.4h0M1804.8 582.9h0M1854.9 136.5h0M1864.5 148.3h0M2158.9 391.9h0M2060.1 164.8h0M2122 462.3h0M2141.2 469.1h0"/>
<path stroke="#238A8D" d="M1522.9 442.9h0M1797.5 120.6h0M1785.9 177h0M1828.9 192.5h0M2156.4 436.9h0M2053.2 525.6h0M1491.8 491.9h0M1780.4 186.4h0M1821.4 197.8h0M1808.2 113.8h0"/>
<path stroke="#1F968B" d="M1817.4 138.3h0M1791.7 200.9h0M1784.3 199.6h0M1865.7 116.6h0M1977.1 258.3h0"/>
<path stroke="#20A387" d="M2103.9 210.5h0M2056.1 181.5h0M2097.2 493.6h0M2218.3 523.1h0M2219.9 532.6h0"/>
<path stroke="#55C667" d="M1430.6 465.5h0M2072.8 672.6h0"/>
<path stroke="#73D055" d="M2069.5 660.8h0"/>
<path stroke="#95D840" d="M2141.1 623.9h0"/>
<path stroke="#FDE725" d="M2106.4 651.3h0"/>
<path stroke="#440154" d="M1843.6 297h0M1956 728.5h0M1793.6 329.4h0M1842.5 806h0M1685.4 362.4h0M1699.5 352.2h0"/>
<path stroke="#481567" d="M1744.9 364.8h0M2121.2 369h0M2003.4 316.6h0M2015.3 331.8h0M2065.8 346.5h0M1773.9 276.8h0M2061.3 345.3h0M1659.7 714.3h0M1783 810.4h0M1635.1 516h0M1711.3 754.6h0M2052.1 341.9h0M1639 413.6h0M1658.4 708.8h0M2020.5 757.6h0M1728.3 371.5h0M1838.9 299.5h0M1640.4 565.2h0M1907.6 765.6h0M1749.9 360.7h0M2030.3 324.2h0M1638.2 611.9h0M1636.3 527.6h0M1686.9 739.8h0"/>
<path stroke="#482677" d="M1644.2 537.7h0M1655.2 570.9h0M1758.6 262.8h0M1712.6 386.3h0M1672.4 416.4h0M1660.8 458.5h0M1661.9 613.9h0M1818.9 763.9h0M1697.5 714.5h0M1784.9 780.7h0M1795 798h0M1662.7 591.7h0M1849.6 776.2h0M1967.7 668.6h0M1651.1 597.9h0M1743.7 775.3h0M1668.2 643.8h0M1716.8 724.1h0M1910 371.4h0"/>
<path stroke="#453781" d="M1680.2 501h0M1812.7 378h0M1822.9 751h0M1652.4 142h0M1963.3 633.5h0M1848.2 752.7h0M1951.5 693.1h0M1736.3 738.1h0M1691.4 407.9h0M1751.1 736.8h0M1688.2 537.7h0M1688 409.9h0M1903.2 736.8h0M1901.5 741.6h0M2007.9 513.7h0M1667.9 582.2h0M1746.4 241.6h0M1935.2 719.2h0M1861.9 348.2h0M1700.1 696.7h0M1879.9 757.1h0M1720.4 400.1h0M1674.9 592.3h0M1680.5 669h0M1677.7 643.8h0M1838.7 328.7h0M1855.8 345.4h0"/>
<path stroke="#404788" d="M1850.5 379.7h0M1694.1 553.9h0M2179.7 277.4h0M1854.7 623.7h0M1704.6 626.4h0M2030.8 132.7h0M1784.5 532.9h0M2125.4 380h0M1598.9 185.8h0M1753.7 583.5h0M1613.5 181.4h0M1725.2 520.7h0M1881.8 741.4h0M1692 425.2h0M1862.9 753.2h0M1713.5 558.1h0M1763.1 401.6h0M1826.3 650h0M1854.9 367.5h0M2177.2 273.9h0M2178.3 283.4h0M1772.7 698.3h0M1742.5 691h0M1717.2 665.5h0M1796.4 402.8h0M1757.7 657.5h0M1703.3 647.2h0M1764.1 435.3h0M1896.9 382.3h0M1735.8 594.3h0M1781.7 747h0M1756.7 413.9h0M1825.9 396.5h0M1779.5 624.7h0M1699.7 492.5h0M1712.8 673.9h0M1791.1 645.8h0M1851.8 725h0M1793.4 418.1h0M1789.1 417.4h0M2169.3 274.8h0M1853 373h0M1723.3 632.7h0M1762.9 619.3h0M1794.7 399.3h0M1762.2 522.4h0M1814.2 392.2h0M1853.7 671h0M1750.4 674h0M1797 451.9h0"/>
<path stroke="#39568C" d="M1814.3 553.5h0M1868 201.4h0M1891.6 654.1h0M1896.8 566.4h0M2084.2 534.3h0M1902.8 704.1h0M1880.1 394h0M1840 220.4h0M1810.2 456.9h0M1765.9 478.1h0M1773.4 501.1h0M1758.4 495h0M1914.6 192.7h0M1879.6 420h0M1881.8 610.7h0M1858.8 585.8h0M1832.2 435.2h0M1821.3 503.9h0M1950.3 599h0M1931.1 594.8h0M1764.3 462.9h0M1742.2 484.3h0M1837.4 433.6h0M1798.9 98.9h0M2054.9 142.2h0M1835 535.8h0M2119.7 442.7h0M1936 589.8h0M1904.4 639h0M2033.8 675.3h0M2153.7 479.7h0M2112.5 458h0M1759 170h0M1944 579.8h0M1863.5 680.6h0M1942.5 73.1h0M2126.8 512.1h0M1928.3 615.7h0M2106.4 520.1h0M1848.1 596.8h0M1736.9 459.6h0M1734.6 505.2h0M1836.2 506.2h0M1752.9 180.6h0M1857.3 568.4h0M1830.5 504.1h0M1814.7 477.3h0M1823.6 423.1h0M2131.3 430.5h0M1892.9 177.7h0M1838.4 586.6h0M1873.5 70.6h0"/>
<path stroke="#33638D" d="M2139.2 423.5h0M1575.7 148.2h0M1907.6 444.7h0M1969.4 455.6h0M1577.1 180.2h0M2193.8 517.3h0M2129.9 231.3h0M1971.7 458.7h0M2141.3 401.5h0M1810.7 559.6h0M1817.6 550.2h0M1768.5 242.5h0M1614.7 235.9h0M1919.3 133.5h0M1810.2 555.6h0M1788.8 603.8h0M1855.1 199.6h0M1947.7 462.4h0M2044.3 671.6h0M2141.1 269.7h0M1628.5 211.3h0M2135.6 430.8h0M1595.3 257.2h0M1874.7 433h0M1889.7 529.2h0M1791.9 103.1h0M1845.6 529.1h0M1770.3 149.5h0M1838.6 553.2h0M1495.1 446.1h0M1575.4 162.9h0M1831.5 85.7h0M1560 165.8h0M2143.5 208.6h0M1869.1 532.6h0M1816.7 596.7h0M2160.8 445.1h0M1847.8 503.9h0M1921.4 444.7h0"/>
<path stroke="#2D708E" d="M1839.6 101.9h0M1847.7 188.7h0M1568.8 154.5h0M1954.1 505.2h0M1940.7 516.7h0M2169.5 222.4h0M2043.6 180h0M2165.5 403.2h0M1508.8 550.2h0M1942.1 505.9h0M1911.3 125h0M1830.7 102.9h0M1872.3 173.4h0M1836.7 207.5h0M1887.5 159.9h0M1757.1 221h0M1497.4 574.6h0M1838.3 105.6h0M1921.1 473.6h0M1895.5 489.7h0M1928.9 424.7h0M2173.6 218.8h0M1939.5 499.8h0M1966.9 529.2h0M1937.8 520.3h0M1483.4 407.1h0"/>
<path stroke="#287D8E" d="M1832.3 175.3h0M1949.6 422.2h0M1841.2 177.8h0M1857.3 177.2h0M1837.4 151h0M1827.6 110.9h0M1931.4 110.6h0M2239.2 544.9h0M1770.2 191.6h0M1587.7 247.4h0M2147.9 423.3h0M2053.7 543.1h0M2102.2 480.3h0M1474.3 490h0M1896.7 85.2h0"/>
<path stroke="#238A8D" d="M2147.7 453.9h0M1819 150.7h0M1774 202.2h0M1819 125h0M1529.4 429.3h0M1793.9 177.1h0M1802.7 113.7h0M1812 117.2h0M1524.1 439.4h0M1522.7 425.4h0M2146.7 396.5h0M1871.4 134.5h0M1784.5 138.2h0M1511.6 427.4h0M1525.1 439.6h0M2107.9 492.2h0M1941 423h0M1791.5 161.6h0M1817 172.9h0M1815 120.9h0M1831.2 149.5h0M1804.6 176.5h0M1867.3 95.3h0"/>
<path stroke="#1F968B" d="M2224.5 524.5h0M1973 248.5h0M1793.5 144h0M1804.2 145h0M1794.3 220h0M2054.4 666.8h0M2156.4 428.1h0M2158.3 412.7h0"/>
<path stroke="#20A387" d="M1983.5 589.6h0M2108 214.5h0M2069.5 513.1h0"/>
<path stroke="#29AF7F" d="M1975.2 589h0M1876.6 110.3h0"/>
<path stroke="#3CBB75" d="M1434.6 466.9h0"/>
<path stroke="#55C667" d="M2068.1 672.1h0"/>
<path stroke="#73D055" d="M2143.1 620.4h0M2144.4 626.2h0"/>
<path stroke="#95D840" d="M2078.4 654.9h0"/>
<path stroke="#FDE725" d="M2110.7 638.6h0"/>
<path stroke="#440154" d="M1775 285h0M1640.9 629.1h0"/>
<path stroke="#481567" d="M1660.5 397.6h0M1655.6 640.8h0M1891.6 339.2h0M1634.2 567.1h0M2013.9 483.4h0M1921 255.6h0M1833.4 779.2h0M1929.7 754.8h0M2064.6 342.4h0M2014 319.2h0M1763.7 791.3h0M1661 697.8h0M1641.7 549.3h0M1724.5 362.1h0M2108.5 358.3h0M1643.7 422.5h0M1630.9 509h0M1698.2 747h0M1720.2 790h0M1645.2 658.7h0M1646.7 434.1h0M1921.6 375.1h0M1844.8 301.5h0M1638.9 426h0M2037.2 343.1h0M1830.4 777h0"/>
<path stroke="#482677" d="M1672.8 681.2h0M1752.3 778.6h0M1948.9 715.4h0M1670.9 470.5h0M1864.8 313.6h0M1784 382.4h0M1664.1 579.7h0M1684.8 392h0M1661.9 557.8h0M1665.1 397.2h0M1663.8 628.7h0M1977.1 422.6h0M1766.7 782.2h0M1822.6 326.9h0M1773.8 780.2h0M1656.9 548.1h0M1701.9 718.2h0M1647.9 600.3h0M1959.5 654.4h0M1665.6 661h0M1654.5 233.6h0M2064.5 555.7h0"/>
<path stroke="#453781" d="M1738.6 388h0M1679.9 677.7h0M1945.2 692.3h0M1688.7 476.2h0M1762.4 385.6h0M1684.4 679.4h0M1724.4 721.5h0M1689.5 600.3h0M1691.9 472.4h0M1667.7 592.2h0M1969.5 417.3h0M1680 579.8h0M1811.7 756.7h0M1735.9 729.8h0M1765 752.5h0M1724.1 706.7h0M1771.9 767.9h0M1813 746.6h0M1694.2 646.6h0M1746.1 752.6h0M2022.4 674.2h0"/>
<path stroke="#404788" d="M1783.6 406.1h0M1784.8 640.9h0M1806 658.7h0M1855 715.8h0M1785.7 701.8h0M1758.7 604.5h0M1758.8 644.8h0M1715.8 538h0M1995.8 459.4h0M1748.6 239.2h0M1765.4 515.7h0M1688.7 521.6h0M2124.1 255.1h0M1697.4 475.4h0M2034.4 133.8h0M1732.6 678.7h0M1798.6 468h0M1882.6 718.7h0M1764.2 409.1h0M1803.2 435.7h0M1616.3 183.5h0M1757 569.3h0M2135.5 412.9h0M1819.3 668.1h0M1843.4 695.3h0M1707.2 521.5h0M1724.1 675.7h0M1874.8 668.6h0M1719.2 676.3h0M1715 596.2h0M1706.4 533.8h0M2185.1 276.9h0M1707.2 496.1h0M1743.4 652.2h0M1691.5 570.4h0M1801.9 667.1h0M1880.1 710.2h0M2157.3 281.2h0M1832 723.2h0M1739.7 408.5h0M1986.4 608.7h0M1792.8 649.4h0M2124.9 254.2h0M1829.6 392.1h0M1742.6 208.3h0M1740.7 549.2h0M2050.2 481.5h0M1711.5 407h0M1707.6 584.8h0M1852 391.2h0M1826.6 715.2h0M1724.6 564.8h0M1839.7 355.4h0M1564.2 247.7h0M1780.5 720h0M1781.6 433.4h0M1699.1 673.2h0M1714.3 677.8h0M1831.8 658.8h0M1994.2 470.7h0M1883.1 637.6h0M1850.9 636.3h0M1868.1 673.1h0M1749.4 536.7h0M1698.3 596.9h0M2050.2 126.1h0M1712 629.6h0"/>
<path stroke="#39568C" d="M1940.5 593h0M1905.9 597.8h0M1962.3 447.4h0M1912.1 398.1h0M2139.9 498.4h0M1868.4 663.6h0M1990.1 503.2h0M1811.8 497.5h0M1943.8 614.7h0M1856.4 551h0M1770.1 491.6h0M1708.7 487.3h0M1773.4 506.5h0M1925 579.9h0M1795.1 97.1h0M1786.3 453.5h0M1902.7 406.6h0M1827.1 547.6h0M1717.1 466.1h0M1844.6 546.2h0M1833.3 423h0M1936.3 585.8h0M1764.5 473.9h0M1897.3 612.2h0M1750.6 470.3h0M1888.8 594.4h0M1722.8 464h0M1822.1 91.9h0M2135.4 427.3h0M1923.5 622.4h0M1782.7 623.1h0M1929.3 584.1h0M2088.3 532.6h0M1767.9 582h0M1946.7 607.2h0M1779.5 508.4h0M1931.5 134.6h0M1885.8 633.1h0M1870 206.9h0M1875.6 442.3h0M1792.4 460.3h0M1847.7 446h0M1768.6 591.5h0M1846.4 453.2h0M1900.6 605.9h0M1785.4 446.1h0M1793.1 474.4h0M1763.3 588.3h0M1742.8 476.3h0M1820.6 450.8h0M1839.7 596.3h0M1850.4 586.1h0"/>
<path stroke="#33638D" d="M1881.9 437.6h0M1873.4 479.4h0M1850 529.6h0M1572.6 171.1h0M1869.4 479.9h0M1778.2 588h0M1758.8 236.4h0M1867.8 193h0M1772.8 584.5h0M1950.4 557.7h0M2146.1 250.8h0M1468.5 460.3h0M2146.6 207.2h0M2149.8 200.9h0M1497.5 445.5h0M1905.1 558.6h0M2192.5 513.6h0M1873.1 527h0M1950.2 588.2h0M1798.3 609.8h0M1911 461.3h0M2137.3 215.5h0M1559.6 165h0M1631.3 221.2h0M1957.1 426.2h0M1604.6 252.7h0M1560.8 167.8h0M2148.6 245.1h0M2248.8 557.7h0M1928.9 553h0M1832.7 572.8h0M1939.8 454.8h0M1839.6 484.7h0M1781 569.2h0M1941.4 572.6h0M1522.2 461.2h0M2037.8 161.4h0"/>
<path stroke="#2D708E" d="M1597.1 231.8h0M1940 97.9h0M1959.2 532.8h0M1500.7 579.1h0M1820.4 586.2h0M1766.3 186.1h0M2155.1 210.4h0M1979.5 550.7h0M2047.1 526.1h0M2052.7 161.7h0M2150.1 456.9h0M1922.8 500.7h0M1856.2 83.3h0M1910.3 497.1h0M1487.6 410.9h0M1789.7 570.6h0M1879.6 162.2h0M1818.8 581.7h0M1835.3 95h0M1902.8 493.6h0M1821.9 576.6h0M1894.7 512.4h0M1584.8 249.5h0M1903.1 469.1h0M1925.7 486.4h0M2144.6 416.5h0"/>
<path stroke="#287D8E" d="M1584.8 242.9h0M1839.2 133.8h0M1781.8 131.6h0M1466.8 398.6h0M1840.5 186h0M2141.7 389h0M1842.5 122.1h0M1480.4 398.8h0M2164.6 411h0M1864.3 86.9h0M1875.3 158.6h0M1846.6 111.1h0M2162.5 405.8h0M1592.8 233.4h0M1826.2 217.8h0M1478.4 480.7h0M1590.5 244.6h0"/>
<path stroke="#238A8D" d="M1825.7 131h0M1517.3 422.1h0M1524.1 421.3h0M1779.6 215.9h0M1509.4 436h0M1517 444.1h0M1532.3 428.7h0M2125.3 479.4h0M1820.1 179.9h0M1525.9 434.1h0M1481.6 490.8h0M1975.5 595.8h0M1868.8 125.9h0M1821 148h0"/>
<path stroke="#1F968B" d="M2154.7 432.9h0M1874.1 128h0M1791.8 191.1h0M1806.9 127.5h0M2110.1 487.3h0M2131.7 470.9h0M1949 400.7h0M2158.4 424.8h0M1804.5 125h0M2236.2 530.4h0M1796.8 189.5h0M1971.4 265.6h0"/>
<path stroke="#29AF7F" d="M1948.1 411.1h0"/>
<path stroke="#3CBB75" d="M1435.1 468.3h0M1435.8 462.4h0"/>
<path stroke="#95D840" d="M2143.1 634.8h0"/>
<path stroke="#B8DE29" d="M2137.2 627.4h0"/>
<path stroke="#440154" d="M1634.9 417.2h0M1811.2 299.6h0M1724.3 351.4h0M1767.5 354.1h0"/>
<path stroke="#481567" d="M1703.8 744.1h0M1937.2 251.1h0M2045.2 343.8h0M1666.9 716.1h0M2054.2 347.7h0M1692.5 733h0M1751 797.5h0M1690.3 382.9h0M1819 313.4h0M1839.8 308.8h0M1648.5 472.5h0M2017.6 317.6h0M1908.2 769.2h0M2000.8 319.4h0M1631.6 516.1h0M1647.7 622.1h0M2017.4 315.2h0M1647 566.2h0"/>
<path stroke="#482677" d="M1725.6 389.4h0M1648.1 496.7h0M1756.8 378.6h0M1898 763.7h0M1706 718.8h0M1670.1 620.9h0M1726.3 770.3h0M1661.4 541.1h0M2006.9 488.6h0M2017.9 662.1h0M1662.1 603h0M1754.3 375.5h0M1651 604.3h0M1714.5 744.5h0M1727.8 381.4h0M1844.4 317.7h0M1658.4 518h0M1809.1 354.4h0M1797.6 783.4h0M1811.6 360.9h0M1928.5 746.5h0M1647.3 529.9h0M1701.1 728.8h0M1661.3 561.3h0M1957.8 701.9h0M1662.9 481.1h0"/>
<path stroke="#453781" d="M1911.2 376.4h0M1786 759.5h0M1709.8 699.7h0M1922.9 724.1h0M1974.1 426.9h0M1675.3 479.2h0M1741.8 744.9h0M1792.7 761h0M1685 510h0M2086 542.9h0M1800.6 757h0M1673.2 581.7h0M1705.5 396.7h0M1772.4 388.1h0M2026.3 673.5h0M1877 760h0M1717.5 714.7h0M2003.2 513.5h0M1838.2 747h0M1723 714.7h0M1798.4 754.5h0M1690.1 679.4h0M1931.9 719.9h0M1704.7 691.7h0"/>
<path stroke="#404788" d="M1712.8 435.5h0M1728.8 684.3h0M1921.9 177.1h0M1808.6 683h0M1789.5 458.6h0M2143.3 294h0M1862.7 697.2h0M1864.6 616.9h0M1791.5 491h0M1693.6 654.7h0M1779.2 711.6h0M1831.9 413.2h0M1807.2 473.4h0M1719.1 417.3h0M1701.8 611.5h0M1840 646.8h0M1751.5 682.3h0M1695.8 542.9h0M1856 357.3h0M1731.7 576.4h0M1886.3 612.1h0M1850.9 672.9h0M1917.9 708.8h0M1721.4 435.7h0M1806.2 396.1h0M1707.6 616.8h0M1715.1 562.7h0M1700.1 512h0M1795.9 655h0M1787 659.6h0M1723.8 511.8h0M1764 737.8h0M1798.5 506.4h0M1863.2 664.1h0M1694.6 436.3h0M1747.1 559.1h0M1755.7 401.9h0M1872.5 370.2h0M2118.1 263.4h0M1711.6 493.9h0M1801.2 645.5h0M1726 643.6h0M1867 713.1h0M1771.4 620.1h0M1708.7 442h0M1772.8 719.1h0M1769.5 415.1h0M1702.7 534.8h0M1759.7 692.6h0M1793.8 395.8h0M1717.2 617.6h0M1832.8 230.7h0M2126.6 290.6h0M1828.2 737.8h0M1703.8 470.9h0M1935.3 653.5h0M1936.1 667.4h0M1767.4 690.9h0M1597.6 164.6h0M1825.7 362.7h0M2144.1 286.8h0M2134.6 295h0M1734.5 703.2h0M1710.8 601.4h0M1784 656.4h0M1839.9 404.7h0M2031.7 130.3h0"/>
<path stroke="#39568C" d="M1850.6 202.5h0M1719.2 480.9h0M1809.3 622.3h0M1953.7 392.6h0M1874.3 583.4h0M2172.6 429.1h0M1753.2 484h0M1835.1 416.3h0M1893.9 667.4h0M1876.4 197.4h0M1707.2 469.6h0M1811.6 479h0M2103.3 530.8h0M1916.7 650.6h0M1781.7 560h0M1824.7 443.1h0M1787.1 559.2h0M1947.5 613.3h0M1824.4 84.5h0M1834.7 514.2h0M1917.7 206.8h0M1844.4 553.1h0M1792 468.4h0M2038.3 679.1h0M1483.8 547.9h0M1838.5 602.9h0M1736 451.6h0M1940.7 130h0M1922.7 658.2h0M1515.1 560.2h0M1925.1 138.2h0M1752.9 463.7h0M1847.2 456.6h0M1867.7 412.7h0M1896.4 429.1h0M2150.9 482.9h0M1796.1 551h0M1779.2 501.6h0M1890.5 638.2h0M2160.8 468.2h0M1912.2 697.3h0M1928.3 628h0M1925.9 667.3h0"/>
<path stroke="#33638D" d="M1869.4 562.6h0M1621.5 214.2h0M1780.8 115.9h0M1753.8 221.7h0M1940 461.7h0M2148.7 271.9h0M1826.2 580.6h0M1937 477.3h0M1970.5 462.8h0M1883.4 495.3h0M1944.4 446.2h0M1573.4 149.1h0M1941.3 390.9h0M1517.7 488.7h0M1926.3 443.4h0M1821.9 96.8h0M2165.3 437.1h0M1833.3 576.7h0M1906.9 170.6h0M1839.4 212.2h0M1911.8 578.1h0M1828.9 592.4h0M1470.8 452.8h0M1866.8 504.1h0M1879.8 523h0M1958 461.4h0M2147.6 277h0M1577 252h0M1485.9 452.6h0M1844.2 78.2h0M1922 75.4h0M1561.6 183.6h0M2129.5 232.4h0M2139.4 428.2h0M1461.5 457h0M1897.9 538.6h0M1886.3 456.3h0M1857.9 79.7h0"/>
<path stroke="#2D708E" d="M1900 147.7h0M1925.8 512.7h0M1900.3 76.8h0M1947.3 508.3h0M1935.1 499h0M1758.9 212.3h0M1931.9 509.6h0M2051.3 518.3h0M1583.3 231.3h0M2151.8 238.6h0M1764.3 183.5h0M2047.8 185.7h0M2169.9 234.5h0M2054.2 513.5h0M1980.4 512.2h0M1590.7 251.5h0M1833.7 104.6h0M2060.4 163.7h0M1897.1 160h0M1995.9 585.2h0M1781.4 237.5h0M1904.1 130.8h0M1942.3 110.5h0M1820.1 105.1h0M1891.9 80.3h0M1976.4 520.3h0M1925.1 407.1h0"/>
<path stroke="#287D8E" d="M1477.3 402.3h0M1890 84.8h0M1590.5 242.4h0M1912.7 117.6h0M1873.6 152.4h0M2167.5 606.4h0M1920.8 93.4h0M1494.8 491.4h0M1783.5 128.6h0M1937.4 103.8h0M1768.5 213.8h0M1779.7 147.9h0M1501.3 497.1h0M1966.8 593.7h0M1852.7 110.6h0M2167.2 615.3h0M1852.9 150h0M1984.6 560.4h0M1794.8 588.8h0M1790.1 165.1h0M1771.6 212.4h0M1852.2 99.6h0M2171.9 625.3h0M1782.9 227.7h0M1904.7 88.8h0"/>
<path stroke="#238A8D" d="M1789.6 140.6h0M2162 425.6h0M2055.4 184.8h0M1789 123.6h0M1818.4 193.7h0M1790.5 145.9h0M1523.7 443.6h0M1522.5 421.7h0M2143.8 456.3h0M1809 160.4h0M1526.3 425.7h0M2050.2 182.6h0M1777 213.9h0"/>
<path stroke="#1F968B" d="M1804.4 218.9h0M1808.4 204.9h0M2219 520.5h0M2159.4 598.7h0M1807.4 191.3h0M1795.6 185.1h0"/>
<path stroke="#20A387" d="M2117.6 213.2h0M2110.2 211.7h0M2213 532.9h0M2053.9 171.9h0"/>
<path stroke="#29AF7F" d="M1471.7 393.4h0M1419 472.2h0"/>
<path stroke="#3CBB75" d="M2043.3 795.4h0"/>
<path stroke="#55C667" d="M2079.2 674.6h0"/>
<path stroke="#DCE319" d="M2092.6 655.3h0"/>
<path stroke="#440154" d="M1829.8 294.8h0M1857.9 293.5h0M1857.5 284h0M1748.1 338.2h0M1820.5 299.2h0M1690.9 744.4h0M1670.8 370.9h0"/>
<path stroke="#481567" d="M1669.6 391.5h0M2098.3 355.8h0M1685.2 730.4h0M1791.4 348.9h0M1921.3 249.8h0M2043 568.6h0M2006.4 322h0M1832.4 788.3h0M1683 736.2h0M1643.2 475.7h0M1642.5 484.9h0M1773.8 367.8h0M1657.8 480h0M2043.6 331.9h0M1775.7 793.3h0M2053.2 346.4h0M2092.8 356.3h0M1830.2 302.4h0M2007.5 320.8h0M1806.4 793.6h0M1828.6 305.7h0M2042.8 342.7h0M1723.4 764.3h0M1641.8 687.5h0M1644.6 443.8h0"/>
<path stroke="#482677" d="M1712.6 724.3h0M1907.6 362.6h0M2010.3 534.8h0M1897.7 362.6h0M1738.7 379h0M1776.3 381.8h0M1661.2 476.5h0M1671.7 565.6h0M1666.6 553.4h0M2004.8 442.5h0M1656.7 541.6h0M1885 775.3h0M2011.6 468.3h0M1648.6 507.6h0M1790.6 787.6h0M1866 779.8h0M1745.4 768h0M1663.5 455.8h0M1721.6 756.8h0M1664.7 545.6h0M1798.5 364.2h0M1770 777.6h0M1915.2 757h0M1657.2 509.3h0M1677.7 392.9h0M1690 699.5h0"/>
<path stroke="#453781" d="M1702.5 675.8h0M1872 757.2h0M1851.4 349.2h0M1889.3 761.4h0M2003 505.7h0M1686 426.5h0M1733.3 735.5h0M1812 761.6h0M1844.3 327.1h0M1695.5 400.7h0M2002.3 487.7h0M1672.3 602.9h0M1682.8 534.4h0M1684.3 581h0M1747.1 746.7h0M1671.6 554.1h0"/>
<path stroke="#404788" d="M1628.1 194.2h0M1753.9 612.8h0M2040.1 128.6h0M1843.8 682.8h0M1718.3 632.5h0M1860.8 639.1h0M1737.8 699.6h0M1716.4 437.2h0M1823 734.6h0M1888.1 388.9h0M1835.1 714.2h0M1627.1 184.2h0M1701.1 567.7h0M1863.4 625.1h0M1838.4 688.8h0M1834.3 676.1h0M1776.1 732.6h0M1896 395.6h0M1632.2 186.6h0M1851.7 209h0M1839.6 719.6h0M1851.1 736.2h0M1802.4 699.3h0M1695.8 486.4h0M1732.6 591.5h0M1698 453.7h0M1868.5 629.6h0M1686.4 514.8h0M1852.7 710.3h0M1759.7 149.5h0M1843.9 362.1h0M2067.8 116h0M1739.9 668.9h0M1763.4 667.1h0M1789.1 736.5h0M1937.8 650.8h0M1861 727.6h0M1881.9 734h0M1782.2 422.1h0M1796.1 727.3h0M2068.5 119.7h0M2158.7 278.5h0M1830.1 406.7h0M1745.1 406.3h0M1877.6 389.8h0M1744.1 542.8h0M1773.7 710.3h0M1750.7 401.9h0M1722.6 578.8h0M1858.2 710.7h0M1841.6 617.7h0M1807.5 704.3h0M1799 710.5h0M1796.1 700.5h0M1813.4 672.1h0M1739.1 527.6h0M1729.1 658.6h0M1790.7 718.2h0M1800.1 729h0M1775 416.7h0M1761.1 717.6h0M1692.7 564.5h0M1874.3 213.4h0M1572.2 254.8h0M1853.3 643.1h0M1607.9 182.3h0"/>
<path stroke="#39568C" d="M1874.1 650.8h0M1849.7 599.8h0M1827.6 447.5h0M1783.9 482.1h0M1757.5 451.2h0M1742.5 441.1h0M1754.5 497.9h0M1760.2 505.5h0M1933.9 65.2h0M1901.5 675.4h0M1812.2 619.3h0M1927.6 673h0M1938.9 617.1h0M1744.2 452.6h0M1812 549.9h0M1839.1 422.3h0M1770 128.7h0M1836.4 403.4h0M1848.2 475h0M1725 471.6h0M1906.3 656.1h0M1823.4 235.8h0M1830.9 536.6h0M1713.2 481.3h0M1808.6 549.3h0M1861.1 621.3h0M1885 602.4h0M1818 486.5h0M1970.1 286.2h0M1745.8 496.7h0M1885.8 720.8h0M1915.9 704.6h0M2163.6 463.1h0M1799.2 499.6h0M1918.8 666.5h0M1966.7 436.1h0M2037.6 532.9h0M1804 620.9h0M1944.6 628.1h0M1809.3 525.8h0"/>
<path stroke="#33638D" d="M1957.5 477.1h0M1909.3 133.8h0M1874.9 548.3h0M1917.7 79.1h0M1812.9 97.1h0M1868.8 545.9h0M1769.3 145.4h0M1949.8 578.3h0M1839.2 508.3h0M1598.6 207.3h0M1882.2 502.1h0M1469.4 460.8h0M1890.7 484.6h0M2140.6 415.1h0M1902.9 448.5h0M1907.2 565h0M2039.6 169.3h0M1894.4 434.1h0M1935.4 456.1h0M1590.3 206.7h0M1809.4 98.2h0M1856.6 474h0M1966.1 467.2h0M1917.1 439.2h0M2153.2 462.1h0M1977.8 532.7h0M1600 208h0"/>
<path stroke="#2D708E" d="M1892.6 149.7h0M1946.2 107.4h0M1920.8 505.5h0M1892.2 502h0M1567 161.5h0M2057.6 510.6h0M1904 518.6h0M1581.6 233.3h0M1501.2 544.1h0M2130.9 480.6h0M1906.2 495.4h0M1960.7 539h0M1931.7 499.3h0M1941.4 484.7h0M1582.1 248.9h0M1858.2 191.2h0M1956.8 497.6h0M1921.5 542.3h0M2155.7 238.1h0M1908.8 482.4h0M1911.3 526.8h0M1981.4 506.4h0M1960.4 524.1h0M1950.2 506.4h0M1582.6 232h0M1974.5 493h0M1569.7 155.2h0M1964.8 541.2h0M1595 229.5h0M2167.5 217.4h0M1961.6 545.5h0M2044.5 547.3h0"/>
<path stroke="#287D8E" d="M1505.2 492.7h0M1770.1 196.8h0M1873.8 148.8h0M1916.7 98h0M1595.1 237.1h0M1872.8 144.2h0M1778.4 134.1h0M1769.1 219.3h0M1932.2 105.4h0M1513.2 491.3h0M1906.5 94.8h0M1781.4 180.2h0M1799 582.6h0M1774.2 182h0M1596.2 232.5h0M1979.4 598.7h0M1967.9 560.2h0M1913.9 87.4h0M2233 546.1h0M1802.3 232.6h0"/>
<path stroke="#238A8D" d="M1527.4 432.4h0M1507.6 434.7h0M1525 432.4h0M1775 217.9h0M1815.3 224.7h0M2084.8 508.1h0M1882.5 91.1h0M1817.9 210.9h0M1820.5 158.4h0M2110.3 476.4h0M2053.7 530h0M1819.6 154.1h0M2076.4 494.5h0M2141 464.2h0M1521.2 425.7h0M1813 155h0M1795.5 116.9h0"/>
<path stroke="#1F968B" d="M2116.8 476.5h0M1788.6 202.8h0M2232.6 531.3h0M2156.3 409.1h0M2139.4 460.8h0M1988.6 587.7h0M1789.4 197h0M2105.3 488.7h0M2156 394.2h0M1798.7 186h0M2152.4 412.7h0"/>
<path stroke="#20A387" d="M2149 387.2h0M2057.1 172.7h0M1883.2 119.5h0M2103.9 211.1h0"/>
<path stroke="#29AF7F" d="M2215 529h0M2217.6 523.9h0"/>
<path stroke="#3CBB75" d="M2039.4 788.2h0M2066 662.2h0M2149.9 619h0"/>
<path stroke="#55C667" d="M1432.3 467.3h0M1432.4 465.7h0M1432.3 464.5h0"/>
<path stroke="#95D840" d="M2085.4 666.3h0"/>
<path stroke="#FDE725" d="M2101.3 652h0"/>
<path stroke="#440154" d="M1810.3 315.2h0M1664.5 719.8h0M1785 349.2h0M1741.6 343.5h0"/>
<path stroke="#481567" d="M1637.7 435.5h0M2116.2 362h0M2060.8 352h0M1755.4 367.1h0M2036.5 342.4h0M1982.8 314.5h0M1811.7 333.9h0M1736.4 364.3h0M1645.1 598.2h0M1890.7 342.5h0M1819.4 791.3h0M1812.5 784.4h0M1804 788.6h0M2020.6 325.6h0M2046.7 570h0M2040.7 565.7h0M1695 751.5h0M1660.1 464.9h0M2112.4 360.7h0M1814.5 788.2h0M1681.6 714.4h0M2002.1 326.9h0M1929.8 249.6h0M1903.4 779.6h0M2022.9 325.1h0M1645.1 469.8h0M1633 525.8h0M1796.8 345.2h0M1813.5 792.3h0M1656.7 391.7h0M2040 333h0"/>
<path stroke="#482677" d="M1780.7 375.1h0M1806.1 364.6h0M1913.9 372.9h0M1884.4 345.4h0M1808.9 781.8h0M1669.4 679.7h0M1896.1 757h0M1838 318.8h0M1825.6 337.7h0M1865.1 774.3h0M1762.1 766.8h0M1696.9 385.6h0M1655.4 430.9h0"/>
<path stroke="#453781" d="M1830.7 342.1h0M1678.9 550.6h0M1681 686.6h0M1674.7 613h0M1689.5 629.7h0M1682.5 570.3h0M1762.3 757h0M1972.3 420.2h0M1676.6 677.5h0M1766 384.7h0M1898.5 372.8h0M1801.8 249.4h0M1678.7 546.6h0M1827.8 747.6h0M1902.7 744.8h0M1675 573.9h0M1679.6 481.1h0M1686.2 612.3h0M1834.3 748.7h0M1813.4 750.6h0M1669.3 507.6h0"/>
<path stroke="#404788" d="M1753.5 577h0M1702.6 538.5h0M1732.5 644.5h0M1851.4 689.1h0M1886.5 385.8h0M1776.1 699.1h0M1782.8 417.7h0M2091.5 538h0M1702.9 475.6h0M1801.7 628.4h0M1757.9 564h0M1817.7 71.4h0M1846.4 651.5h0M1850.9 396.7h0M1842 736h0M1760.1 622.6h0M1864.2 668.7h0M1919.9 391h0M1775.4 439.9h0M1756.4 615.5h0M1783.2 754.5h0M1855 699.2h0M1690.6 429.5h0M1841.2 672.3h0M1743.4 557.5h0M1828.3 420.7h0M1788.1 430.7h0M1772.1 705.9h0M1852.4 659.4h0M2066.7 121h0M1764.2 648.6h0M1782.7 698.5h0M1781.5 428.9h0M1871 360.8h0M1781 641.7h0M1603.8 178.8h0M1761.4 134.7h0M1749.4 546.8h0M1698.8 419.9h0M1759.8 401.2h0M1802.1 672.1h0M1747.2 519.5h0M2147.5 286.5h0M2120.7 260.4h0M1751.9 539.1h0M1693.4 596.3h0M2084.5 465.6h0M1998.5 468.6h0M1765.8 529.7h0M1738.6 512.1h0M1795 630.9h0M1728.2 575.2h0M1901.8 720.7h0M1726 628.6h0M1845.2 380.5h0"/>
<path stroke="#39568C" d="M2124.1 505h0M1793.7 553.7h0M1923 221.4h0M1934 612.3h0M1924.8 588.7h0M1785.9 551.8h0M1872.6 197.8h0M1805.9 504.5h0M1840.8 425.5h0M2110.2 524h0M1843.3 71.5h0M1917.7 172.6h0M1951.7 595.2h0M1970.5 442.1h0M1911.6 145h0M1870.2 419.9h0M1747.4 503.4h0M2146.1 483h0M1791.6 445.8h0M1842.9 572.6h0M1880.3 402.7h0M1887.1 60.4h0M1731 497.5h0M1775.6 114.3h0M1918.5 68.1h0M1924.3 583.6h0M1891.9 622.2h0M1829.1 552.7h0M1905.7 411.2h0M1939.5 631.4h0M1862.2 675.4h0M2086.7 527.8h0M1792.8 615.2h0M1875.4 436.5h0M1724 490.3h0M2157.1 476.9h0M2080 161.6h0M1811.9 511.4h0M2041.6 525.7h0M1774.7 492.1h0M1782.2 466.8h0M1878 662.1h0M1900.2 427.5h0M1921.9 606.1h0M1913.6 652.7h0M1731.4 466.8h0M1763 502.1h0"/>
<path stroke="#33638D" d="M1901.3 432.1h0M1918.1 553.3h0M1771.9 124.7h0M1576.1 182.1h0M1884.1 479.8h0M1984.8 526.5h0M2157.7 450h0M1830.1 557.5h0M1849.1 77.3h0M1805.8 562.6h0M1882.8 552.3h0M1570.4 167.6h0M1949.2 562.4h0M1780.8 602.9h0M1785.4 565.9h0M1983.8 530h0M1954.5 480.9h0M1921.9 422.2h0M1946.1 467.3h0M1853.5 76.4h0M1873.4 522.7h0M1779.8 574.8h0M2148.4 282.6h0M1923.4 403.7h0M1774.4 581.2h0M1498.2 431.3h0M1486.1 448.1h0M1864.5 79.3h0M1986.3 484.8h0M2148.8 260.6h0M1892.6 166.2h0M1789.2 108.6h0M1864.5 535.8h0M1589 260.8h0M1633.8 209.8h0M1927.4 130.2h0M1560.7 177.3h0M1763 166.9h0"/>
<path stroke="#2D708E" d="M1949.4 524.6h0M1992.1 567.6h0M1947.5 541.9h0M1785.9 239.9h0M2159.5 233.6h0M1929.2 534.1h0M1935.6 113.4h0M1944.6 101.7h0M1945 112.2h0M1601.7 236.4h0M1956.2 518.1h0M1928.2 121.9h0M1803 103.9h0M1983.6 601h0M1903.1 484.4h0M1496.4 545h0M1955.3 487.3h0M1760.6 205.2h0M2094.9 508.9h0M1600.9 232.3h0M1883.3 163.1h0M1942.2 477.5h0M1877.9 519.8h0M2146.8 419.8h0M1799.2 598.8h0M1512.1 548.4h0M1976.2 549.8h0M1946.4 514.5h0M1962.4 508.8h0M2157.2 382.8h0M1960 519h0M1952.4 428.8h0M1812.6 594.3h0"/>
<path stroke="#287D8E" d="M1847.1 157.9h0M2147.6 414h0M1590.6 236.9h0M1765.2 217.1h0M2168 603h0M2243.4 551.1h0M1860.7 142.3h0M1867.5 90.8h0M2094.8 484.9h0M1848.4 113.7h0M2098 503h0M1864.4 144.9h0M1848.8 139.8h0M1849.4 174.1h0M1594.8 234.1h0M1811.3 230.8h0M1767.8 206.4h0M1505.8 494.1h0M1908.8 102.2h0M1829.2 116.5h0M1973.2 560h0M1980 556.3h0"/>
<path stroke="#238A8D" d="M1520.1 420.6h0M1804.2 157h0M1533.4 438.5h0M1807 180.9h0M2118.7 484.8h0M2158.1 433.8h0M1789.2 182.1h0M1826 123h0M1981.5 561.7h0M1873.7 90.6h0M1524 444.3h0M1829.5 146.1h0M1528.3 440.2h0"/>
<path stroke="#1F968B" d="M1780.7 205.6h0M1799.6 191.7h0M2143.8 450.7h0M2207.6 527h0M2220.3 521.4h0M2121.3 471.6h0M1792.9 216.8h0"/>
<path stroke="#20A387" d="M2216.4 533.3h0M1891 116.6h0M1874.1 102.8h0M1969.3 575h0M2210.4 523.4h0M1869 112h0M1886.4 121.4h0"/>
<path stroke="#29AF7F" d="M1879.1 117h0M1419.6 472.9h0M2063.8 665.7h0"/>
<path stroke="#3CBB75" d="M1427.9 470.1h0"/>
<path stroke="#55C667" d="M2080.5 668.9h0M2074.5 661.8h0"/>
<path stroke="#B8DE29" d="M2137.1 623.6h0M2083.2 649.5h0"/>
<path stroke="#FDE725" d="M2089.8 647.6h0"/>
<path stroke="#440154" d="M1744.8 348.9h0M1712.3 355.5h0M1754 340.4h0M1721.1 353h0M1788.1 334.7h0M1824.3 299.5h0M1677.8 364.1h0M1618.5 643.5h0"/>
<path stroke="#481567" d="M1995.4 313.7h0M2053.7 346.5h0M1634.2 544.7h0M1791.5 261.3h0M2021.8 467.2h0M1813 327.4h0M2016.8 325.6h0M1739.7 798h0M2012.2 492.7h0M1675 702.8h0M1860.4 778.9h0M1645.2 655.3h0M1834.9 784.8h0M1635.1 427.1h0"/>
<path stroke="#482677" d="M1897.8 773.8h0M1833.8 767.1h0M1743.3 374.3h0M1894.9 761.7h0M1665.3 697.8h0M1735.1 372.5h0M1878.7 766.5h0M1748.6 772.1h0M1656 679.2h0M1663.9 655.3h0M1661.7 691.8h0M1964.4 641.2h0M1686.2 704.7h0M1732.7 767.7h0M1836.5 313.1h0M1757.5 779h0M1666.2 683h0M1679.9 404.2h0"/>
<path stroke="#453781" d="M1738.5 392.7h0M1683.1 414.6h0M1945.5 645.9h0M1646.9 146h0M1821.9 364.1h0M1716 390.7h0M1956.2 698.8h0M1691.5 626h0M1785.9 389.7h0M1811.5 247.1h0M1687.1 448h0M1696.8 408.6h0M1961.7 636.4h0M1988.8 432.5h0M1911.5 722.6h0M1678.3 569.7h0M1690.8 619.7h0M2077.5 544.1h0"/>
<path stroke="#404788" d="M1805.1 401h0M1729.7 551.3h0M1841.7 367.1h0M1833.6 379.5h0M1854.9 652.5h0M1940 677h0M1751.2 166.1h0M1930.9 182h0M2126.4 248.3h0M1876.6 632.8h0M1708.5 437.1h0M1757 687.5h0M1746.2 662h0M1845.6 400.6h0M1854.2 743.8h0M1835.6 721h0M1836 735.8h0M1843 702.6h0M1780.2 520.6h0M1926.2 697.3h0M2138.5 294.3h0M1835.5 653.1h0M1748.4 581.6h0M2137.4 290.4h0M1762.8 425.6h0M1820.8 702.3h0M1845.4 655h0M1749.1 615.1h0M1735.5 574.7h0M1748.3 646.9h0M1729.7 692.3h0M1824.3 632.5h0M1762.7 695.6h0M1733.2 569.5h0M1729 420h0M1845.5 384.8h0M1579.8 258.7h0M1759.5 639.2h0M1711.7 680.9h0M1769.3 409.3h0M1616.4 181.4h0M1834.6 408.2h0M1816 676.8h0M1729.1 699.1h0M1754.9 534h0M1839.8 675.7h0M1751.3 690.8h0M1861.9 393h0M1815.3 638.5h0M1733.9 624.9h0M1835.4 354.5h0M1839.6 68.1h0M1817.1 723.8h0M1774.4 745.6h0M1716.2 641.5h0M1805 739.2h0M1765.8 624.3h0M1807.4 428.6h0M2019.9 566h0M1821.8 719.7h0M1696.7 557.8h0M1728.6 416.6h0M1747.3 604h0"/>
<path stroke="#39568C" d="M1759 429.8h0M1729.8 444.6h0M2140.6 486h0M1984.6 457.2h0M1907 591.6h0M1733.3 456.2h0M1758.7 442.8h0M1836.8 467.9h0M1751.9 425.3h0M1855.6 445h0M1923.3 637.9h0M2133.3 499.8h0M1706.7 483.3h0M1902.5 686.9h0M1847 467.3h0M1867.1 404.6h0M1956.8 614.6h0M1798.5 95.3h0M1880.1 573.3h0M1972.7 436.7h0M1929.2 685.1h0M1915.9 403.8h0M1869.7 70.2h0M1840.3 73.8h0M2093.2 528.1h0M1877.1 682h0M1813.3 532.5h0M1803.1 613.1h0M1774.6 470.8h0M2116.8 521.4h0M1765.3 152.2h0M2147.7 478h0M1901.1 654.2h0M1841.3 542.6h0M1872.6 573.6h0M1805.8 497.7h0M2102.8 521h0M1830.4 491.3h0M1837.6 593h0M1760 157.4h0M1908.4 588.6h0M1912.3 678.9h0M2111.8 513h0M2148.2 472.9h0M1737 442.9h0M1879.9 685.1h0M2107.1 505.7h0M1911.6 616.2h0M1929.5 607.8h0M1859.8 602.5h0M2106.3 524.6h0"/>
<path stroke="#33638D" d="M1805.2 603.3h0M1857.8 482.5h0M1902.8 74.5h0M2110.1 466.6h0M2038.2 180.8h0M2129.1 208.6h0M1832.7 594.1h0M1853.4 524.8h0M2135.3 392.2h0M1983 485.2h0M1501.4 443.9h0M1991.6 532.7h0M1830.9 91.7h0M1858.2 500.1h0M1921.1 413.1h0M1887.1 167.2h0M1500.3 447.1h0M1869.2 495.3h0M1838.6 569.2h0M1836.5 85.6h0M1885.8 469.4h0M2144.6 471.8h0M1959.1 403.3h0M1752.6 199.3h0M1873 473.6h0M1990.3 549.8h0M1933.2 543.3h0M2041.5 158.4h0M2142.8 277h0M1929.5 454.1h0M1875.6 538.4h0M1817.4 605.3h0M1918.6 409.9h0M1842.8 517.4h0M2154.8 456.5h0M1529.7 483.7h0M1920.5 565h0M1783.5 608.9h0M2142.2 262.2h0M1879.3 515.6h0M1501.4 432h0M1854 479.2h0M1853.1 520h0M1850 522.1h0"/>
<path stroke="#2D708E" d="M1892.3 517.5h0M1953 579.4h0M1787.2 586.7h0M1963.9 533.2h0M1961.3 596.1h0M1604.7 235.4h0M1932 523.4h0M2168 427h0M2123.6 456.9h0M2154.4 203.2h0M1937.3 509.9h0M1499.5 542h0M1916.2 505h0M1509.3 548.5h0M1967.7 550.7h0M1956.8 586.9h0M1789.1 589.9h0M2159.9 206.7h0M1786.9 598.3h0M2047.1 187h0M2041.7 178.2h0M1793.5 111.1h0M1577.8 237.5h0M1930.9 537.6h0M1880.7 79.2h0"/>
<path stroke="#287D8E" d="M1853.7 144h0M2169.3 620.3h0M1770.8 184.9h0M1909.7 92.7h0M1848.1 179h0M1860.2 136.8h0M2121.7 487.4h0M1878.1 140.2h0M2047.6 538.9h0M1856.5 139.5h0M1880 149.3h0M1858 96.8h0M1857.6 122.3h0M1591.6 242.9h0"/>
<path stroke="#238A8D" d="M1811.5 166.8h0M1794.1 173.4h0M1810.2 178.4h0M1514.6 439.5h0M1526.7 424.5h0M1898.3 125.2h0M1824.3 155h0M2051.4 168.6h0M1876.6 134h0M2165.1 611.6h0M1992.7 583.3h0M1518.9 424.3h0M1814.9 220.4h0M1800.3 229.3h0M1531.8 431.4h0M1858.8 108.8h0M1787.3 187h0M1789.5 158.6h0"/>
<path stroke="#1F968B" d="M2077.9 511.3h0M2098 489.2h0M1813.8 137.2h0M1813.9 201.1h0M1970.8 249.7h0M1795.9 148.1h0M1791.8 128.4h0M1808.2 124.1h0M2133.9 462.1h0M2207.5 531.1h0M2159.1 419.1h0M1974.1 269.8h0M1972.4 261.3h0M1974 592.4h0M2059.5 530.7h0M2221.1 533.9h0"/>
<path stroke="#20A387" d="M2218.9 521.5h0M2219.7 533.6h0M2215.9 520.6h0M1893.1 105.3h0"/>
<path stroke="#29AF7F" d="M1938.8 403.9h0M1473.8 396.6h0M1946.9 407.7h0"/>
<path stroke="#55C667" d="M1435.4 463.8h0"/>
<path stroke="#73D055" d="M2145.5 630.8h0"/>
<path stroke="#DCE319" d="M2087 643.5h0M2133.8 634.8h0"/>
<path stroke="#440154" d="M1730.9 347.3h0M1766.2 346.1h0"/>
<path stroke="#481567" d="M1643.2 601.3h0M2048.9 573.7h0M1815.7 321.6h0M1718.7 747.5h0M1758.3 796.5h0M1900.3 781.3h0M1820.4 330.8h0M1795.9 804.4h0M1928.1 255.5h0M1642 610.4h0M1657 403.5h0M1646.3 417.8h0M2022.6 330.8h0M1723.5 773.6h0M1999.3 314.1h0M1832.2 306.2h0M1654.3 479.6h0M1647.7 686.8h0M1830.4 309.5h0M1641.8 528h0M1789.7 344.7h0M2074.1 346.8h0"/>
<path stroke="#482677" d="M2073.7 551.7h0M1664.5 609.7h0M1893.9 773.4h0M1695.1 698.7h0M1723 382.6h0M1652.6 657.6h0M1721.6 729.8h0M1915 743.8h0M1957.3 650.4h0M1653.6 521h0M1658.5 594.9h0M1657.8 557.9h0M1670.7 641.3h0M1879.1 772.5h0M1823.7 342.6h0M1814.1 771.6h0M1729.4 375.1h0M1740 752.2h0M1753.4 382.6h0M1745.6 370.9h0M1699.5 381.6h0M2015.5 664.9h0M1672.8 408.3h0M1780.8 263.7h0M1663 623.3h0"/>
<path stroke="#453781" d="M1829.9 742.7h0M1807.9 375.2h0M1849.7 343.5h0M1778.3 759.5h0M1784.8 770.9h0M1677.4 504.3h0M1880.3 362.3h0M1674.8 645.5h0M2033.2 550h0M1906.5 740.3h0M1657.4 138.7h0M1907.9 736.1h0M1917.1 229.3h0M1789.3 385.4h0M1739.4 734h0M1893.8 364.5h0M1716.3 697.7h0M1651.2 152.6h0M1944.2 662.5h0M1692.6 682.5h0M1743.3 389h0M1962.2 667h0M2006.4 503h0"/>
<path stroke="#404788" d="M1690.8 498.1h0M1879.1 638.6h0M1705 525.9h0M1789.4 753.6h0M1834.5 371.9h0M1815.1 417h0M1597.9 173.5h0M1824.4 239.9h0M1694.5 608.2h0M1808.1 730.6h0M1729.8 616.6h0M1744.1 702.4h0M1743 197.5h0M1788.8 399.9h0M1843.6 717.9h0M1759.4 705.8h0M1717.4 601.9h0M1926.9 183.6h0M1729.9 688.2h0M1815.2 695h0M1833.7 661.7h0M1568.3 251.4h0M1594.3 189.1h0M1718.8 430.8h0M1997.9 506h0M2005.6 527.3h0M1957.3 632.3h0M1723.9 516.5h0M1760.1 535.2h0M1682.6 524h0M1625.2 180h0M1772.2 647h0M1617.8 181.3h0M2171.4 274.3h0M2168.9 273.8h0M1930 701.9h0M1735.5 615.5h0M1693.3 482.7h0M1871.8 385.8h0M1786 409.8h0M1838 635.4h0M1774.4 661.7h0M1791.8 689.7h0M1722.9 670.4h0M1805.5 677.1h0M1741.7 520.9h0M2001.9 539.1h0M1821.5 630.3h0M1875.8 748.6h0M1851.2 656.1h0M1696.6 622.4h0M1859.6 66.5h0M1598.9 168.7h0M1700.9 461.4h0M1913.7 718.5h0M1769.3 671.3h0M1763.2 703.5h0M1756.2 248.1h0M1694.8 669.5h0M1771.1 443.1h0M1709.2 556.6h0M1755.5 524.4h0M1819.9 688.6h0M1838.1 642.5h0M1731.8 612.8h0M1794.9 495.1h0M1877.5 366.8h0"/>
<path stroke="#39568C" d="M2112.8 506h0M1901.3 643h0M1932.9 587.8h0M1854.4 424.1h0M1879.5 582.5h0M1749.7 454.5h0M1898.9 662.3h0M1784.3 514.5h0M1833.3 470.4h0M1850.3 581.4h0M1987.2 303.8h0M1924.2 599.2h0M1888 688.9h0M1728.3 449.8h0M1898 407h0M1830.6 499.4h0M1863.9 446.7h0M1767.5 252.9h0M1897.9 708.8h0M1836.3 518.4h0M1854.4 205.1h0M1923.6 681.1h0M2130.7 365.4h0M1842.8 487.1h0M2156.3 472.8h0M1958.5 605.3h0M1896.6 597.9h0M1951.7 118.1h0M1832.5 520.4h0M1821.6 497.7h0M1983.9 442.2h0M1802.7 461.3h0M2135.2 402.2h0M1897.5 713.3h0M1887.8 706.7h0M1846.7 441.7h0M1879.7 409h0M1862 597.2h0M1778.5 491.1h0M1882 184h0M2098 522.5h0M1787.2 468h0M1772.6 546.4h0M2139.6 419.4h0M1830.1 232.7h0M1944.4 602.5h0M1848.6 438h0M1733.3 475.3h0M1810.6 472.2h0M1881.8 585.9h0M1738.7 463.9h0M1865.9 564.7h0M1898.7 619.7h0M1876.2 407.4h0M1783.5 505.8h0M1950.5 626.9h0M1752.7 175.3h0M1861.7 592.8h0M1927.5 691.9h0M1897.7 571.9h0"/>
<path stroke="#33638D" d="M2037 176.5h0M1935.2 460.9h0M1640 221.2h0M1907 441.1h0M2080.7 482.9h0M1599 257.4h0M1841.7 465.9h0M1861.7 546.2h0M2164.6 241.8h0M2150.3 202.2h0M1939.6 560.5h0M1909 682.1h0M2051.4 158h0M1968 458.8h0M1503.7 502.6h0M1944.3 557.6h0M1857.5 450.7h0M1934.7 549.1h0M1847.7 486.9h0M1967 605.9h0M1887.7 431.3h0M1631.4 218.4h0M2059.2 160.6h0M2125.4 489.1h0M2197.2 518.9h0M2149.3 280.4h0M1927 432.5h0M1857.4 532.1h0"/>
<path stroke="#2D708E" d="M1897.5 532h0M1831.3 97.7h0M1805.7 579h0M2165.2 213.4h0M2068.5 531.1h0M1581.4 247.5h0M1935.1 526.9h0M1775.7 154h0M1909.6 128.1h0M1978.3 528.8h0M1502.2 535.7h0M1962.4 561.3h0M1788.6 594.4h0M1902.1 512.5h0M1770.9 232.1h0M1817.8 591.5h0M1973.9 545.3h0"/>
<path stroke="#287D8E" d="M2117.4 488.1h0M1835.6 165.1h0M1774.6 185.3h0M1882.9 143.4h0M1840.6 116.2h0M2242 546.7h0M1827.8 166.7h0M1589.5 231.2h0M2159.1 388.4h0M1857.9 102.4h0M1597.7 236.5h0M1841.5 172.1h0M1594.4 240.7h0M1862.6 155.8h0M1761 209.9h0M1804.1 586.3h0M1820.9 109.6h0M1503 499.6h0M1858.8 157.8h0M1837.7 157.1h0M1440.2 448.7h0M1597.5 240.6h0M2047.3 549.7h0M1842.1 182.4h0M1867.2 85.4h0M1764.5 212.8h0"/>
<path stroke="#238A8D" d="M1778.9 194.8h0M1821.5 164.9h0M2142.7 380.8h0M1519 422h0M1522.1 433.1h0M2055.1 674.7h0M1861.3 106.3h0M1514.7 432.5h0M1777 188.8h0M1516.2 436.4h0M1798.2 159.5h0M1531.9 440.4h0M1812.8 113.1h0M2146.6 435.2h0"/>
<path stroke="#1F968B" d="M2226.8 532.4h0M1946.3 420.5h0M2152 435.1h0M2108.3 482.9h0M2149.3 390.9h0M1814.9 197.9h0M1980.9 273.9h0M2211.9 521.3h0"/>
<path stroke="#20A387" d="M2216.3 521.7h0M1799 202.3h0M1883.2 97.2h0"/>
<path stroke="#29AF7F" d="M2053.2 176.3h0M2216.1 525.5h0"/>
<path stroke="#55C667" d="M1428.5 466.4h0"/>
<path stroke="#B8DE29" d="M2080.9 652h0M2083.7 660.2h0"/>
<path stroke="#FDE725" d="M2121 629.5h0"/>
<path stroke="#440154" d="M1783.4 344.6h0M1606 626.5h0"/>
<path stroke="#481567" d="M1629.9 586.1h0M1632.9 668.7h0M1828.8 788.2h0M2016.6 334.1h0M1633.7 603.9h0M1729 777.1h0M1875.6 335.7h0M2092.6 356.1h0M1805.3 349.1h0M1687.9 380.1h0M1748.4 356h0M1645.1 696.4h0M2029.1 326.9h0M1869.6 309.3h0M1648.4 683.3h0M1767.7 801.7h0M1993.6 313.8h0M1820.7 782.6h0M1748.2 365.3h0M1742.6 781.7h0M1811.4 798.5h0M1696.9 377.7h0M1743.2 794.7h0M1689.3 716.4h0M1986.2 314.8h0M2040.2 328.1h0"/>
<path stroke="#482677" d="M1664.5 672.6h0M1959.6 686.1h0M1651.7 612.8h0M1661.4 449.5h0M1671.6 400.8h0M1694.1 693.2h0M1667.9 694h0M1656.9 443.6h0M1778.7 773.5h0M1658.3 653.2h0M2022.3 672.7h0M1654.6 537.5h0M1716.7 730h0M1963.4 645.5h0M1724.3 738.2h0M1734.2 775.3h0"/>
<path stroke="#453781" d="M1731.9 716.9h0M1584.7 269.2h0M1702.2 398.4h0M1998.8 480.2h0M1727.6 734.8h0M1687.8 465.2h0M1667.6 439.7h0M1772.3 258.6h0M1677 659.9h0M1985.3 433.5h0M1689 400.1h0M2000 483.8h0M1677 555.2h0M1672 557.8h0M2001.9 449.3h0M1796 381.1h0M1681.2 553.2h0M1693.6 617.6h0M1683 601.6h0M1672.4 587.1h0M1830.7 348.4h0M1873.7 355h0"/>
<path stroke="#404788" d="M2177.3 273.9h0M1695.3 561.5h0M1817.9 387.6h0M1851.2 616.7h0M1741.1 660.6h0M1884.3 627.1h0M1778.9 441.6h0M1736.3 651h0M1907.7 717.2h0M1774.1 458.8h0M1711.5 565.5h0M1734.5 509.5h0M1810.3 658.9h0M1728.9 622.7h0M1792.4 509.8h0M1751.3 637.1h0M2143 290.5h0M1766.1 632.3h0M1733 586.8h0M1735.4 715.4h0M1745.2 600.5h0M1997.5 551.5h0M1916 392.7h0M1784 706.6h0M1945.3 684.1h0M1717.4 545.8h0M1809.8 672.8h0M1720.7 495.6h0M1854.5 352.7h0M1760.4 630.6h0M1720.2 423.1h0M1693.7 662.9h0M1759.8 144.8h0M1742.7 228.7h0M1997.6 600.2h0M1700.6 527.5h0M2000 465.1h0M1780.2 694.6h0M1800.8 453.3h0M1738.5 508.8h0M1743.6 436.8h0M1814.7 708.9h0M1927.6 197.1h0M1755.2 670.3h0M1758 153.6h0M1742.6 431.2h0M1779.4 653.3h0M2126.1 245.3h0M1762.5 673.1h0M1754.9 168.1h0M1787 442.6h0M1735 629.1h0M1783.4 635.9h0M2170.7 274.6h0M1697.1 600.3h0M1925.7 230.4h0M1731.7 630.8h0M1701.9 661.3h0M1918.9 219.9h0M1701.6 606.1h0"/>
<path stroke="#39568C" d="M1993.8 547h0M1915.3 141.7h0M1768.3 459.7h0M1824 448h0M2134.8 395.8h0M1884.8 66.4h0M1961 443.7h0M2152.7 471.8h0M1723.8 454.8h0M1769.4 609.5h0M1884.4 591.7h0M1772.4 598.7h0M1773.6 250.4h0M1771.8 473.4h0M1909.6 620.8h0M1767.3 141.8h0M1825.1 433.6h0M1942.9 588.7h0M1871.4 409.7h0M1893 62.4h0M1988.3 298.7h0M2144.2 478.5h0M1841.6 583.4h0M1912.1 415.3h0M1751.3 448.6h0M1883.8 649.2h0M2001.7 520.5h0M1896 646.2h0M2106.9 528.4h0M1942.1 605.6h0M1732.6 479.4h0M1749.3 438.8h0M1906.5 662.3h0M1962.8 609.7h0M1911.7 169.5h0M1901.7 393.8h0M2037.5 550.3h0M1816.7 94.2h0M1907.7 616h0M1777 483.4h0M1820.5 529.9h0M1819.1 447.3h0M2116.1 515.4h0M1750 482.7h0M2116.4 457.5h0M1911.9 180.3h0M1915.7 168.1h0M1805.3 617.4h0"/>
<path stroke="#33638D" d="M1856.8 486.3h0M1855.2 194.5h0M1844 202.4h0M1847.5 81.9h0M1856.7 544h0M1939.2 554.8h0M1964.6 444.4h0M1495.5 429.5h0M2244.3 553.4h0M2115.8 498h0M1905.6 143.9h0M2168.1 400.8h0M1564.3 183.4h0M1861.6 465.9h0M1886.2 540.5h0M1925.2 429.7h0M1942.7 469.5h0M1916.8 73.4h0M1857.6 469.1h0M1870.6 462.3h0M1755.4 227.7h0M2132.4 226.5h0M1989.1 524.5h0M1866.3 516.4h0M1923 434.4h0M1876.1 449.9h0M2103.5 505h0M1489.4 429.8h0M1895.5 527.9h0M1828.1 89h0M2034.9 177.2h0M1520.6 489.4h0M2132.9 225.8h0M1880.2 479.5h0"/>
<path stroke="#2D708E" d="M1759.1 198.1h0M1979.4 515.9h0M2071.8 492.8h0M1969.4 517.8h0M1599.3 230.7h0M1499.6 564.7h0M1826.5 105.1h0M1946.8 482.9h0M1802.6 600.5h0M1763.2 188.2h0M2170 230.7h0M1794.6 599.7h0M1895.7 478.2h0M1880 157.7h0M1943.1 104.6h0M1893.5 75h0M1933.9 512.9h0M1882.1 169.2h0M1503.1 548.4h0M1927 524.2h0M1903 505.6h0M2163.9 209.1h0M1501.2 562.4h0M1959.6 488.5h0M2042.7 540.4h0M1925.8 544.1h0M1578 242.3h0M1920.1 489.5h0M1774.1 231.8h0"/>
<path stroke="#287D8E" d="M1831.6 114h0M1798.9 113.3h0M1927 96.3h0M2141.2 437.4h0M1497.1 492.3h0M2154.1 444.9h0M1848.7 143.8h0M2062.6 168.3h0M2147 410.1h0M1781.9 125.7h0M1806.6 232.1h0M1591.7 234.6h0M1827.9 208.4h0M1844.7 180.2h0M1792.2 116h0M1598 238.6h0M1591.3 243.9h0M1847.9 119.8h0M1829.3 187h0M1858.5 165.2h0M1853 176.8h0"/>
<path stroke="#238A8D" d="M1822.7 194.6h0M2050.6 168.5h0M1824.8 181.7h0M1525.7 430.8h0M1901.7 120.6h0M1901 109h0M1893.7 124.1h0M1776.5 204.9h0M1780.2 221.2h0M1526.6 432.8h0M1786.9 129.8h0M1936.2 418.7h0M1514.7 439.1h0M1510.4 427.7h0M1801 117.1h0M1829.8 133.8h0M2056.4 166h0"/>
<path stroke="#1F968B" d="M1812.1 188.7h0M1868.5 103.3h0M1970.9 589.7h0M1965.4 571.6h0M1804 189.1h0M1799.2 195.4h0M2049.6 179.1h0M1864.7 104.3h0M2153 387.5h0M1811.7 128.5h0M2234.4 530.8h0M1804.7 195.7h0"/>
<path stroke="#20A387" d="M2100.1 211.3h0M1869 117.6h0M1805.2 208.1h0M1880.7 100.1h0"/>
<path stroke="#29AF7F" d="M2085.4 496.3h0M1423.7 473.4h0"/>
<path stroke="#3CBB75" d="M2151.9 626.2h0M2044 797.5h0M1426.9 467.8h0"/>
<path stroke="#95D840" d="M2089.9 664.7h0"/>
<path stroke="#FDE725" d="M2101.9 641.5h0M2115.5 629.2h0M2117.1 641.5h0"/>
<path stroke="#440154" d="M1763 345h0"/>
<path stroke="#481567" d="M1632.8 583.6h0M1706.7 775.7h0M1665.6 389.8h0M2096.1 358.3h0M2012.7 317.7h0M2078 332.8h0M1669.5 384.6h0M1810.6 337.9h0M1753.4 269.9h0M1683 374h0M1649.1 575.4h0M1632.8 503.7h0M1804.9 328.5h0M2023.3 761.5h0M2108.8 359.9h0M1707 753.4h0M1638.4 515h0"/>
<path stroke="#482677" d="M1804.2 777.5h0M1683.1 401.7h0M1773.5 268.7h0M1957 712h0M1849.3 769.3h0M1661.3 684h0M1905.8 756.5h0M1657.7 565.4h0M1785.4 377.8h0M1694.4 392.8h0M1960.5 681.8h0M1749.4 370.9h0M1857.2 772.4h0M1672.7 688.8h0M1794.8 368.2h0M1729.9 387h0M1663.7 647.5h0M1772.5 773.5h0M1738.1 755.5h0M1656 499.1h0M1863.8 765.6h0M1769.5 765.3h0M1786.1 774.5h0M1654.7 234.5h0"/>
<path stroke="#453781" d="M1746.9 756.6h0M1685.5 458.1h0M1881.8 763.6h0M1672.1 486.7h0M1712.3 389.7h0M1832.3 334.4h0M1943.9 705.1h0M1674.6 670.8h0M1891.7 748.6h0M1857.3 751.5h0M1825.3 355.8h0M1752.1 257h0M1747.8 397.1h0M1688.5 648.5h0M1778.5 769.1h0M2069.1 543.9h0M1689.7 490.1h0M1916.6 721.8h0M1732.9 710.7h0"/>
<path stroke="#404788" d="M1844 732.3h0M1821.9 677.1h0M2041.7 131.5h0M1964.6 228.5h0M1765.5 641.2h0M1721 505.1h0M1920.6 230.5h0M1761.6 256.8h0M1832.4 395.9h0M1864 359.4h0M1891 381.4h0M1855.9 747.7h0M2074.4 122.7h0M1809.4 630.9h0M1838.3 650.2h0M1780.1 649.1h0M1786.9 683.4h0M1706.7 672.6h0M1848.5 640.2h0M1826.9 659.5h0M1847.7 604.2h0M2048.5 559.5h0M1719.8 662.8h0M1761 531.9h0M1819.8 643.4h0M1847.7 397.8h0M1829.9 388h0M1707.1 647.1h0M1765.6 421.9h0M1777 461.4h0M1858 620.3h0M1815.8 74.1h0M1756.8 244.2h0M2038.1 554.1h0M1944.7 668.5h0M1827.3 72.7h0M1776.7 736.8h0M1765 662.8h0M1865.4 638h0M1707.3 402.1h0M1723.8 664.7h0M1700.7 556.4h0M1713 666h0M1869.1 666.9h0M1818.7 694.3h0M1777.1 532.6h0M1751.5 669h0M1865.3 643.9h0M2130.6 287.5h0M1842.9 708.4h0M1773.9 435.8h0M1701.3 507.7h0M1589.3 196.1h0M1756.1 732.8h0M2008.2 524.8h0M1991 479.4h0M1817.9 83h0M1807.9 438h0M2054.2 555.9h0M1770.3 641h0M1568.3 253.9h0M1714.9 440.9h0"/>
<path stroke="#39568C" d="M1834.6 465.2h0M1726.2 433.8h0M1809.5 520.3h0M1865.5 396.8h0M2116 449.5h0M1829.4 622.6h0M1878.3 706.4h0M1875.4 393.1h0M1913.1 586.6h0M2159.7 457h0M1715.4 487.2h0M1878.3 586.3h0M1917.8 602.7h0M1906.7 175.6h0M1865.2 69h0M2149.1 488.2h0M1943.3 124.2h0M1844 607.8h0M1761.6 490.4h0M1886.5 407.2h0M1892.6 618.6h0M1774.6 475.7h0M1792.2 246.2h0M1761.1 568h0M1828.2 77.8h0M1871.1 577.2h0M1918.6 636.9h0M1831.9 477.6h0M1879.2 70.2h0M2127.5 500.9h0M1748.3 450.1h0M2121.3 502.1h0M1932.9 637.6h0M1906.7 424.1h0M1870.7 659.6h0M1840.4 531.5h0M1740.1 454.3h0M1946.1 128.2h0M1853.7 401.7h0M1911.4 158h0M1883.9 696.3h0M1980.1 453.7h0M1911.4 625.4h0M1725.6 500.5h0M1884.8 666.3h0M1766.9 571.1h0M1951.4 610.3h0M1834.6 560.1h0M1748 442.1h0M1817.4 514.2h0M1915.7 671.7h0M1859 389.2h0"/>
<path stroke="#33638D" d="M1945.8 116h0M1472.5 450.9h0M2151.5 243.2h0M2048.5 161.5h0M1942.4 84.9h0M1879.1 542.2h0M2126.8 236.7h0M1955.4 549.3h0M1946.4 473.5h0M2130.6 214.2h0M1467.8 457.1h0M2052.4 159.9h0M1794.6 557.6h0M1876.9 475.8h0M2149.1 253.4h0M1896.9 73.7h0M1880.9 482.8h0M1785.4 244h0M1907.1 137.8h0M1894.5 443.7h0M1498.5 430.5h0M2140.2 260.8h0M1807.8 607.7h0M1946.7 448.8h0M2250.3 564.4h0M1847.1 497.2h0M1917.5 129.1h0M1875.3 488.5h0M2040.5 175.2h0M2124.7 237.1h0M1812.1 599.5h0M1780.2 598.9h0M1768.4 160.4h0M1986.7 492.1h0M1499.3 448.8h0M1995.8 520.9h0M1821.5 571.1h0M1892.9 456.9h0M2147.7 205.5h0M1556.2 170.1h0M1951 545.7h0M2036.1 182.5h0M1560.3 159.5h0"/>
<path stroke="#2D708E" d="M1834.8 99.4h0M1805 236.8h0M1794.7 592.5h0M1490.7 531.8h0M1911.4 478.1h0M2044.3 535.5h0M1486 413.8h0M1492.9 535.6h0M1905.7 488.8h0M1915.4 481.5h0M2093.3 480.5h0M1917 520.9h0M1887.2 502.6h0M1601.1 238.5h0M1900.6 486.9h0M1788.5 576.5h0M1512 411.9h0M1500.1 568.1h0M1906.2 80.4h0M1759.8 218.9h0M1598.9 230.9h0M1928.5 489.2h0M2132.5 442.5h0M1759.4 201.4h0M1509.9 542.8h0M1514 413.3h0M1583.2 254.6h0M1599.2 252.3h0M1923.9 493.3h0M2137.7 389h0M1789.1 566.9h0M1864.8 180h0M1976 496.6h0M1604.8 237.4h0M1840.5 197.9h0"/>
<path stroke="#287D8E" d="M1475.3 484.8h0M1932.2 84.2h0M1860.5 178.3h0M2090.8 485.5h0M1852.2 139.1h0M1813.7 109.6h0M1843.6 112.5h0M1478.6 402.4h0M1463.4 391.5h0M2144.5 426.5h0M1975.8 556.7h0M2105.2 497.6h0M1535 431.3h0M2227.1 545.5h0M1860.7 175h0M1779 139.5h0M2050.1 674.3h0M1773.5 177.3h0M1898.2 88.8h0M1928.2 104.1h0M1831.2 124.2h0M2061.4 536h0M1840.9 151.9h0"/>
<path stroke="#238A8D" d="M1808.3 173.6h0M1961.9 574.2h0M1793.4 122.8h0M1531.3 441.8h0M1809.8 226.1h0M1534.5 434.9h0M1533.8 434.6h0M2066.6 527.6h0M1860.3 119.5h0M2061 514.8h0M1521.6 428.1h0M1877.9 89.7h0M1812.9 171.3h0M1514.5 420.2h0"/>
<path stroke="#1F968B" d="M1807.6 135.2h0M1806.8 140.5h0M1984.7 287.3h0"/>
<path stroke="#20A387" d="M2159.1 619.6h0M1887.1 118h0"/>
<path stroke="#29AF7F" d="M1434.4 457.1h0M1437.3 467.8h0M1420.2 472.1h0M2154.7 624.3h0"/>
<path stroke="#3CBB75" d="M1434.5 469.1h0"/>
<path stroke="#440154" d="M1630.4 680h0M1793.2 333.3h0M1631.1 488.4h0M1651 386.3h0M1648 708.8h0"/>
<path stroke="#481567" d="M1691.8 375.3h0M1761.6 272.7h0M1674.8 715.4h0M1750.2 266h0M1653.1 694.4h0M1839 778.4h0M1873.2 789.1h0M1650.8 445h0M2059.6 565.6h0M1824.6 786.1h0M1774.8 360.8h0M1926.3 247.2h0M2012.3 447.5h0M1719.9 773.2h0M1760.7 356.9h0M1764 361.7h0M1637.8 652.2h0M1919.4 759.9h0M1632.4 535.1h0M1755.2 784.9h0M2031.2 332.3h0M1882.7 783.5h0M1634.6 613.9h0"/>
<path stroke="#482677" d="M1704.4 705h0M1659.4 588.1h0M1669 445.7h0M1869.8 325.7h0M1787.3 369.3h0M1973.4 663.3h0M1727.8 760h0M1902.6 750.5h0M1882.1 350.4h0M1927.3 384.1h0M1795.5 780.3h0M2015.9 519.5h0M1827.2 323.9h0M1826.9 329.8h0M1813.5 356.2h0M1823 773.1h0M1656.5 631.2h0M1712.7 733.3h0M1652.2 680.8h0M1771 374.3h0M1913.9 739.9h0"/>
<path stroke="#453781" d="M1758.1 386.4h0M1952.9 657.9h0M1710.6 396h0M1686.8 668h0M1678.6 532h0M1733.1 707.3h0M1890.5 363.5h0M1672.4 523.7h0M1888.3 366.6h0M1648.8 151.7h0M1893.8 738.5h0M1676.8 432.5h0M1925.4 234h0M1678 484.8h0M1816.6 742.4h0M1680.1 464.6h0M1697.6 680.8h0M1687.3 479.4h0M1678.3 586.3h0M1870.5 760.8h0"/>
<path stroke="#404788" d="M1793.5 678.6h0M1845.2 354.3h0M2076 125.7h0M2122.8 280.1h0M1767.4 649.7h0M1576.1 258.8h0M1761 721.5h0M1690 663.9h0M1868.1 709.9h0M2038.2 581.2h0M1712.8 578.3h0M2125.5 287h0M1742.3 416.7h0M1737.8 430.5h0M1842.3 656.3h0M1779.8 630.4h0M1782.3 742.2h0M1799.1 446.2h0M1595.6 182.1h0M1729.3 675.7h0M1751.5 603.4h0M1686.4 592.6h0M1782.7 684.9h0M1865.5 369.9h0M1839.5 733.8h0M1822.3 640.5h0M1746.6 423h0M1765.9 655.8h0M1740.5 211.7h0M1700.1 544.1h0M1699.3 446.5h0M1817.7 713.3h0M1934.4 701.8h0M1834.5 706h0M1766.7 741.2h0M1992.8 602.9h0M1957.2 618.3h0M1874.9 654.6h0M1739.4 583.8h0M1799.3 245.7h0M1697.6 553.1h0M1744.6 548.7h0M2169 282.7h0M1745.2 582.6h0M1703.6 457.5h0M1851.8 626.2h0M1684.3 545.1h0M1813.7 626.6h0M2001.2 590.5h0M1879.6 379.4h0M1598.6 167.4h0M1757.9 538.7h0M1830.6 684.6h0M1631.7 186.9h0M1763.7 679.9h0M1703.9 575.2h0M1599.3 163.5h0M1767.1 684.5h0M1755.9 675.7h0M1855.9 739.1h0M1864.3 750.2h0M1883.9 737.6h0M1881 194.2h0M1799.2 461.1h0M1920.4 645.4h0M1722.2 651.3h0M1751.1 655.1h0M1723.8 614.2h0M1751.8 606.9h0M1771.8 665.3h0M2157.9 279h0M1950.8 639.1h0M1741.7 687.6h0"/>
<path stroke="#39568C" d="M2131.9 397.9h0M1826.4 539.5h0M2090.3 525.7h0M1968.1 283.6h0M1906.2 652.6h0M1872.9 566.5h0M2123.8 497.6h0M1912.1 175.2h0M1900.5 585.4h0M1887.1 585.9h0M1780.3 463.6h0M1749.9 222.3h0M1972.2 289.8h0M1710.1 452.9h0M1883.2 400.2h0M1883.7 391.9h0M1880.7 691.7h0M1809 92.8h0M1956.8 100.3h0M1766.8 595.5h0M1901.3 595.8h0M1756.4 491.1h0M1813.5 489.2h0M1889.3 650h0M1833.5 430.8h0M1805.5 470.2h0M1909.3 636.7h0M1867 606.3h0M1707.1 456.4h0M1914.6 67.7h0M1738.6 484.7h0M1940.8 585.1h0M1906.6 634.6h0M1869.5 210.6h0M1719.6 461.1h0M1851.5 552h0M1795.6 513h0M2071.4 537.5h0M1876.5 702.9h0M2100.9 514.8h0M2111.7 461.4h0M1763.9 155.2h0M1715.7 460h0M2176.1 421.6h0M2170.5 435.9h0M1932.2 391.3h0M1731.7 448.8h0M1976.5 440h0M1835.6 444.2h0M2034.5 679.1h0M2025.1 163.9h0M1987 298.1h0M1904.6 696.6h0M1955.2 440.7h0M1894.4 403h0"/>
<path stroke="#33638D" d="M1952 100.6h0M2146.6 254.3h0M1848.6 199.6h0M1756.2 200.1h0M1908.6 547.7h0M1876.6 468.9h0M1855.2 489.7h0M1826.6 228.7h0M2163 440.6h0M1904.2 550.1h0M2244.4 555.2h0M1830.5 223.3h0M1919.1 462.2h0M1485.4 450.1h0M1944.7 89.4h0M1994.8 525.5h0M1894.9 70.8h0M1761 181h0M1956.5 432.1h0M1560.1 175.7h0M1806 556.6h0M1909.7 554.1h0M1947.4 432.7h0M1877.1 512.1h0M1971.9 479.2h0M2169.8 409.2h0M1782.6 110.6h0M1915.3 453.5h0M1621.9 216.3h0M1917.9 422.3h0M1769.5 156.4h0M1524.4 488.5h0M2131.3 379.3h0M1937.4 448h0M1576.1 158.8h0M1611.1 238.3h0M2045 156.8h0M1850 506.8h0M1886.6 172.2h0"/>
<path stroke="#2D708E" d="M1875.5 162.3h0M1911.2 532.9h0M1833 214.1h0M1936.8 80.4h0M1601 238.1h0M1943.2 500.5h0M1800.4 567.8h0M2043.5 177.1h0M1875.9 171.3h0M1759.8 222.8h0M1906 133.6h0M1960.5 549h0M1955.9 398.6h0M1873.1 491h0M1872.2 78.9h0M1485.8 408.1h0M2164.2 399.2h0M1950.5 495.7h0M1927.8 493.4h0M1898.3 512.3h0M1837.9 91.9h0"/>
<path stroke="#287D8E" d="M1771.4 225.1h0M1839.2 130.1h0M1477.5 484.7h0M2136.7 471.7h0M1863.4 90h0M1922.8 85.6h0M1776.8 179.6h0M2165.6 417.7h0M1844 127.9h0M2055.7 517.7h0M1793.1 234.5h0M1476.5 490h0M1474.6 485.9h0"/>
<path stroke="#238A8D" d="M1932.6 401.1h0M1934.9 397.5h0M2064.3 511.3h0M1798.7 176.2h0M1515.6 423.6h0M1518 418.6h0M1522.3 440.4h0M1805.4 163.5h0M1512.2 432.9h0M2165.3 622.3h0M1883.8 129.9h0M1485.5 493.4h0"/>
<path stroke="#1F968B" d="M2223.3 526.4h0M2084.1 491.2h0M1812.6 205.4h0M1896.4 113.5h0M2074.8 498.9h0M2051.6 181.1h0M1889.2 125h0M2213.3 520.1h0"/>
<path stroke="#20A387" d="M1966.6 578.7h0M1889 100.6h0M2092.9 492.1h0M1872.3 100.1h0M2214.6 522.4h0"/>
<path stroke="#29AF7F" d="M1438.5 465.7h0M1883.8 104.4h0"/>
<path stroke="#B8DE29" d="M2133.6 622.5h0M2079.6 648.1h0"/>
<path stroke="#FDE725" d="M2127.1 638.5h0M2119.3 634.8h0"/>
<path stroke="#440154" d="M1630.5 430.4h0M1811.4 320.1h0M1633.1 422.7h0M1634.6 562.5h0M1690.3 351.6h0M1791.2 318.9h0M1920 314h0"/>
<path stroke="#481567" d="M2020.1 326.5h0M1656.2 466.6h0M1669.2 720.3h0M1650.2 704.8h0M2060.1 348.4h0M1640.4 677.1h0M1713.6 757.1h0M1635.1 550.6h0M1645.1 548.2h0M1722 785.1h0M1718.4 759.8h0M1639.9 589.7h0M1821.1 787.1h0M1665.3 704.4h0M1635.7 431.6h0M1893.7 346.9h0M1859.2 782.2h0M1634.1 496.9h0M2034.5 562.6h0M1732.1 772.5h0M2054.8 568.6h0M1634.4 610.2h0M1639.5 640.4h0M1772 371h0M1695.2 726.9h0"/>
<path stroke="#482677" d="M2005.2 606.6h0M1656.1 637h0M1905.5 762.8h0M2050.9 562.1h0M1842.1 755.9h0M1660.3 630.7h0M2022.1 674.1h0M1839.9 768.5h0M1663.5 573.4h0M1945.6 722.9h0M1645.4 578.1h0M1834.6 774.6h0M1692.1 708.7h0M1867.3 765h0M1650.4 519.9h0M1654.6 597.7h0M1968.9 701.6h0M1668.9 418.1h0M1658.7 534.2h0M1678.2 407.6h0M1664.6 594.5h0M1705.7 386.6h0M1670.3 423.6h0M1667.6 651.6h0M1975 637.2h0"/>
<path stroke="#453781" d="M1986.1 429.5h0M2024 677.7h0M1653.2 139.6h0M1740 715.1h0M1944 699.5h0M1685.1 623.3h0M2007 554h0M1742.7 239.1h0M1668.6 575.2h0M1746.4 246.1h0M1808.3 745.5h0M1690.2 639h0M1968 619h0M1680.6 411.8h0M1898.9 737.9h0M1791.1 255.4h0M1679.4 610.5h0M1745.9 733.7h0M1748.3 762h0M1933.7 714.7h0M1696.8 632.2h0M1781.5 387h0"/>
<path stroke="#404788" d="M1757.4 702.5h0M1821.5 651h0M1725.3 415.9h0M1694 658.1h0M1743.5 515.2h0M1692.1 532.7h0M1787.1 420.3h0M1735.7 532h0M2124.8 258.4h0M1746.1 529.8h0M1755.1 630.8h0M1700.8 630.6h0M1943.5 388.4h0M1755.3 706.4h0M1708 576.8h0M1987.6 441.2h0M1895.9 59.9h0M1735 554.6h0M2029.9 132.8h0M1747.1 233.2h0M1781.4 531.5h0M1679.6 515.9h0M1931.8 190.5h0M1782 716.2h0M1750 522.2h0M1704.6 620.4h0M1856 695.1h0M1895.9 724h0M1870 214.7h0M1791.2 523h0M2078.6 132.6h0M1733.4 526.2h0M1742.1 680h0M1869.5 738.4h0M1831.5 634.4h0M1760.7 421h0M1740.1 578.5h0M1715.6 551.9h0M1862.9 377.6h0M1886.5 380.1h0M1707.1 607.4h0M1852.9 65.9h0M2107.6 448.8h0M1767.4 543.5h0M1855.7 645.8h0M1593.3 166.5h0M1917.6 147.3h0M1847 673.5h0M1783.1 676.4h0M1936.6 388h0M1786.4 629.3h0M1967.8 429.8h0M1734.7 693.6h0M1715 686.4h0M2149.2 286.2h0M1999.6 596.8h0M1929.2 206.3h0M1850.7 713.5h0"/>
<path stroke="#39568C" d="M1481.7 549.9h0M1804.7 475.5h0M2146.5 492.6h0M1887.2 717.6h0M1722.4 482.9h0M1827.4 530.6h0M1888.6 423.2h0M1827.2 526.9h0M1881.6 64h0M1840.2 590.4h0M1791.3 515.9h0M1874.5 578.9h0M1748.2 511.7h0M1735.9 489.4h0M1722.9 458.5h0M1759.3 454.7h0M2162.7 453.1h0M1910.2 407.3h0M1990.1 519.3h0M1918.3 640.9h0M1786.7 545.9h0M1724.3 445.6h0M2116.9 510.2h0M1839.8 445.7h0M1863.6 610.9h0M1832.4 446.1h0M1762.7 572h0M2118.4 504.2h0M1767.8 563.3h0M1878.1 603.8h0M1985.1 450.8h0M1767.7 555.9h0M1786.5 620.7h0M1792.1 455.9h0M1825.8 535.1h0M1883.3 688.7h0M1767.3 436.9h0M1941.4 68.1h0M1825.8 486.7h0M1844.8 432.3h0M2074.5 533h0M1859.5 413.3h0M1911 641.1h0M1819 610.1h0M1799.1 540.4h0M1994 543.1h0M1814.6 455.7h0M1757.3 479.1h0M1816.9 481.2h0M1734.5 471.7h0M1783.4 472.9h0M1900.3 402.2h0M1796 617.4h0M1787.6 473.8h0M1916.5 624.4h0"/>
<path stroke="#33638D" d="M1903.6 465.6h0M1828.1 225.7h0M2039.3 168.1h0M1776.1 584.1h0M1908.1 559.9h0M1802.1 553.4h0M2044.6 157.3h0M1929.3 573h0M2081.3 522.4h0M1859.6 446.1h0M2037.5 166.7h0M1914.6 555.2h0M1949.4 90.7h0M1976.7 474.3h0M1864.4 192.2h0M1575.1 163.5h0M1755.3 209.5h0M1945.2 574.3h0M1862.2 477.2h0M1851.7 513.9h0M1451.6 462.9h0M1599.8 213.4h0M1632 210h0M1780.4 593.5h0M1853.3 80.9h0M1925.2 436.9h0M1889 439.7h0M2043.2 185.4h0M1877.4 531.7h0M1870.4 503h0M1984.5 497.4h0M1836.9 80.8h0M1877 485h0M1885.8 513.4h0M1983.8 510.8h0"/>
<path stroke="#2D708E" d="M1857.8 89.2h0M1581.4 244.9h0M1914.1 489.6h0M1919.2 498.7h0M1496 537.5h0M1940.7 524h0M1885.7 152.5h0M1913.5 127.3h0M1964.5 481.9h0M1849.2 85.7h0M1971.3 494h0M1499.7 554.6h0M2161.5 437.4h0M1812.8 569.5h0M1809.1 564.6h0M2126.8 455.2h0M1953.6 523h0M1957 540.7h0M1502.3 569h0M1922.9 476.6h0M2159.2 232.1h0M1761.4 190.9h0M1990.8 595.2h0M1943.8 495h0M1599.2 251.8h0M1851.2 88.3h0M1577.2 234.5h0M1930.5 515h0"/>
<path stroke="#287D8E" d="M1837.3 188.1h0M1836.3 198.1h0M1917.9 86.6h0M1843.5 160.2h0M2231.8 547.5h0M1834.8 181h0M1816.9 107.2h0M1848 132.6h0M1958.3 573.4h0M1776.1 221h0M1887.7 144.4h0M1913.8 122.3h0M1924.5 93.5h0M1600.1 238.8h0M1584.5 245.6h0M1906.1 125h0M1790.2 231.3h0M1777.4 157.4h0M1779.2 167.9h0M2064.1 505.1h0M1845.4 175.9h0"/>
<path stroke="#238A8D" d="M1510.2 424.3h0M1530.9 428.2h0M1893.6 90.9h0M1829.3 141.8h0M1825.4 148.8h0M1991.8 575.1h0M1774.4 195.7h0M1524 446.5h0M1791.2 169.7h0M1476.2 400.6h0M1513.3 430.5h0M1788.2 154.4h0"/>
<path stroke="#1F968B" d="M2101.9 494.1h0M2063.9 518.2h0M2089.4 503.3h0M1974.9 253.9h0M2161.7 608h0"/>
<path stroke="#20A387" d="M2160 627.5h0M2220 525.4h0"/>
<path stroke="#3CBB75" d="M1426.4 462.9h0"/>
<path stroke="#55C667" d="M1429.1 465.4h0"/>
<path stroke="#B8DE29" d="M2087.1 659.5h0"/>
<path stroke="#DCE319" d="M2132.7 631.6h0M2097.8 651h0"/>
<path stroke="#440154" d="M1710 781.4h0M1774.3 353.2h0M1737.6 346.6h0"/>
<path stroke="#481567" d="M1723.2 370h0M1642 643.5h0M1650 480.4h0M1640.7 659.7h0M2010.7 660.9h0M1656.3 621.9h0M1638.1 500.7h0M1795.7 808.4h0M1642 411.2h0M1651.5 688.9h0M1817.4 797.6h0M2014.5 506.3h0M1637.8 671.8h0M1739.6 361.1h0M1652.7 405.1h0M1639.6 440.5h0M1630.4 549.8h0M1718.2 769.9h0M2045.6 565.7h0M1643.1 683.7h0M1646.6 699.8h0M1651.9 469.8h0M1628.3 528.5h0"/>
<path stroke="#482677" d="M1871.7 774.6h0M1665.7 569.8h0M2005.9 482.7h0M1733.7 740.9h0M1806 773.3h0M1755.4 766.4h0M1731.9 755.7h0M1855.1 316.3h0M1840.3 772.3h0M1671.2 692.7h0M1957.5 694.3h0M1810.7 774.9h0M1827.2 768.8h0M1799.7 368.7h0M1726.6 745h0M1791.6 375.1h0M1844 764.3h0M1699.4 389.9h0M1659.3 486.9h0M1668.3 609.7h0M1754.3 772.8h0"/>
<path stroke="#453781" d="M1691.8 464.5h0M1884 359.8h0M1836.9 759.8h0M1702.2 414h0M1782.3 760.7h0M1853.2 758.7h0M1767.9 261.2h0M1853.6 751.5h0M1722 388.3h0M1734.3 722h0M1829.2 240.1h0M1741.3 731.2h0M1876.4 351.3h0M1832.6 329.8h0M2005.4 545.1h0M1925.3 387.2h0M2065.4 549h0M1949.4 703.9h0M2078.8 547.7h0M1679.8 473h0M1790.8 765h0M1758.9 753.7h0M2123 370.4h0"/>
<path stroke="#404788" d="M1708.8 665.6h0M1750.3 578.1h0M2052.8 126.4h0M1727.7 428.5h0M1741.1 624.4h0M1872.3 729.3h0M1719.4 559.8h0M1621.5 180.9h0M2176.2 268.6h0M1739 643.1h0M1771.1 680h0M1779 674.8h0M1968.6 614.2h0M1697.1 495.6h0M1809.9 406h0M1792.5 638h0M1716.4 526.8h0M1606.8 175.6h0M1822.3 739.1h0M1870.4 616.1h0M1722.4 698.4h0M1731.8 648.6h0M1810.3 734.5h0M1821.5 709.8h0M2127.2 376h0M2075 537.2h0M1736.1 567h0M1803.4 703.3h0M1702.1 424.4h0M1772.6 630.1h0M1815.6 700.3h0M1877.3 386.3h0M1870.1 746h0M1720.1 441.2h0M2034.2 452h0M1845 416.1h0M1788 632.3h0M1831 69.8h0M1792.5 726.1h0M1753.6 422.2h0M1697.6 528.8h0M1767.3 509.9h0M1823.7 392.9h0M1792.4 703.6h0M2162.5 284.8h0M1771.4 433h0M1802 399h0M1693.1 444.6h0M1846.9 729.8h0M1690.8 540.3h0M1696.1 520.2h0M1591.1 199.6h0M1997.9 498.8h0M1733.7 426.3h0M1787.3 695.3h0M1772 428.2h0M1787.7 729.5h0M1726.5 680.4h0M1778.7 412.5h0M1707.7 560.2h0M2162.8 278.3h0M1680.5 508.9h0M1924.2 646.7h0M1899 716.6h0M1719.5 629.3h0M1697.1 467.6h0M1822.7 656.8h0M1704.8 640.5h0M1862.4 366.9h0M1743.4 232.5h0M1950.2 388.5h0M1798.8 510.6h0M1838.1 407.7h0M1721.2 529.8h0M1965.2 420.2h0"/>
<path stroke="#39568C" d="M1912.1 425.9h0M1978.6 459.9h0M1863.1 443.2h0M2109.7 509.2h0M2110.5 517.9h0M1764.8 139.3h0M2120.3 446.2h0M1809.3 531.2h0M1793.8 541.4h0M2057.1 550.9h0M1870.9 699.9h0M1915.2 638.7h0M1978.5 605.8h0M1780.2 458.7h0M2037.6 545.7h0M1842.6 469.5h0M2120 498.2h0M2157 469.1h0M1862.7 398.9h0M1865.3 692.5h0M1816.5 430.1h0M2084.5 524.9h0M1892.6 673.1h0M1806.6 522.2h0M1747.1 203h0M1974.3 445.6h0M1836.8 459.8h0M1835.6 546.2h0M1896.4 703.5h0M1779.9 105.3h0M1881.6 180.5h0M1898.6 691.3h0M1737.6 436.4h0M1808.1 463.7h0M1867.3 647h0M2130.1 394.5h0M1723.6 441.7h0M1829.8 472.8h0M1821.9 76.2h0M1833.6 620.6h0M1872.5 662.7h0M1833.4 601.9h0M1762.4 430.7h0M1849.3 426h0M1782 499h0M1821.9 537.6h0M2132.3 503.5h0M1940.2 639h0M1858 428.2h0"/>
<path stroke="#33638D" d="M1577.9 254.4h0M1917.3 560h0M2059.9 543.7h0M1890.2 541.4h0M1876.6 554.2h0M1911.9 548.1h0M1933.8 73.7h0M1826.4 586.2h0M2153.1 288h0M1866.3 499h0M1754.8 193.2h0M1599.8 258h0M1950.6 468.1h0M1879 177.9h0M1627.2 219.5h0M2033.6 165h0M2186.7 513.4h0M1580.7 253.9h0M2118.2 494.8h0M1920.6 429.9h0M1758.9 233h0M1903.2 539.5h0M1897.8 521h0M1941.7 435.9h0M2168.8 412.9h0M2138.2 212.3h0M1602.8 255.3h0M2056.6 546.3h0M1946.7 439.1h0M1596.8 205.6h0M1931.4 577.5h0"/>
<path stroke="#2D708E" d="M1500.2 553.7h0M1497.5 567.1h0M2045.1 166.6h0M1814.6 102.8h0M1950.3 529.6h0M1971.1 523.1h0M1944.3 490.3h0M1907.8 523.7h0M1974 508.1h0M1817.1 577h0M2159.5 204.1h0M1569.9 155.8h0M1813 578.7h0M1905.9 502h0M2045.8 183.1h0M1901.7 80.4h0M1926 474.9h0M1844.5 193.1h0M1836.6 108.8h0M1893.9 493h0M1871.1 180h0M1891.7 521.3h0M1912.9 494.1h0M1951.5 566.5h0"/>
<path stroke="#287D8E" d="M1505.3 491.9h0M1863.4 162.8h0M1783 231.2h0M2127.9 459.5h0M1832.8 183.7h0M1600.1 242h0M1774.5 191.5h0M1854.2 172.7h0M1841.8 156.8h0M2071.4 496.6h0M1782.9 164.7h0M1783.2 170.7h0M1822.8 216.6h0M1841.9 144.1h0M1870.2 88.5h0M1925.1 102.9h0M1873.7 137h0M2240.4 550.7h0M2143.8 432.4h0"/>
<path stroke="#238A8D" d="M1823.1 178.3h0M1822 123h0M1532.7 441.4h0M1814.8 184.4h0M1785.1 181.5h0M1821.1 118.3h0M1518.4 434.4h0M1951.6 416h0M1905.1 113.7h0M1521.1 437.3h0M1821.2 212.7h0M1785.4 126.1h0M1823.5 136.6h0M2154 440.6h0M1517.1 439h0M2067.8 506.8h0M1528.8 436.7h0M2152.3 383.1h0M1787.5 143.6h0M1480.6 482.2h0"/>
<path stroke="#1F968B" d="M1812.1 195.2h0M1813.2 216.4h0M1985.8 278.3h0M2153.8 402.1h0M1813.8 209.6h0M2208.9 534.8h0"/>
<path stroke="#20A387" d="M1469.4 391.9h0M1876.6 100.8h0"/>
<path stroke="#29AF7F" d="M1439.5 468.9h0"/>
<path stroke="#3CBB75" d="M2062.6 660.6h0"/>
<path stroke="#DCE319" d="M2094 647.7h0"/>
<path stroke="#FDE725" d="M2114.4 639.5h0M2127.7 628.6h0"/>
</g>
<path d="M1379 15V849.7M1378.2 849H2286.5" stroke="#000" stroke-width="1.6" fill="none"/>
<path d="M1437.4 849v7M1641.8 849v7M1846.3 849v7M2050.8 849v7M2255.8 849v7M1379 227.5h-7M1379 452.5h-7M1379 678.5h-7" stroke="#000" stroke-width="1.6" fill="none"/>
<g font-family='"Liberation Sans", sans-serif' font-size="26" fill="#000">
<text x="1437.4" y="881.2" text-anchor="middle">−50</text>
<text x="1641.8" y="881.2" text-anchor="middle">−25</text>
<text x="1846.3" y="881.2" text-anchor="middle">0</text>
<text x="2050.8" y="881.2" text-anchor="middle">25</text>
<text x="2255.8" y="881.2" text-anchor="middle">50</text>
<text x="1366" y="236.8" text-anchor="end">25</text>
<text x="1366" y="461.8" text-anchor="end">0</text>
<text x="1366" y="687.8" text-anchor="end">−25</text>
</g>
<g font-family='"Liberation Sans", sans-serif' font-size="24" fill="#000">
<text x="1832" y="912" text-anchor="middle">tSNE 1</text>
<text transform="translate(1311 431.5) rotate(-90)" text-anchor="middle">tSNE 2</text>
</g>
<defs><linearGradient id="vir" x1="0" y1="0" x2="0" y2="1"><stop offset="0.000" stop-color="#FDE725"/><stop offset="0.053" stop-color="#DCE319"/><stop offset="0.105" stop-color="#B8DE29"/><stop offset="0.158" stop-color="#95D840"/><stop offset="0.211" stop-color="#73D055"/><stop offset="0.263" stop-color="#55C667"/><stop offset="0.316" stop-color="#3CBB75"/><stop offset="0.368" stop-color="#29AF7F"/><stop offset="0.421" stop-color="#20A387"/><stop offset="0.474" stop-color="#1F968B"/><stop offset="0.526" stop-color="#238A8D"/><stop offset="0.579" stop-color="#287D8E"/><stop offset="0.632" stop-color="#2D708E"/><stop offset="0.684" stop-color="#33638D"/><stop offset="0.737" stop-color="#39568C"/><stop offset="0.789" stop-color="#404788"/><stop offset="0.842" stop-color="#453781"/><stop offset="0.895" stop-color="#482677"/><stop offset="0.947" stop-color="#481567"/><stop offset="1.000" stop-color="#440154"/></linearGradient></defs>
<rect x="2327" y="349" width="43.2" height="211.6" fill="url(#vir)"/>
<path d="M2327 354h8.6M2370.2 354h-8.6M2327 405.4h8.6M2370.2 405.4h-8.6M2327 457h8.6M2370.2 457h-8.6M2327 508.6h8.6M2370.2 508.6h-8.6" stroke="#fff" stroke-opacity=".7" stroke-width="1.1" fill="none"/>
<g font-family='"Liberation Sans", sans-serif' fill="#000">
<text x="2327.4" y="332.3" font-size="34">Density</text>
<text x="2383.2" y="362.8" font-size="26.4">1.2e−05</text>
<text x="2383.2" y="414.2" font-size="26.4">9.0e−06</text>
<text x="2383.2" y="465.8" font-size="26.4">6.0e−06</text>
<text x="2383.2" y="517.4" font-size="26.4">3.0e−06</text>
</g>
</g>
<g id="pC">
<rect x="91.5" y="946.5" width="87.5" height="38" fill="#5050FF"/>
<rect x="178.8" y="946.5" width="87.5" height="38" fill="#CE3D32"/>
<rect x="266" y="946.5" width="87.5" height="38" fill="#749B58"/>
<rect x="353.2" y="946.5" width="87.5" height="38" fill="#F0E685"/>
<rect x="440.5" y="946.5" width="87.5" height="38" fill="#466983"/>
<rect x="527.8" y="946.5" width="87.5" height="38" fill="#BA6338"/>
<rect x="615" y="946.5" width="87.5" height="38" fill="#5DB1DD"/>
<rect x="702.2" y="946.5" width="87.5" height="38" fill="#802268"/>
<rect x="91.5" y="991.5" width="43.9" height="39.2" fill="#4575B4"/>
<rect x="135.1" y="991.5" width="43.9" height="39.2" fill="#D73027"/>
<rect x="178.8" y="991.5" width="43.9" height="39.2" fill="#4575B4"/>
<rect x="222.4" y="991.5" width="43.9" height="39.2" fill="#D73027"/>
<rect x="266" y="991.5" width="43.9" height="39.2" fill="#4575B4"/>
<rect x="309.6" y="991.5" width="43.9" height="39.2" fill="#D73027"/>
<rect x="353.2" y="991.5" width="43.9" height="39.2" fill="#4575B4"/>
<rect x="396.9" y="991.5" width="43.9" height="39.2" fill="#D73027"/>
<rect x="440.5" y="991.5" width="43.9" height="39.2" fill="#4575B4"/>
<rect x="484.1" y="991.5" width="43.9" height="39.2" fill="#D73027"/>
<rect x="527.8" y="991.5" width="43.9" height="39.2" fill="#4575B4"/>
<rect x="571.4" y="991.5" width="43.9" height="39.2" fill="#D73027"/>
<rect x="615" y="991.5" width="43.9" height="39.2" fill="#4575B4"/>
<rect x="658.6" y="991.5" width="43.9" height="39.2" fill="#D73027"/>
<rect x="702.2" y="991.5" width="43.9" height="39.2" fill="#4575B4"/>
<rect x="745.9" y="991.5" width="43.9" height="39.2" fill="#D73027"/>
<path d="M94.1 1040h39v13.5h-39zM137.7 1040h39v13.5h-39zM181.3 1040h39v13.5h-39zM225 1040h39v13.5h-39zM268.6 1040h39v13.5h-39zM312.2 1040h39v13.5h-39zM355.9 1040h39v13.5h-39zM399.5 1040h39v13.5h-39zM443.1 1040h39v13.5h-39zM486.7 1040h39v13.5h-39zM530.4 1040h39v13.5h-39zM574 1040h39v13.5h-39zM617.6 1040h39v13.5h-39zM661.2 1040h39v13.5h-39zM704.9 1040h39v13.5h-39zM748.5 1040h39v13.5h-39zM94.1 1057.9h39v13.5h-39zM137.7 1057.9h39v13.5h-39zM181.3 1057.9h39v13.5h-39zM225 1057.9h39v13.5h-39zM268.6 1057.9h39v13.5h-39zM312.2 1057.9h39v13.5h-39zM355.9 1057.9h39v13.5h-39zM399.5 1057.9h39v13.5h-39zM443.1 1057.9h39v13.5h-39zM486.7 1057.9h39v13.5h-39zM530.4 1057.9h39v13.5h-39zM574 1057.9h39v13.5h-39zM617.6 1057.9h39v13.5h-39zM661.2 1057.9h39v13.5h-39zM704.9 1057.9h39v13.5h-39zM748.5 1057.9h39v13.5h-39zM94.1 1075.8h39v13.5h-39zM137.7 1075.8h39v13.5h-39zM181.3 1075.8h39v13.5h-39zM225 1075.8h39v13.5h-39zM268.6 1075.8h39v13.5h-39zM312.2 1075.8h39v13.5h-39zM355.9 1075.8h39v13.5h-39zM399.5 1075.8h39v13.5h-39zM443.1 1075.8h39v13.5h-39zM486.7 1075.8h39v13.5h-39zM530.4 1075.8h39v13.5h-39zM574 1075.8h39v13.5h-39zM617.6 1075.8h39v13.5h-39zM661.2 1075.8h39v13.5h-39zM704.9 1075.8h39v13.5h-39zM748.5 1075.8h39v13.5h-39zM94.1 1093.8h39v13.5h-39zM137.7 1093.8h39v13.5h-39zM181.3 1093.8h39v13.5h-39zM225 1093.8h39v13.5h-39zM268.6 1093.8h39v13.5h-39zM312.2 1093.8h39v13.5h-39zM355.9 1093.8h39v13.5h-39zM399.5 1093.8h39v13.5h-39zM443.1 1093.8h39v13.5h-39zM486.7 1093.8h39v13.5h-39zM530.4 1093.8h39v13.5h-39zM574 1093.8h39v13.5h-39zM617.6 1093.8h39v13.5h-39zM661.2 1093.8h39v13.5h-39zM704.9 1093.8h39v13.5h-39zM748.5 1093.8h39v13.5h-39zM94.1 1111.7h39v13.5h-39zM137.7 1111.7h39v13.5h-39zM181.3 1111.7h39v13.5h-39zM225 1111.7h39v13.5h-39zM268.6 1111.7h39v13.5h-39zM312.2 1111.7h39v13.5h-39zM355.9 1111.7h39v13.5h-39zM399.5 1111.7h39v13.5h-39zM443.1 1111.7h39v13.5h-39zM486.7 1111.7h39v13.5h-39zM530.4 1111.7h39v13.5h-39zM574 1111.7h39v13.5h-39zM617.6 1111.7h39v13.5h-39zM661.2 1111.7h39v13.5h-39zM704.9 1111.7h39v13.5h-39zM748.5 1111.7h39v13.5h-39zM94.1 1129.6h39v13.5h-39zM137.7 1129.6h39v13.5h-39zM181.3 1129.6h39v13.5h-39zM225 1129.6h39v13.5h-39zM268.6 1129.6h39v13.5h-39zM312.2 1129.6h39v13.5h-39zM355.9 1129.6h39v13.5h-39zM399.5 1129.6h39v13.5h-39zM443.1 1129.6h39v13.5h-39zM486.7 1129.6h39v13.5h-39zM530.4 1129.6h39v13.5h-39zM574 1129.6h39v13.5h-39zM617.6 1129.6h39v13.5h-39zM661.2 1129.6h39v13.5h-39zM704.9 1129.6h39v13.5h-39zM748.5 1129.6h39v13.5h-39zM94.1 1147.5h39v13.5h-39zM137.7 1147.5h39v13.5h-39zM181.3 1147.5h39v13.5h-39zM225 1147.5h39v13.5h-39zM268.6 1147.5h39v13.5h-39zM312.2 1147.5h39v13.5h-39zM355.9 1147.5h39v13.5h-39zM399.5 1147.5h39v13.5h-39zM443.1 1147.5h39v13.5h-39zM486.7 1147.5h39v13.5h-39zM530.4 1147.5h39v13.5h-39zM574 1147.5h39v13.5h-39zM617.6 1147.5h39v13.5h-39zM661.2 1147.5h39v13.5h-39zM704.9 1147.5h39v13.5h-39zM748.5 1147.5h39v13.5h-39zM94.1 1165.5h39v13.5h-39zM137.7 1165.5h39v13.5h-39zM181.3 1165.5h39v13.5h-39zM225 1165.5h39v13.5h-39zM268.6 1165.5h39v13.5h-39zM312.2 1165.5h39v13.5h-39zM355.9 1165.5h39v13.5h-39zM399.5 1165.5h39v13.5h-39zM443.1 1165.5h39v13.5h-39zM486.7 1165.5h39v13.5h-39zM530.4 1165.5h39v13.5h-39zM574 1165.5h39v13.5h-39zM617.6 1165.5h39v13.5h-39zM661.2 1165.5h39v13.5h-39zM704.9 1165.5h39v13.5h-39zM748.5 1165.5h39v13.5h-39zM94.1 1183.4h39v13.5h-39zM137.7 1183.4h39v13.5h-39zM181.3 1183.4h39v13.5h-39zM225 1183.4h39v13.5h-39zM268.6 1183.4h39v13.5h-39zM312.2 1183.4h39v13.5h-39zM355.9 1183.4h39v13.5h-39zM399.5 1183.4h39v13.5h-39zM443.1 1183.4h39v13.5h-39zM486.7 1183.4h39v13.5h-39zM530.4 1183.4h39v13.5h-39zM574 1183.4h39v13.5h-39zM617.6 1183.4h39v13.5h-39zM661.2 1183.4h39v13.5h-39zM704.9 1183.4h39v13.5h-39zM748.5 1183.4h39v13.5h-39zM94.1 1201.3h39v13.5h-39zM137.7 1201.3h39v13.5h-39zM181.3 1201.3h39v13.5h-39zM225 1201.3h39v13.5h-39zM268.6 1201.3h39v13.5h-39zM312.2 1201.3h39v13.5h-39zM355.9 1201.3h39v13.5h-39zM399.5 1201.3h39v13.5h-39zM443.1 1201.3h39v13.5h-39zM486.7 1201.3h39v13.5h-39zM530.4 1201.3h39v13.5h-39zM574 1201.3h39v13.5h-39zM617.6 1201.3h39v13.5h-39zM661.2 1201.3h39v13.5h-39zM704.9 1201.3h39v13.5h-39zM748.5 1201.3h39v13.5h-39zM94.1 1219.2h39v13.5h-39zM137.7 1219.2h39v13.5h-39zM181.3 1219.2h39v13.5h-39zM225 1219.2h39v13.5h-39zM268.6 1219.2h39v13.5h-39zM312.2 1219.2h39v13.5h-39zM355.9 1219.2h39v13.5h-39zM399.5 1219.2h39v13.5h-39zM443.1 1219.2h39v13.5h-39zM486.7 1219.2h39v13.5h-39zM530.4 1219.2h39v13.5h-39zM574 1219.2h39v13.5h-39zM617.6 1219.2h39v13.5h-39zM661.2 1219.2h39v13.5h-39zM704.9 1219.2h39v13.5h-39zM748.5 1219.2h39v13.5h-39zM94.1 1237.2h39v13.5h-39zM137.7 1237.2h39v13.5h-39zM181.3 1237.2h39v13.5h-39zM225 1237.2h39v13.5h-39zM268.6 1237.2h39v13.5h-39zM312.2 1237.2h39v13.5h-39zM355.9 1237.2h39v13.5h-39zM399.5 1237.2h39v13.5h-39zM443.1 1237.2h39v13.5h-39zM486.7 1237.2h39v13.5h-39zM530.4 1237.2h39v13.5h-39zM574 1237.2h39v13.5h-39zM617.6 1237.2h39v13.5h-39zM661.2 1237.2h39v13.5h-39zM704.9 1237.2h39v13.5h-39zM748.5 1237.2h39v13.5h-39zM94.1 1255.1h39v13.5h-39zM137.7 1255.1h39v13.5h-39zM181.3 1255.1h39v13.5h-39zM225 1255.1h39v13.5h-39zM268.6 1255.1h39v13.5h-39zM312.2 1255.1h39v13.5h-39zM355.9 1255.1h39v13.5h-39zM399.5 1255.1h39v13.5h-39zM443.1 1255.1h39v13.5h-39zM486.7 1255.1h39v13.5h-39zM530.4 1255.1h39v13.5h-39zM574 1255.1h39v13.5h-39zM617.6 1255.1h39v13.5h-39zM661.2 1255.1h39v13.5h-39zM704.9 1255.1h39v13.5h-39zM748.5 1255.1h39v13.5h-39zM94.1 1273h39v13.5h-39zM137.7 1273h39v13.5h-39zM181.3 1273h39v13.5h-39zM225 1273h39v13.5h-39zM268.6 1273h39v13.5h-39zM312.2 1273h39v13.5h-39zM355.9 1273h39v13.5h-39zM399.5 1273h39v13.5h-39zM443.1 1273h39v13.5h-39zM486.7 1273h39v13.5h-39zM530.4 1273h39v13.5h-39zM574 1273h39v13.5h-39zM617.6 1273h39v13.5h-39zM661.2 1273h39v13.5h-39zM704.9 1273h39v13.5h-39zM748.5 1273h39v13.5h-39zM94.1 1291h39v13.5h-39zM137.7 1291h39v13.5h-39zM181.3 1291h39v13.5h-39zM225 1291h39v13.5h-39zM268.6 1291h39v13.5h-39zM312.2 1291h39v13.5h-39zM355.9 1291h39v13.5h-39zM399.5 1291h39v13.5h-39zM443.1 1291h39v13.5h-39zM486.7 1291h39v13.5h-39zM530.4 1291h39v13.5h-39zM574 1291h39v13.5h-39zM617.6 1291h39v13.5h-39zM661.2 1291h39v13.5h-39zM704.9 1291h39v13.5h-39zM748.5 1291h39v13.5h-39zM94.1 1308.9h39v13.5h-39zM137.7 1308.9h39v13.5h-39zM181.3 1308.9h39v13.5h-39zM225 1308.9h39v13.5h-39zM268.6 1308.9h39v13.5h-39zM312.2 1308.9h39v13.5h-39zM355.9 1308.9h39v13.5h-39zM399.5 1308.9h39v13.5h-39zM443.1 1308.9h39v13.5h-39zM486.7 1308.9h39v13.5h-39zM530.4 1308.9h39v13.5h-39zM574 1308.9h39v13.5h-39zM617.6 1308.9h39v13.5h-39zM661.2 1308.9h39v13.5h-39zM704.9 1308.9h39v13.5h-39zM748.5 1308.9h39v13.5h-39zM94.1 1326.8h39v13.5h-39zM137.7 1326.8h39v13.5h-39zM181.3 1326.8h39v13.5h-39zM225 1326.8h39v13.5h-39zM268.6 1326.8h39v13.5h-39zM312.2 1326.8h39v13.5h-39zM355.9 1326.8h39v13.5h-39zM399.5 1326.8h39v13.5h-39zM443.1 1326.8h39v13.5h-39zM486.7 1326.8h39v13.5h-39zM530.4 1326.8h39v13.5h-39zM574 1326.8h39v13.5h-39zM617.6 1326.8h39v13.5h-39zM661.2 1326.8h39v13.5h-39zM704.9 1326.8h39v13.5h-39zM748.5 1326.8h39v13.5h-39zM94.1 1344.7h39v13.5h-39zM137.7 1344.7h39v13.5h-39zM181.3 1344.7h39v13.5h-39zM225 1344.7h39v13.5h-39zM268.6 1344.7h39v13.5h-39zM312.2 1344.7h39v13.5h-39zM355.9 1344.7h39v13.5h-39zM399.5 1344.7h39v13.5h-39zM443.1 1344.7h39v13.5h-39zM486.7 1344.7h39v13.5h-39zM530.4 1344.7h39v13.5h-39zM574 1344.7h39v13.5h-39zM617.6 1344.7h39v13.5h-39zM661.2 1344.7h39v13.5h-39zM704.9 1344.7h39v13.5h-39zM748.5 1344.7h39v13.5h-39zM94.1 1362.7h39v13.5h-39zM137.7 1362.7h39v13.5h-39zM181.3 1362.7h39v13.5h-39zM225 1362.7h39v13.5h-39zM268.6 1362.7h39v13.5h-39zM312.2 1362.7h39v13.5h-39zM355.9 1362.7h39v13.5h-39zM399.5 1362.7h39v13.5h-39zM443.1 1362.7h39v13.5h-39zM486.7 1362.7h39v13.5h-39zM530.4 1362.7h39v13.5h-39zM574 1362.7h39v13.5h-39zM617.6 1362.7h39v13.5h-39zM661.2 1362.7h39v13.5h-39zM704.9 1362.7h39v13.5h-39zM748.5 1362.7h39v13.5h-39zM94.1 1380.6h39v13.5h-39zM137.7 1380.6h39v13.5h-39zM181.3 1380.6h39v13.5h-39zM225 1380.6h39v13.5h-39zM268.6 1380.6h39v13.5h-39zM312.2 1380.6h39v13.5h-39zM355.9 1380.6h39v13.5h-39zM399.5 1380.6h39v13.5h-39zM443.1 1380.6h39v13.5h-39zM486.7 1380.6h39v13.5h-39zM530.4 1380.6h39v13.5h-39zM574 1380.6h39v13.5h-39zM617.6 1380.6h39v13.5h-39zM661.2 1380.6h39v13.5h-39zM704.9 1380.6h39v13.5h-39zM748.5 1380.6h39v13.5h-39zM94.1 1398.5h39v13.5h-39zM137.7 1398.5h39v13.5h-39zM181.3 1398.5h39v13.5h-39zM225 1398.5h39v13.5h-39zM268.6 1398.5h39v13.5h-39zM312.2 1398.5h39v13.5h-39zM355.9 1398.5h39v13.5h-39zM399.5 1398.5h39v13.5h-39zM443.1 1398.5h39v13.5h-39zM486.7 1398.5h39v13.5h-39zM530.4 1398.5h39v13.5h-39zM574 1398.5h39v13.5h-39zM617.6 1398.5h39v13.5h-39zM661.2 1398.5h39v13.5h-39zM704.9 1398.5h39v13.5h-39zM748.5 1398.5h39v13.5h-39zM94.1 1416.4h39v13.5h-39zM137.7 1416.4h39v13.5h-39zM181.3 1416.4h39v13.5h-39zM225 1416.4h39v13.5h-39zM268.6 1416.4h39v13.5h-39zM312.2 1416.4h39v13.5h-39zM355.9 1416.4h39v13.5h-39zM399.5 1416.4h39v13.5h-39zM443.1 1416.4h39v13.5h-39zM486.7 1416.4h39v13.5h-39zM530.4 1416.4h39v13.5h-39zM574 1416.4h39v13.5h-39zM617.6 1416.4h39v13.5h-39zM661.2 1416.4h39v13.5h-39zM704.9 1416.4h39v13.5h-39zM748.5 1416.4h39v13.5h-39zM94.1 1434.4h39v13.5h-39zM137.7 1434.4h39v13.5h-39zM181.3 1434.4h39v13.5h-39zM225 1434.4h39v13.5h-39zM268.6 1434.4h39v13.5h-39zM312.2 1434.4h39v13.5h-39zM355.9 1434.4h39v13.5h-39zM399.5 1434.4h39v13.5h-39zM443.1 1434.4h39v13.5h-39zM486.7 1434.4h39v13.5h-39zM530.4 1434.4h39v13.5h-39zM574 1434.4h39v13.5h-39zM617.6 1434.4h39v13.5h-39zM661.2 1434.4h39v13.5h-39zM704.9 1434.4h39v13.5h-39zM748.5 1434.4h39v13.5h-39zM94.1 1452.3h39v13.5h-39zM137.7 1452.3h39v13.5h-39zM181.3 1452.3h39v13.5h-39zM225 1452.3h39v13.5h-39zM268.6 1452.3h39v13.5h-39zM312.2 1452.3h39v13.5h-39zM355.9 1452.3h39v13.5h-39zM399.5 1452.3h39v13.5h-39zM443.1 1452.3h39v13.5h-39zM486.7 1452.3h39v13.5h-39zM530.4 1452.3h39v13.5h-39zM574 1452.3h39v13.5h-39zM617.6 1452.3h39v13.5h-39zM661.2 1452.3h39v13.5h-39zM704.9 1452.3h39v13.5h-39zM748.5 1452.3h39v13.5h-39zM94.1 1470.2h39v13.5h-39zM137.7 1470.2h39v13.5h-39zM181.3 1470.2h39v13.5h-39zM225 1470.2h39v13.5h-39zM268.6 1470.2h39v13.5h-39zM312.2 1470.2h39v13.5h-39zM355.9 1470.2h39v13.5h-39zM399.5 1470.2h39v13.5h-39zM443.1 1470.2h39v13.5h-39zM486.7 1470.2h39v13.5h-39zM530.4 1470.2h39v13.5h-39zM574 1470.2h39v13.5h-39zM617.6 1470.2h39v13.5h-39zM661.2 1470.2h39v13.5h-39zM704.9 1470.2h39v13.5h-39zM748.5 1470.2h39v13.5h-39zM94.1 1488.1h39v13.5h-39zM137.7 1488.1h39v13.5h-39zM181.3 1488.1h39v13.5h-39zM225 1488.1h39v13.5h-39zM268.6 1488.1h39v13.5h-39zM312.2 1488.1h39v13.5h-39zM355.9 1488.1h39v13.5h-39zM399.5 1488.1h39v13.5h-39zM443.1 1488.1h39v13.5h-39zM486.7 1488.1h39v13.5h-39zM530.4 1488.1h39v13.5h-39zM574 1488.1h39v13.5h-39zM617.6 1488.1h39v13.5h-39zM661.2 1488.1h39v13.5h-39zM704.9 1488.1h39v13.5h-39zM748.5 1488.1h39v13.5h-39zM94.1 1506h39v13.5h-39zM137.7 1506h39v13.5h-39zM181.3 1506h39v13.5h-39zM225 1506h39v13.5h-39zM268.6 1506h39v13.5h-39zM312.2 1506h39v13.5h-39zM355.9 1506h39v13.5h-39zM399.5 1506h39v13.5h-39zM443.1 1506h39v13.5h-39zM486.7 1506h39v13.5h-39zM530.4 1506h39v13.5h-39zM574 1506h39v13.5h-39zM617.6 1506h39v13.5h-39zM661.2 1506h39v13.5h-39zM704.9 1506h39v13.5h-39zM748.5 1506h39v13.5h-39zM94.1 1524h39v13.5h-39zM137.7 1524h39v13.5h-39zM181.3 1524h39v13.5h-39zM225 1524h39v13.5h-39zM268.6 1524h39v13.5h-39zM312.2 1524h39v13.5h-39zM355.9 1524h39v13.5h-39zM399.5 1524h39v13.5h-39zM443.1 1524h39v13.5h-39zM486.7 1524h39v13.5h-39zM530.4 1524h39v13.5h-39zM574 1524h39v13.5h-39zM617.6 1524h39v13.5h-39zM661.2 1524h39v13.5h-39zM704.9 1524h39v13.5h-39zM748.5 1524h39v13.5h-39zM94.1 1541.9h39v13.5h-39zM137.7 1541.9h39v13.5h-39zM181.3 1541.9h39v13.5h-39zM225 1541.9h39v13.5h-39zM268.6 1541.9h39v13.5h-39zM312.2 1541.9h39v13.5h-39zM355.9 1541.9h39v13.5h-39zM399.5 1541.9h39v13.5h-39zM443.1 1541.9h39v13.5h-39zM486.7 1541.9h39v13.5h-39zM530.4 1541.9h39v13.5h-39zM574 1541.9h39v13.5h-39zM617.6 1541.9h39v13.5h-39zM661.2 1541.9h39v13.5h-39zM704.9 1541.9h39v13.5h-39zM748.5 1541.9h39v13.5h-39zM94.1 1559.8h39v13.5h-39zM137.7 1559.8h39v13.5h-39zM181.3 1559.8h39v13.5h-39zM225 1559.8h39v13.5h-39zM268.6 1559.8h39v13.5h-39zM312.2 1559.8h39v13.5h-39zM355.9 1559.8h39v13.5h-39zM399.5 1559.8h39v13.5h-39zM443.1 1559.8h39v13.5h-39zM486.7 1559.8h39v13.5h-39zM530.4 1559.8h39v13.5h-39zM574 1559.8h39v13.5h-39zM617.6 1559.8h39v13.5h-39zM661.2 1559.8h39v13.5h-39zM704.9 1559.8h39v13.5h-39zM748.5 1559.8h39v13.5h-39zM94.1 1577.8h39v13.5h-39zM137.7 1577.8h39v13.5h-39zM181.3 1577.8h39v13.5h-39zM225 1577.8h39v13.5h-39zM268.6 1577.8h39v13.5h-39zM312.2 1577.8h39v13.5h-39zM355.9 1577.8h39v13.5h-39zM399.5 1577.8h39v13.5h-39zM443.1 1577.8h39v13.5h-39zM486.7 1577.8h39v13.5h-39zM530.4 1577.8h39v13.5h-39zM574 1577.8h39v13.5h-39zM617.6 1577.8h39v13.5h-39zM661.2 1577.8h39v13.5h-39zM704.9 1577.8h39v13.5h-39zM748.5 1577.8h39v13.5h-39zM94.1 1595.7h39v13.5h-39zM137.7 1595.7h39v13.5h-39zM181.3 1595.7h39v13.5h-39zM225 1595.7h39v13.5h-39zM268.6 1595.7h39v13.5h-39zM312.2 1595.7h39v13.5h-39zM355.9 1595.7h39v13.5h-39zM399.5 1595.7h39v13.5h-39zM443.1 1595.7h39v13.5h-39zM486.7 1595.7h39v13.5h-39zM530.4 1595.7h39v13.5h-39zM574 1595.7h39v13.5h-39zM617.6 1595.7h39v13.5h-39zM661.2 1595.7h39v13.5h-39zM704.9 1595.7h39v13.5h-39zM748.5 1595.7h39v13.5h-39zM94.1 1613.6h39v13.5h-39zM137.7 1613.6h39v13.5h-39zM181.3 1613.6h39v13.5h-39zM225 1613.6h39v13.5h-39zM268.6 1613.6h39v13.5h-39zM312.2 1613.6h39v13.5h-39zM355.9 1613.6h39v13.5h-39zM399.5 1613.6h39v13.5h-39zM443.1 1613.6h39v13.5h-39zM486.7 1613.6h39v13.5h-39zM530.4 1613.6h39v13.5h-39zM574 1613.6h39v13.5h-39zM617.6 1613.6h39v13.5h-39zM661.2 1613.6h39v13.5h-39zM704.9 1613.6h39v13.5h-39zM748.5 1613.6h39v13.5h-39zM94.1 1631.5h39v13.5h-39zM137.7 1631.5h39v13.5h-39zM181.3 1631.5h39v13.5h-39zM225 1631.5h39v13.5h-39zM268.6 1631.5h39v13.5h-39zM312.2 1631.5h39v13.5h-39zM355.9 1631.5h39v13.5h-39zM399.5 1631.5h39v13.5h-39zM443.1 1631.5h39v13.5h-39zM486.7 1631.5h39v13.5h-39zM530.4 1631.5h39v13.5h-39zM574 1631.5h39v13.5h-39zM617.6 1631.5h39v13.5h-39zM661.2 1631.5h39v13.5h-39zM704.9 1631.5h39v13.5h-39zM748.5 1631.5h39v13.5h-39zM94.1 1649.5h39v13.5h-39zM137.7 1649.5h39v13.5h-39zM181.3 1649.5h39v13.5h-39zM225 1649.5h39v13.5h-39zM268.6 1649.5h39v13.5h-39zM312.2 1649.5h39v13.5h-39zM355.9 1649.5h39v13.5h-39zM399.5 1649.5h39v13.5h-39zM443.1 1649.5h39v13.5h-39zM486.7 1649.5h39v13.5h-39zM530.4 1649.5h39v13.5h-39zM574 1649.5h39v13.5h-39zM617.6 1649.5h39v13.5h-39zM661.2 1649.5h39v13.5h-39zM704.9 1649.5h39v13.5h-39zM748.5 1649.5h39v13.5h-39zM94.1 1667.4h39v13.5h-39zM137.7 1667.4h39v13.5h-39zM181.3 1667.4h39v13.5h-39zM225 1667.4h39v13.5h-39zM268.6 1667.4h39v13.5h-39zM312.2 1667.4h39v13.5h-39zM355.9 1667.4h39v13.5h-39zM399.5 1667.4h39v13.5h-39zM443.1 1667.4h39v13.5h-39zM486.7 1667.4h39v13.5h-39zM530.4 1667.4h39v13.5h-39zM574 1667.4h39v13.5h-39zM617.6 1667.4h39v13.5h-39zM661.2 1667.4h39v13.5h-39zM704.9 1667.4h39v13.5h-39zM748.5 1667.4h39v13.5h-39zM94.1 1685.3h39v13.5h-39zM137.7 1685.3h39v13.5h-39zM181.3 1685.3h39v13.5h-39zM225 1685.3h39v13.5h-39zM268.6 1685.3h39v13.5h-39zM312.2 1685.3h39v13.5h-39zM355.9 1685.3h39v13.5h-39zM399.5 1685.3h39v13.5h-39zM443.1 1685.3h39v13.5h-39zM486.7 1685.3h39v13.5h-39zM530.4 1685.3h39v13.5h-39zM574 1685.3h39v13.5h-39zM617.6 1685.3h39v13.5h-39zM661.2 1685.3h39v13.5h-39zM704.9 1685.3h39v13.5h-39zM748.5 1685.3h39v13.5h-39zM94.1 1703.2h39v13.5h-39zM137.7 1703.2h39v13.5h-39zM181.3 1703.2h39v13.5h-39zM225 1703.2h39v13.5h-39zM268.6 1703.2h39v13.5h-39zM312.2 1703.2h39v13.5h-39zM355.9 1703.2h39v13.5h-39zM399.5 1703.2h39v13.5h-39zM443.1 1703.2h39v13.5h-39zM486.7 1703.2h39v13.5h-39zM530.4 1703.2h39v13.5h-39zM574 1703.2h39v13.5h-39zM617.6 1703.2h39v13.5h-39zM661.2 1703.2h39v13.5h-39zM704.9 1703.2h39v13.5h-39zM748.5 1703.2h39v13.5h-39zM94.1 1721.1h39v13.5h-39zM137.7 1721.1h39v13.5h-39zM181.3 1721.1h39v13.5h-39zM225 1721.1h39v13.5h-39zM268.6 1721.1h39v13.5h-39zM312.2 1721.1h39v13.5h-39zM355.9 1721.1h39v13.5h-39zM399.5 1721.1h39v13.5h-39zM443.1 1721.1h39v13.5h-39zM486.7 1721.1h39v13.5h-39zM530.4 1721.1h39v13.5h-39zM574 1721.1h39v13.5h-39zM617.6 1721.1h39v13.5h-39zM661.2 1721.1h39v13.5h-39zM704.9 1721.1h39v13.5h-39zM748.5 1721.1h39v13.5h-39zM94.1 1739.1h39v13.5h-39zM137.7 1739.1h39v13.5h-39zM181.3 1739.1h39v13.5h-39zM225 1739.1h39v13.5h-39zM268.6 1739.1h39v13.5h-39zM312.2 1739.1h39v13.5h-39zM355.9 1739.1h39v13.5h-39zM399.5 1739.1h39v13.5h-39zM443.1 1739.1h39v13.5h-39zM486.7 1739.1h39v13.5h-39zM530.4 1739.1h39v13.5h-39zM574 1739.1h39v13.5h-39zM617.6 1739.1h39v13.5h-39zM661.2 1739.1h39v13.5h-39zM704.9 1739.1h39v13.5h-39zM748.5 1739.1h39v13.5h-39zM94.1 1757h39v13.5h-39zM137.7 1757h39v13.5h-39zM181.3 1757h39v13.5h-39zM225 1757h39v13.5h-39zM268.6 1757h39v13.5h-39zM312.2 1757h39v13.5h-39zM355.9 1757h39v13.5h-39zM399.5 1757h39v13.5h-39zM443.1 1757h39v13.5h-39zM486.7 1757h39v13.5h-39zM530.4 1757h39v13.5h-39zM574 1757h39v13.5h-39zM617.6 1757h39v13.5h-39zM661.2 1757h39v13.5h-39zM704.9 1757h39v13.5h-39zM748.5 1757h39v13.5h-39zM94.1 1774.9h39v13.5h-39zM137.7 1774.9h39v13.5h-39zM181.3 1774.9h39v13.5h-39zM225 1774.9h39v13.5h-39zM268.6 1774.9h39v13.5h-39zM312.2 1774.9h39v13.5h-39zM355.9 1774.9h39v13.5h-39zM399.5 1774.9h39v13.5h-39zM443.1 1774.9h39v13.5h-39zM486.7 1774.9h39v13.5h-39zM530.4 1774.9h39v13.5h-39zM574 1774.9h39v13.5h-39zM617.6 1774.9h39v13.5h-39zM661.2 1774.9h39v13.5h-39zM704.9 1774.9h39v13.5h-39zM748.5 1774.9h39v13.5h-39zM94.1 1792.9h39v13.5h-39zM137.7 1792.9h39v13.5h-39zM181.3 1792.9h39v13.5h-39zM225 1792.9h39v13.5h-39zM268.6 1792.9h39v13.5h-39zM312.2 1792.9h39v13.5h-39zM355.9 1792.9h39v13.5h-39zM399.5 1792.9h39v13.5h-39zM443.1 1792.9h39v13.5h-39zM486.7 1792.9h39v13.5h-39zM530.4 1792.9h39v13.5h-39zM574 1792.9h39v13.5h-39zM617.6 1792.9h39v13.5h-39zM661.2 1792.9h39v13.5h-39zM704.9 1792.9h39v13.5h-39zM748.5 1792.9h39v13.5h-39zM94.1 1810.8h39v13.5h-39zM137.7 1810.8h39v13.5h-39zM181.3 1810.8h39v13.5h-39zM225 1810.8h39v13.5h-39zM268.6 1810.8h39v13.5h-39zM312.2 1810.8h39v13.5h-39zM355.9 1810.8h39v13.5h-39zM399.5 1810.8h39v13.5h-39zM443.1 1810.8h39v13.5h-39zM486.7 1810.8h39v13.5h-39zM530.4 1810.8h39v13.5h-39zM574 1810.8h39v13.5h-39zM617.6 1810.8h39v13.5h-39zM661.2 1810.8h39v13.5h-39zM704.9 1810.8h39v13.5h-39zM748.5 1810.8h39v13.5h-39zM94.1 1828.7h39v13.5h-39zM137.7 1828.7h39v13.5h-39zM181.3 1828.7h39v13.5h-39zM225 1828.7h39v13.5h-39zM268.6 1828.7h39v13.5h-39zM312.2 1828.7h39v13.5h-39zM355.9 1828.7h39v13.5h-39zM399.5 1828.7h39v13.5h-39zM443.1 1828.7h39v13.5h-39zM486.7 1828.7h39v13.5h-39zM530.4 1828.7h39v13.5h-39zM574 1828.7h39v13.5h-39zM617.6 1828.7h39v13.5h-39zM661.2 1828.7h39v13.5h-39zM704.9 1828.7h39v13.5h-39zM748.5 1828.7h39v13.5h-39zM94.1 1846.6h39v13.5h-39zM137.7 1846.6h39v13.5h-39zM181.3 1846.6h39v13.5h-39zM225 1846.6h39v13.5h-39zM268.6 1846.6h39v13.5h-39zM312.2 1846.6h39v13.5h-39zM355.9 1846.6h39v13.5h-39zM399.5 1846.6h39v13.5h-39zM443.1 1846.6h39v13.5h-39zM486.7 1846.6h39v13.5h-39zM530.4 1846.6h39v13.5h-39zM574 1846.6h39v13.5h-39zM617.6 1846.6h39v13.5h-39zM661.2 1846.6h39v13.5h-39zM704.9 1846.6h39v13.5h-39zM748.5 1846.6h39v13.5h-39zM94.1 1864.5h39v13.5h-39zM137.7 1864.5h39v13.5h-39zM181.3 1864.5h39v13.5h-39zM225 1864.5h39v13.5h-39zM268.6 1864.5h39v13.5h-39zM312.2 1864.5h39v13.5h-39zM355.9 1864.5h39v13.5h-39zM399.5 1864.5h39v13.5h-39zM443.1 1864.5h39v13.5h-39zM486.7 1864.5h39v13.5h-39zM530.4 1864.5h39v13.5h-39zM574 1864.5h39v13.5h-39zM617.6 1864.5h39v13.5h-39zM661.2 1864.5h39v13.5h-39zM704.9 1864.5h39v13.5h-39zM748.5 1864.5h39v13.5h-39zM94.1 1882.5h39v13.5h-39zM137.7 1882.5h39v13.5h-39zM181.3 1882.5h39v13.5h-39zM225 1882.5h39v13.5h-39zM268.6 1882.5h39v13.5h-39zM312.2 1882.5h39v13.5h-39zM355.9 1882.5h39v13.5h-39zM399.5 1882.5h39v13.5h-39zM443.1 1882.5h39v13.5h-39zM486.7 1882.5h39v13.5h-39zM530.4 1882.5h39v13.5h-39zM574 1882.5h39v13.5h-39zM617.6 1882.5h39v13.5h-39zM661.2 1882.5h39v13.5h-39zM704.9 1882.5h39v13.5h-39zM748.5 1882.5h39v13.5h-39zM94.1 1900.4h39v13.5h-39zM137.7 1900.4h39v13.5h-39zM181.3 1900.4h39v13.5h-39zM225 1900.4h39v13.5h-39zM268.6 1900.4h39v13.5h-39zM312.2 1900.4h39v13.5h-39zM355.9 1900.4h39v13.5h-39zM399.5 1900.4h39v13.5h-39zM443.1 1900.4h39v13.5h-39zM486.7 1900.4h39v13.5h-39zM530.4 1900.4h39v13.5h-39zM574 1900.4h39v13.5h-39zM617.6 1900.4h39v13.5h-39zM661.2 1900.4h39v13.5h-39zM704.9 1900.4h39v13.5h-39zM748.5 1900.4h39v13.5h-39zM94.1 1918.3h39v13.5h-39zM137.7 1918.3h39v13.5h-39zM181.3 1918.3h39v13.5h-39zM225 1918.3h39v13.5h-39zM268.6 1918.3h39v13.5h-39zM312.2 1918.3h39v13.5h-39zM355.9 1918.3h39v13.5h-39zM399.5 1918.3h39v13.5h-39zM443.1 1918.3h39v13.5h-39zM486.7 1918.3h39v13.5h-39zM530.4 1918.3h39v13.5h-39zM574 1918.3h39v13.5h-39zM617.6 1918.3h39v13.5h-39zM661.2 1918.3h39v13.5h-39zM704.9 1918.3h39v13.5h-39zM748.5 1918.3h39v13.5h-39z" fill="#CFDEE6"/>
<path d="M486.7 1040h39v13.5h-39zM574 1040h39v13.5h-39zM617.6 1040h39v13.5h-39zM748.5 1040h39v13.5h-39zM486.7 1057.9h39v13.5h-39zM574 1057.9h39v13.5h-39zM617.6 1057.9h39v13.5h-39zM748.5 1057.9h39v13.5h-39zM94.1 1075.8h39v13.5h-39zM486.7 1075.8h39v13.5h-39zM617.6 1075.8h39v13.5h-39zM748.5 1075.8h39v13.5h-39zM94.1 1093.8h39v13.5h-39zM486.7 1093.8h39v13.5h-39zM617.6 1093.8h39v13.5h-39zM748.5 1093.8h39v13.5h-39zM486.7 1111.7h39v13.5h-39zM617.6 1111.7h39v13.5h-39zM748.5 1111.7h39v13.5h-39zM486.7 1129.6h39v13.5h-39zM748.5 1129.6h39v13.5h-39zM486.7 1147.5h39v13.5h-39zM748.5 1147.5h39v13.5h-39zM486.7 1165.5h39v13.5h-39zM748.5 1165.5h39v13.5h-39zM486.7 1183.4h39v13.5h-39zM748.5 1183.4h39v13.5h-39zM94.1 1201.3h39v13.5h-39zM748.5 1201.3h39v13.5h-39zM137.7 1219.2h39v13.5h-39zM574 1219.2h39v13.5h-39zM617.6 1219.2h39v13.5h-39zM137.7 1237.2h39v13.5h-39zM225 1237.2h39v13.5h-39zM574 1237.2h39v13.5h-39zM225 1255.1h39v13.5h-39zM312.2 1255.1h39v13.5h-39zM574 1255.1h39v13.5h-39zM225 1273h39v13.5h-39zM225 1291h39v13.5h-39zM225 1308.9h39v13.5h-39zM137.7 1326.8h39v13.5h-39zM312.2 1326.8h39v13.5h-39zM748.5 1326.8h39v13.5h-39zM137.7 1344.7h39v13.5h-39zM312.2 1344.7h39v13.5h-39zM312.2 1362.7h39v13.5h-39zM137.7 1380.6h39v13.5h-39zM268.6 1380.6h39v13.5h-39zM530.4 1380.6h39v13.5h-39zM225 1398.5h39v13.5h-39zM268.6 1398.5h39v13.5h-39zM399.5 1398.5h39v13.5h-39zM225 1416.4h39v13.5h-39zM268.6 1416.4h39v13.5h-39zM399.5 1416.4h39v13.5h-39zM268.6 1434.4h39v13.5h-39zM399.5 1434.4h39v13.5h-39zM137.7 1452.3h39v13.5h-39zM399.5 1452.3h39v13.5h-39zM399.5 1470.2h39v13.5h-39zM574 1470.2h39v13.5h-39zM574 1488.1h39v13.5h-39zM574 1506h39v13.5h-39zM574 1524h39v13.5h-39zM574 1541.9h39v13.5h-39zM399.5 1559.8h39v13.5h-39zM399.5 1577.8h39v13.5h-39zM399.5 1595.7h39v13.5h-39zM399.5 1613.6h39v13.5h-39z" fill="#F8766D"/>
<g font-family='"Liberation Sans", sans-serif' font-size="26.5" fill="#000" stroke="#000" stroke-width=".5" text-anchor="middle">
<text x="505.9" y="1054.1">*</text>
<text x="593.2" y="1054.1">*</text>
<text x="636.8" y="1054.1">**</text>
<text x="767.7" y="1054.1">*</text>
<text x="505.9" y="1072">**</text>
<text x="593.2" y="1072">*</text>
<text x="636.8" y="1072">***</text>
<text x="767.7" y="1072">*</text>
<text x="113.3" y="1089.9">*</text>
<text x="505.9" y="1089.9">***</text>
<text x="636.8" y="1089.9">***</text>
<text x="767.7" y="1089.9">****</text>
<text x="113.3" y="1107.9">**</text>
<text x="505.9" y="1107.9">**</text>
<text x="636.8" y="1107.9">*</text>
<text x="767.7" y="1107.9">**</text>
<text x="505.9" y="1125.8">***</text>
<text x="636.8" y="1125.8">***</text>
<text x="767.7" y="1125.8">***</text>
<text x="505.9" y="1143.7">*</text>
<text x="767.7" y="1143.7">*</text>
<text x="505.9" y="1161.6">**</text>
<text x="767.7" y="1161.6">**</text>
<text x="505.9" y="1179.6">**</text>
<text x="767.7" y="1179.6">*</text>
<text x="505.9" y="1197.5">*</text>
<text x="767.7" y="1197.5">*</text>
<text x="113.3" y="1215.4">*</text>
<text x="767.7" y="1215.4">*</text>
<text x="156.9" y="1233.3">**</text>
<text x="593.2" y="1233.3">****</text>
<text x="636.8" y="1233.3">**</text>
<text x="156.9" y="1251.3">*</text>
<text x="244.2" y="1251.3">*</text>
<text x="593.2" y="1251.3">**</text>
<text x="244.2" y="1269.2">***</text>
<text x="331.4" y="1269.2">***</text>
<text x="593.2" y="1269.2">**</text>
<text x="244.2" y="1287.1">**</text>
<text x="244.2" y="1305">**</text>
<text x="244.2" y="1323">*</text>
<text x="156.9" y="1340.9">*</text>
<text x="331.4" y="1340.9">**</text>
<text x="767.7" y="1340.9">*</text>
<text x="156.9" y="1358.8">**</text>
<text x="331.4" y="1358.8">*</text>
<text x="331.4" y="1376.8">*</text>
<text x="156.9" y="1394.7">**</text>
<text x="287.8" y="1394.7">**</text>
<text x="549.6" y="1394.7">*</text>
<text x="244.2" y="1412.6">***</text>
<text x="287.8" y="1412.6">*</text>
<text x="418.7" y="1412.6">*</text>
<text x="244.2" y="1430.5">*</text>
<text x="287.8" y="1430.5">***</text>
<text x="418.7" y="1430.5">***</text>
<text x="287.8" y="1448.5">**</text>
<text x="418.7" y="1448.5">*</text>
<text x="156.9" y="1466.4">*</text>
<text x="418.7" y="1466.4">*</text>
<text x="418.7" y="1484.3">**</text>
<text x="593.2" y="1484.3">*</text>
<text x="593.2" y="1502.2">*</text>
<text x="593.2" y="1520.1">**</text>
<text x="593.2" y="1538.1">**</text>
<text x="593.2" y="1556">**</text>
<text x="418.7" y="1573.9">*</text>
<text x="418.7" y="1591.8">**</text>
<text x="418.7" y="1609.8">*</text>
<text x="418.7" y="1627.7">*</text>
</g>
<g font-family='"Liberation Sans", sans-serif' font-size="21.3" fill="#000">
<text x="797" y="973">Cluster</text><text x="797" y="1018">Direction</text>
</g>
<g font-family='"Liberation Sans", sans-serif' font-size="18.62" fill="#000" stroke="#000" stroke-width=".25">
<text x="797" y="1053.6">HALLMARK−APOPTOSIS</text>
<text x="797" y="1071.5">HALLMARK−TGF−BETA−SIGNALING</text>
<text x="797" y="1089.4">HALLMARK−ANGIOGENESIS</text>
<text x="797" y="1107.4">HALLMARK−COAGULATION</text>
<text x="797" y="1125.3">HALLMARK−EPITHELIAL−MESENCHYMAL−TRANSITION</text>
<text x="797" y="1143.2">HALLMARK−UV−RESPONSE−DN</text>
<text x="797" y="1161.1">HALLMARK−MYOGENESIS</text>
<text x="797" y="1179.1">HALLMARK−APICAL−JUNCTION</text>
<text x="797" y="1197">HALLMARK−HEDGEHOG−SIGNALING</text>
<text x="797" y="1214.9">HALLMARK−NOTCH−SIGNALING</text>
<text x="797" y="1232.8">HALLMARK−TNFA−SIGNALING−VIA−NFKB</text>
<text x="797" y="1250.8">HALLMARK−INTERFERON−GAMMA−RESPONSE</text>
<text x="797" y="1268.7">HALLMARK−ALLOGRAFT−REJECTION</text>
<text x="797" y="1286.6">HALLMARK−PI3K−AKT−MTOR−SIGNALING</text>
<text x="797" y="1304.5">HALLMARK−E2F−TARGETS</text>
<text x="797" y="1322.5">HALLMARK−MTORC1−SIGNALING</text>
<text x="797" y="1340.4">HALLMARK−MITOTIC−SPINDLE</text>
<text x="797" y="1358.3">HALLMARK−G2M−CHECKPOINT</text>
<text x="797" y="1376.2">HALLMARK−IL2−STAT5−SIGNALING</text>
<text x="797" y="1394.2">HALLMARK−UNFOLDED−PROTEIN−RESPONSE</text>
<text x="797" y="1412.1">HALLMARK−MYC−TARGETS−V1</text>
<text x="797" y="1430">HALLMARK−OXIDATIVE−PHOSPHORYLATION</text>
<text x="797" y="1448">HALLMARK−REACTIVE−OXYGEN−SPECIES−PATHWAY</text>
<text x="797" y="1465.9">HALLMARK−PROTEIN−SECRETION</text>
<text x="797" y="1483.8">HALLMARK−CHOLESTEROL−HOMEOSTASIS</text>
<text x="797" y="1501.7">HALLMARK−KRAS−SIGNALING−UP</text>
<text x="797" y="1519.6">HALLMARK−INFLAMMATORY−RESPONSE</text>
<text x="797" y="1537.6">HALLMARK−COMPLEMENT</text>
<text x="797" y="1555.5">HALLMARK−<tspan fill="#C00000" stroke="#C00000" stroke-width=".8">IL6−JAK−STAT3−SIGNALING</tspan></text>
<text x="797" y="1573.4">HALLMARK−FATTY−ACID−METABOLISM</text>
<text x="797" y="1591.3">HALLMARK−ESTROGEN−RESPONSE−LATE</text>
<text x="797" y="1609.3">HALLMARK−ADIPOGENESIS</text>
<text x="797" y="1627.2">HALLMARK−ANDROGEN−RESPONSE</text>
<text x="797" y="1645.1">HALLMARK−XENOBIOTIC−METABOLISM</text>
<text x="797" y="1663">HALLMARK−WNT−BETA−CATENIN−SIGNALING</text>
<text x="797" y="1681">HALLMARK−UV−RESPONSE−UP</text>
<text x="797" y="1698.9">HALLMARK−SPERMATOGENESIS</text>
<text x="797" y="1716.8">HALLMARK−PEROXISOME</text>
<text x="797" y="1734.7">HALLMARK−PANCREAS−BETA−CELLS</text>
<text x="797" y="1752.7">HALLMARK−P53−PATHWAY</text>
<text x="797" y="1770.6">HALLMARK−MYC−TARGETS−V2</text>
<text x="797" y="1788.5">HALLMARK−KRAS−SIGNALING−DN</text>
<text x="797" y="1806.5">HALLMARK−INTERFERON−ALPHA−RESPONSE</text>
<text x="797" y="1824.4">HALLMARK−HYPOXIA</text>
<text x="797" y="1842.3">HALLMARK−HEME−METABOLISM</text>
<text x="797" y="1860.2">HALLMARK−GLYCOLYSIS</text>
<text x="797" y="1878.1">HALLMARK−ESTROGEN−RESPONSE−EARLY</text>
<text x="797" y="1896.1">HALLMARK−DNA−REPAIR</text>
<text x="797" y="1914">HALLMARK−APICAL−SURFACE</text>
<text x="797" y="1931.9">HALLMARK−BILE−ACID−METABOLISM</text>
</g>
<path d="M88.3 1044.3V1066.2M47.4 1055.3H88.3M88.3 1080.1V1102.1M59.1 1091.1H88.3M59.1 1118H88.3M59.1 1091.1V1118M47.4 1104.6H59.1M88.3 1133.9V1191.7M47.4 1151.3H88.3M47.4 1055.3V1151.3M30.5 1092H47.4M30.5 1207.6H88.3M30.5 1092V1207.6M11.9 1149.5H30.5M30.5 1225.5H88.3M47.4 1243.5H88.3M47.4 1261.4H88.3M88.3 1277.3V1317.2M47.4 1292.8H88.3M47.4 1243.5V1292.8M30.5 1260.5H47.4M47.4 1333.1H88.3M59.1 1351H88.3M59.1 1369H88.3M59.1 1351V1369M47.4 1360H59.1M47.4 1333.1V1360M30.5 1346H47.4M30.5 1225.5V1346M17.7 1265H30.5M23.7 1386.9H88.3M88.3 1402.8V1424.7M59.1 1413.8H88.3M59.1 1440.7H88.3M59.1 1413.8V1440.7M30.5 1427.6H59.1M37.8 1458.6H88.3M59.1 1476.5H88.3M88.3 1492.4V1550.2M59.1 1510.6H88.3M59.1 1476.5V1510.6M47.4 1493.5H59.1M88.3 1564.1V1621.9M59.1 1582.3H88.3M88.3 1635.8V1928.6M59.1 1655.8H88.3M59.1 1582.3V1655.8M47.4 1619.4H59.1M47.4 1493.5V1619.4M37.8 1556.4H47.4M37.8 1458.6V1556.4M30.5 1507.9H37.8M30.5 1427.6V1507.9M23.7 1468.1H30.5M23.7 1386.9V1468.1M17.7 1427.6H23.7M17.7 1265V1427.6M11.9 1346H17.7M11.9 1149.5V1346" stroke="#000" stroke-width="2" fill="none" stroke-linecap="square"/>
<g font-family='"Liberation Sans", sans-serif' fill="#000">
<text x="1319.5" y="1147.2" font-size="26.8" font-weight="bold">Cluster</text>
<rect x="1320.2" y="1164.7" width="28.4" height="28.4" fill="#5050FF"/>
<text x="1357.5" y="1188.1" font-size="26.55">B cell</text>
<rect x="1320.2" y="1195" width="28.4" height="28.4" fill="#CE3D32"/>
<text x="1357.5" y="1218.4" font-size="26.55">CD4+ T</text>
<rect x="1320.2" y="1225.3" width="28.4" height="28.4" fill="#749B58"/>
<text x="1357.5" y="1248.7" font-size="26.55">CD8+ T</text>
<rect x="1320.2" y="1255.6" width="28.4" height="28.4" fill="#F0E685"/>
<text x="1357.5" y="1279" font-size="26.55">Epithelial cell</text>
<rect x="1320.2" y="1285.9" width="28.4" height="28.4" fill="#466983"/>
<text x="1357.5" y="1309.3" font-size="26.55">Fibroblast</text>
<rect x="1320.2" y="1316.2" width="28.4" height="28.4" fill="#BA6338"/>
<text x="1357.5" y="1339.6" font-size="26.55">Macrophage</text>
<rect x="1320.2" y="1346.5" width="28.4" height="28.4" fill="#5DB1DD"/>
<text x="1357.5" y="1369.9" font-size="26.55">Plasma cell</text>
<rect x="1320.2" y="1376.8" width="28.4" height="28.4" fill="#802268"/>
<text x="1357.5" y="1400.2" font-size="26.55">Smooth muscle cell</text>
<text x="1319.5" y="1455.2" font-size="26.8" font-weight="bold">Direction</text>
<rect x="1320.2" y="1472.2" width="28.4" height="28.4" fill="#4575B4"/>
<text x="1357.5" y="1495.6" font-size="26.55">down</text>
<rect x="1320.2" y="1502.5" width="28.4" height="28.4" fill="#D73027"/>
<text x="1357.5" y="1525.9" font-size="26.55">up</text>
<text x="1319.5" y="1580.4" font-size="26.8" font-weight="bold">RRA</text>
<rect x="1320.2" y="1597.4" width="28.4" height="28.4" fill="#CFDEE6"/>
<text x="1357.5" y="1620.8" font-size="26.55">no significant</text>
<rect x="1320.2" y="1627.7" width="28.4" height="28.4" fill="#F8766D"/>
<text x="1357.5" y="1651.1" font-size="26.55">significant</text>
<text x="1319.5" y="1706" font-size="26.8" font-weight="bold">P Value</text>
<rect x="1320.2" y="1722.6" width="28.4" height="28.4" fill="#EBEBEB"/>
<text x="1334.4" y="1745.6" font-size="30" text-anchor="middle" stroke="#000" stroke-width=".4">*</text>
<text x="1357.5" y="1746" font-size="26.55">&lt; 0.05</text>
<rect x="1320.2" y="1752.9" width="28.4" height="28.4" fill="#EBEBEB"/>
<text x="1334.4" y="1775.9" font-size="30" text-anchor="middle" stroke="#000" stroke-width=".4">**</text>
<text x="1357.5" y="1776.3" font-size="26.55">&lt; 0.01</text>
<rect x="1320.2" y="1783.2" width="28.4" height="28.4" fill="#EBEBEB"/>
<text x="1334.4" y="1806.2" font-size="30" text-anchor="middle" stroke="#000" stroke-width=".4">***</text>
<text x="1357.5" y="1806.6" font-size="26.55">&lt; 0.001</text>
<rect x="1320.2" y="1813.5" width="28.4" height="28.4" fill="#EBEBEB"/>
<text x="1334.4" y="1836.5" font-size="30" text-anchor="middle" stroke="#000" stroke-width=".4">****</text>
<text x="1357.5" y="1836.9" font-size="26.55">&lt; 0.0001</text>
</g>
</g>
<g id="pD">
<g fill="none" stroke-linecap="butt">
<path d="M1820.4 1703.1Q2064.5 1519.9 2331.1 1481.9" stroke="#F781BF" stroke-opacity=".5" stroke-width="1.1"/>
<path d="M2335 1481.3L2329.8 1484.7L2329.1 1479.6Z" fill="#F781BF" fill-opacity=".8" stroke="none"/>
<path d="M1820.4 1703.1Q1990.2 1420.3 2260.1 1258.2" stroke="#F781BF" stroke-opacity=".5" stroke-width="1.1"/>
<path d="M2263.5 1256.2L2260 1261.3L2257.4 1256.9Z" fill="#F781BF" fill-opacity=".8" stroke="none"/>
<path d="M1820.4 1703.1Q1863.5 1400.9 2037.4 1169.2" stroke="#F781BF" stroke-opacity=".5" stroke-width="1.1"/>
<path d="M2039.8 1166L2038.5 1172.1L2034.3 1169Z" fill="#F781BF" fill-opacity=".8" stroke="none"/>
<path d="M1820.4 1703.1Q1756.1 1476.8 1816.5 1264.5" stroke="#F781BF" stroke-opacity=".5" stroke-width="1.1"/>
<path d="M1817.6 1260.6L1818.5 1266.8L1813.5 1265.4Z" fill="#F781BF" fill-opacity=".8" stroke="none"/>
<path d="M1820.4 1703.1Q1730.1 1607.9 1727.1 1492.3" stroke="#F781BF" stroke-opacity=".5" stroke-width="1.1"/>
<path d="M1727 1488.3L1729.7 1493.9L1724.6 1494Z" fill="#F781BF" fill-opacity=".8" stroke="none"/>
<path d="M1820.4 1703.1C1674.8 1755.4 1768.1 1848.7 1820.4 1703.1" stroke="#F781BF" stroke-opacity=".62" stroke-width="1.0"/>
<path d="M1820.4 1703.1Q1951.5 1706.5 2036.5 1787.2" stroke="#F781BF" stroke-opacity=".5" stroke-width="1.1"/>
<path d="M2039.4 1789.9L2033.6 1787.9L2037.1 1784.1Z" fill="#F781BF" fill-opacity=".8" stroke="none"/>
<path d="M1820.4 1703.1Q2046.7 1638.8 2261 1699.7" stroke="#F781BF" stroke-opacity=".5" stroke-width="1.1"/>
<path d="M2264.8 1700.8L2258.6 1701.7L2260.1 1696.7Z" fill="#F781BF" fill-opacity=".8" stroke="none"/>
<path d="M2366.7 1476.8C2531.7 1538.8 2531.7 1414.8 2366.7 1476.8" stroke="#E41A1C" stroke-opacity=".62" stroke-width="1.0"/>
<path d="M2366.7 1476.8Q2276.4 1381.6 2273.4 1265.5" stroke="#E41A1C" stroke-opacity=".5" stroke-width="1.1"/>
<path d="M2273.3 1261.5L2276 1267.1L2270.8 1267.2Z" fill="#E41A1C" fill-opacity=".8" stroke="none"/>
<path d="M2366.7 1476.8Q2161.2 1362.3 2054.2 1170.3" stroke="#E41A1C" stroke-opacity=".5" stroke-width="1.1"/>
<path d="M2052.3 1166.8L2057.3 1170.5L2052.8 1173Z" fill="#E41A1C" fill-opacity=".8" stroke="none"/>
<path d="M2366.7 1476.8Q2064.5 1433.7 1832 1259.2" stroke="#E41A1C" stroke-opacity=".5" stroke-width="1.1"/>
<path d="M1828.8 1256.8L1834.9 1258.2L1831.8 1262.3Z" fill="#E41A1C" fill-opacity=".8" stroke="none"/>
<path d="M2366.7 1476.8Q2046.7 1556.7 1741.7 1480.6" stroke="#E41A1C" stroke-opacity=".5" stroke-width="1.1"/>
<path d="M1737.9 1479.6L1744 1478.4L1742.7 1483.5Z" fill="#E41A1C" fill-opacity=".8" stroke="none"/>
<path d="M2366.7 1476.8Q2122.6 1660 1834.3 1701.1" stroke="#E41A1C" stroke-opacity=".5" stroke-width="1.1"/>
<path d="M1830.3 1701.7L1835.6 1698.3L1836.3 1703.4Z" fill="#E41A1C" fill-opacity=".8" stroke="none"/>
<path d="M2366.7 1476.8Q2252.2 1682.3 2058.9 1790" stroke="#E41A1C" stroke-opacity=".5" stroke-width="1.1"/>
<path d="M2055.4 1791.9L2059.1 1786.9L2061.6 1791.4Z" fill="#E41A1C" fill-opacity=".8" stroke="none"/>
<path d="M2366.7 1476.8Q2363.3 1607.9 2281.6 1694" stroke="#E41A1C" stroke-opacity=".5" stroke-width="1.1"/>
<path d="M2278.8 1696.9L2280.8 1691L2284.6 1694.6Z" fill="#E41A1C" fill-opacity=".8" stroke="none"/>
<path d="M2273 1250.5Q2363.3 1345.7 2365.8 1440.8" stroke="#377EB8" stroke-opacity=".5" stroke-width="1.1"/>
<path d="M2365.9 1444.8L2363.1 1439.2L2368.3 1439.1Z" fill="#377EB8" fill-opacity=".8" stroke="none"/>
<path d="M2273 1250.5Q2141.9 1247.1 2057.9 1167.5" stroke="#377EB8" stroke-opacity=".5" stroke-width="1.1"/>
<path d="M2055 1164.7L2060.9 1166.7L2057.4 1170.5Z" fill="#377EB8" fill-opacity=".8" stroke="none"/>
<path d="M2273 1250.5Q2046.7 1314.8 1834.4 1254.5" stroke="#377EB8" stroke-opacity=".5" stroke-width="1.1"/>
<path d="M1830.5 1253.4L1836.7 1252.5L1835.3 1257.4Z" fill="#377EB8" fill-opacity=".8" stroke="none"/>
<path d="M2273 1250.5Q2028.9 1433.7 1742 1474.6" stroke="#377EB8" stroke-opacity=".5" stroke-width="1.1"/>
<path d="M1738.1 1475.2L1743.3 1471.8L1744.1 1476.9Z" fill="#377EB8" fill-opacity=".8" stroke="none"/>
<path d="M2273 1250.5Q2103.2 1533.3 1832.4 1695.9" stroke="#377EB8" stroke-opacity=".5" stroke-width="1.1"/>
<path d="M1829 1697.9L1832.5 1692.8L1835.2 1697.2Z" fill="#377EB8" fill-opacity=".8" stroke="none"/>
<path d="M2273 1250.5Q2229.9 1552.7 2055.1 1785.6" stroke="#377EB8" stroke-opacity=".5" stroke-width="1.1"/>
<path d="M2052.7 1788.8L2054 1782.7L2058.2 1785.8Z" fill="#377EB8" fill-opacity=".8" stroke="none"/>
<path d="M2273 1250.5Q2337.3 1476.8 2276.4 1691.1" stroke="#377EB8" stroke-opacity=".5" stroke-width="1.1"/>
<path d="M2275.3 1694.9L2274.4 1688.7L2279.3 1690.2Z" fill="#377EB8" fill-opacity=".8" stroke="none"/>
<path d="M2046.7 1156.8Q2252.2 1271.3 2349.2 1445.4" stroke="#4DAF4A" stroke-opacity=".5" stroke-width="1.1"/>
<path d="M2351.1 1448.8L2346.1 1445.2L2350.6 1442.6Z" fill="#4DAF4A" fill-opacity=".8" stroke="none"/>
<path d="M2046.7 1156.8Q2177.8 1160.2 2262.1 1240.2" stroke="#4DAF4A" stroke-opacity=".5" stroke-width="1.1"/>
<path d="M2265 1243L2259.1 1240.9L2262.7 1237.2Z" fill="#4DAF4A" fill-opacity=".8" stroke="none"/>
<path d="M2046.7 1156.8C2108.7 1016.8 1984.7 1016.8 2046.7 1156.8" stroke="#4DAF4A" stroke-opacity=".62" stroke-width="1.0"/>
<path d="M2046.7 1156.8Q1951.5 1247.1 1834.9 1250.1" stroke="#4DAF4A" stroke-opacity=".5" stroke-width="1.1"/>
<path d="M1830.9 1250.3L1836.5 1247.5L1836.6 1252.7Z" fill="#4DAF4A" fill-opacity=".8" stroke="none"/>
<path d="M2046.7 1156.8Q1932.2 1362.3 1740.2 1469.3" stroke="#4DAF4A" stroke-opacity=".5" stroke-width="1.1"/>
<path d="M1736.7 1471.2L1740.4 1466.2L1742.9 1470.7Z" fill="#4DAF4A" fill-opacity=".8" stroke="none"/>
<path d="M2046.7 1156.8Q2003.6 1459 1828.8 1691.9" stroke="#4DAF4A" stroke-opacity=".5" stroke-width="1.1"/>
<path d="M1826.4 1695.1L1827.8 1689L1831.9 1692.1Z" fill="#4DAF4A" fill-opacity=".8" stroke="none"/>
<path d="M2046.7 1156.8Q2126.6 1476.8 2050.1 1783.2" stroke="#4DAF4A" stroke-opacity=".5" stroke-width="1.1"/>
<path d="M2049.1 1787.1L2048 1781L2053 1782.2Z" fill="#4DAF4A" fill-opacity=".8" stroke="none"/>
<path d="M2046.7 1156.8Q2229.9 1400.9 2271.2 1690.7" stroke="#4DAF4A" stroke-opacity=".5" stroke-width="1.1"/>
<path d="M2271.8 1694.7L2268.4 1689.4L2273.5 1688.7Z" fill="#4DAF4A" fill-opacity=".8" stroke="none"/>
<path d="M1820.4 1250.5Q2122.6 1293.6 2337.9 1455.2" stroke="#984EA3" stroke-opacity=".5" stroke-width="1.2"/>
<path d="M2341.1 1457.6L2335 1456.3L2338.1 1452.1Z" fill="#984EA3" fill-opacity=".8" stroke="none"/>
<path d="M1820.4 1250.5Q2046.7 1186.2 2258.5 1246.4" stroke="#984EA3" stroke-opacity=".5" stroke-width="1.2"/>
<path d="M2262.4 1247.5L2256.2 1248.5L2257.6 1243.4Z" fill="#984EA3" fill-opacity=".8" stroke="none"/>
<path d="M1820.4 1250.5Q1915.6 1160.2 2031.2 1157.2" stroke="#984EA3" stroke-opacity=".5" stroke-width="1.4"/>
<path d="M2035.2 1157.1L2029.4 1159.9L2029.3 1154.6Z" fill="#984EA3" fill-opacity=".8" stroke="none"/>
<path d="M1820.4 1250.5C1768.1 1104.9 1674.8 1198.2 1820.4 1250.5" stroke="#984EA3" stroke-opacity=".62" stroke-width="3.2"/>
<path d="M1820.4 1250.5Q1817 1381.6 1737.4 1465.6" stroke="#984EA3" stroke-opacity=".5" stroke-width="1.4"/>
<path d="M1734.6 1468.5L1736.7 1462.4L1740.6 1466.1Z" fill="#984EA3" fill-opacity=".8" stroke="none"/>
<path d="M1820.4 1250.5Q1884.7 1476.8 1824.3 1689.6" stroke="#984EA3" stroke-opacity=".5" stroke-width="1.2"/>
<path d="M1823.2 1693.5L1822.2 1687.2L1827.2 1688.7Z" fill="#984EA3" fill-opacity=".8" stroke="none"/>
<path d="M1820.4 1250.5Q2003.6 1494.6 2044.7 1782.9" stroke="#984EA3" stroke-opacity=".5" stroke-width="1.2"/>
<path d="M2045.3 1786.9L2041.9 1781.6L2047.1 1780.9Z" fill="#984EA3" fill-opacity=".8" stroke="none"/>
<path d="M1820.4 1250.5Q2103.2 1420.3 2266.5 1692.4" stroke="#984EA3" stroke-opacity=".5" stroke-width="1.2"/>
<path d="M2268.6 1695.8L2263.4 1692.2L2267.9 1689.5Z" fill="#984EA3" fill-opacity=".8" stroke="none"/>
<path d="M2273 1703.1Q2276.4 1572 2341.9 1502.9" stroke="#A65628" stroke-opacity=".5" stroke-width="1.4"/>
<path d="M2344.7 1500L2342.6 1506.1L2338.7 1502.4Z" fill="#A65628" fill-opacity=".8" stroke="none"/>
<path d="M2273 1703.1Q2208.7 1476.8 2268.9 1265" stroke="#A65628" stroke-opacity=".5" stroke-width="1.4"/>
<path d="M2270 1261.1L2271 1267.5L2265.8 1266Z" fill="#A65628" fill-opacity=".8" stroke="none"/>
<path d="M2273 1703.1Q2089.8 1459 2048.9 1172.1" stroke="#A65628" stroke-opacity=".62" stroke-width="2.4"/>
<path d="M2048.3 1168.2L2052.2 1174.1L2046.2 1175Z" fill="#A65628" fill-opacity=".8" stroke="none"/>
<path d="M2273 1703.1Q1990.2 1533.3 1827.9 1263" stroke="#A65628" stroke-opacity=".62" stroke-width="2.8"/>
<path d="M1825.8 1259.5L1832 1263.6L1826.5 1266.9Z" fill="#A65628" fill-opacity=".8" stroke="none"/>
<path d="M2273 1703.1Q1970.8 1660 1739.1 1486.1" stroke="#A65628" stroke-opacity=".62" stroke-width="1.6"/>
<path d="M1735.9 1483.7L1742.3 1485.1L1739 1489.5Z" fill="#A65628" fill-opacity=".8" stroke="none"/>
<path d="M2273 1703.1Q2046.7 1767.4 1833.9 1706.9" stroke="#A65628" stroke-opacity=".62" stroke-width="1.6"/>
<path d="M1830 1705.8L1836.5 1704.8L1835 1710.1Z" fill="#A65628" fill-opacity=".8" stroke="none"/>
<path d="M2273 1703.1Q2177.8 1793.4 2060.7 1796.4" stroke="#A65628" stroke-opacity=".62" stroke-width="1.6"/>
<path d="M2056.7 1796.5L2062.6 1793.6L2062.7 1799.1Z" fill="#A65628" fill-opacity=".8" stroke="none"/>
<path d="M2273 1703.1C2325.3 1848.7 2418.6 1755.4 2273 1703.1" stroke="#A65628" stroke-opacity=".62" stroke-width="2.2"/>
<path d="M1726.7 1476.8Q2046.7 1396.9 2331.8 1468.1" stroke="#F29403" stroke-opacity=".62" stroke-width="3.5"/>
<path d="M2335.7 1469L2327.9 1470.6L2329.6 1464Z" fill="#F29403" fill-opacity=".8" stroke="none"/>
<path d="M1726.7 1476.8Q1970.8 1293.6 2258.1 1252.6" stroke="#F29403" stroke-opacity=".62" stroke-width="2.2"/>
<path d="M2262.1 1252.1L2256.2 1255.9L2255.4 1250Z" fill="#F29403" fill-opacity=".8" stroke="none"/>
<path d="M1726.7 1476.8Q1841.2 1271.3 2033.2 1164.3" stroke="#F29403" stroke-opacity=".62" stroke-width="4.5"/>
<path d="M2036.7 1162.4L2031.8 1169.4L2028.1 1162.9Z" fill="#F29403" fill-opacity=".8" stroke="none"/>
<path d="M1726.7 1476.8Q1730.1 1345.7 1810.4 1261" stroke="#F29403" stroke-opacity=".62" stroke-width="5.5"/>
<path d="M1813.2 1258.1L1810.5 1267L1804.5 1261.3Z" fill="#F29403" fill-opacity=".8" stroke="none"/>
<path d="M1726.7 1476.8C1586.7 1414.8 1586.7 1538.8 1726.7 1476.8" stroke="#F29403" stroke-opacity=".62" stroke-width="5.5"/>
<path d="M1726.7 1476.8Q1817 1572 1820.1 1689.1" stroke="#F29403" stroke-opacity=".62" stroke-width="3.2"/>
<path d="M1820.2 1693.1L1816.7 1686.2L1823.3 1686.1Z" fill="#F29403" fill-opacity=".8" stroke="none"/>
<path d="M1726.7 1476.8Q1932.2 1591.3 2039.9 1784.6" stroke="#F29403" stroke-opacity=".62" stroke-width="9.0"/>
<path d="M2041.8 1788.1L2032.1 1781.6L2041.4 1776.4Z" fill="#F29403" fill-opacity=".8" stroke="none"/>
<path d="M1726.7 1476.8Q2028.9 1519.9 2263 1695.6" stroke="#F29403" stroke-opacity=".62" stroke-width="8.5"/>
<path d="M2266.2 1698L2255 1696L2261.2 1687.8Z" fill="#F29403" fill-opacity=".8" stroke="none"/>
<path d="M2046.7 1796.8Q2161.2 1591.3 2335.3 1494.3" stroke="#BC9DCC" stroke-opacity=".62" stroke-width="4.5"/>
<path d="M2338.7 1492.4L2333.9 1499.4L2330.2 1492.8Z" fill="#BC9DCC" fill-opacity=".8" stroke="none"/>
<path d="M2046.7 1796.8Q2089.8 1494.6 2264 1262.5" stroke="#BC9DCC" stroke-opacity=".62" stroke-width="3.0"/>
<path d="M2266.4 1259.3L2264.9 1266.7L2259.7 1262.8Z" fill="#BC9DCC" fill-opacity=".8" stroke="none"/>
<path d="M2046.7 1796.8Q1966.8 1476.8 2042.9 1171.8" stroke="#BC9DCC" stroke-opacity=".62" stroke-width="6.5"/>
<path d="M2043.9 1168L2046.1 1177.7L2037.4 1175.5Z" fill="#BC9DCC" fill-opacity=".8" stroke="none"/>
<path d="M2046.7 1796.8Q1863.5 1552.7 1822.5 1264.9" stroke="#BC9DCC" stroke-opacity=".62" stroke-width="8.5"/>
<path d="M1821.9 1260.9L1828.5 1270.2L1818.2 1271.6Z" fill="#BC9DCC" fill-opacity=".8" stroke="none"/>
<path d="M2046.7 1796.8Q1841.2 1682.3 1734.2 1490.3" stroke="#BC9DCC" stroke-opacity=".62" stroke-width="6.0"/>
<path d="M1732.3 1486.8L1740.2 1492.3L1732.7 1496.5Z" fill="#BC9DCC" fill-opacity=".8" stroke="none"/>
<path d="M2046.7 1796.8Q1915.6 1793.4 1830.6 1712.7" stroke="#BC9DCC" stroke-opacity=".62" stroke-width="4.5"/>
<path d="M1827.7 1710L1835.9 1712.5L1830.7 1718Z" fill="#BC9DCC" fill-opacity=".8" stroke="none"/>
<path d="M2046.7 1796.8C1984.7 1936.8 2108.7 1936.8 2046.7 1796.8" stroke="#BC9DCC" stroke-opacity=".62" stroke-width="11.0"/>
<path d="M2046.7 1796.8Q2141.9 1706.5 2260.5 1703.4" stroke="#BC9DCC" stroke-opacity=".62" stroke-width="9.5"/>
<path d="M2264.5 1703.3L2253.9 1709.1L2253.6 1698.1Z" fill="#BC9DCC" fill-opacity=".8" stroke="none"/>
</g>
<circle cx="2366.7" cy="1476.8" r="32" fill="#E41A1C"/>
<circle cx="2273" cy="1250.5" r="11" fill="#377EB8"/>
<circle cx="2046.7" cy="1156.8" r="11.5" fill="#4DAF4A"/>
<circle cx="1820.4" cy="1250.5" r="10.5" fill="#984EA3"/>
<circle cx="1726.7" cy="1476.8" r="11.5" fill="#F29403"/>
<circle cx="1820.4" cy="1703.1" r="10" fill="#F781BF"/>
<circle cx="2046.7" cy="1796.8" r="10" fill="#BC9DCC"/>
<circle cx="2273" cy="1703.1" r="8.5" fill="#A65628"/>
<g font-family='"Liberation Sans", sans-serif' font-size="23.7" fill="#000">
<text x="2375" y="1485">Plasma cell</text>
<text x="2277" y="1216">B cell</text>
<text x="1993" y="1113">CD4+ T</text>
<text x="1706" y="1233.5">Macrophage</text>
<text x="1626" y="1508">Fibroblast</text>
<text x="1767" y="1762.5">CD8+ T</text>
<text x="1976" y="1845.5">Smooth muscle cell</text>
<text x="2255" y="1708">Epithelial cell</text>
<text x="2046" y="1002.5" text-anchor="middle" font-size="25.8">Interaction weights/strength</text>
</g>
</g>
<g font-family='"Liberation Sans", sans-serif' font-size="86" fill="#333">
<text x="4.2" y="64">A</text><text x="1276.8" y="64">B</text><text x="1" y="1033.5">C</text><text x="1569" y="1034">D</text>
</g></svg></body></html>
